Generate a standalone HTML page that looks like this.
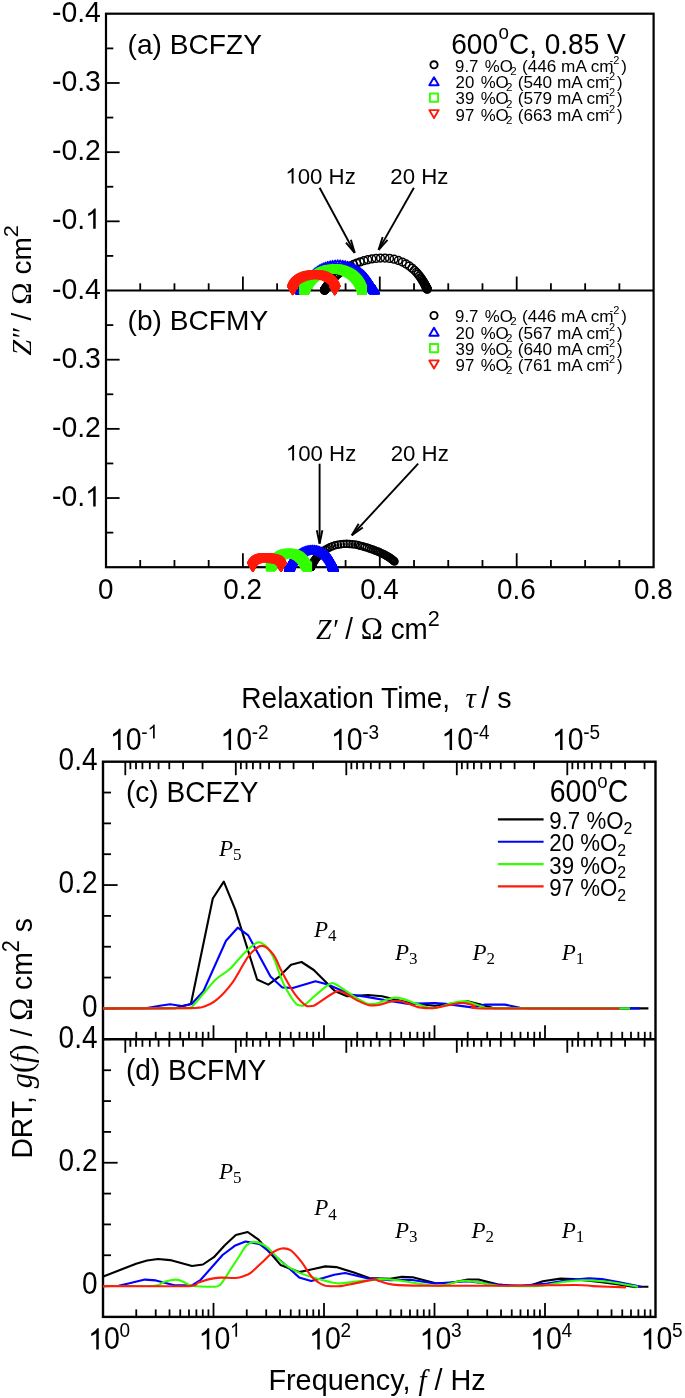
<!DOCTYPE html>
<html><head><meta charset="utf-8"><style>
html,body{margin:0;padding:0;background:#fff;}
svg{display:block;will-change:transform;}
</style></head><body>
<svg width="685" height="1398" viewBox="0 0 685 1398">
<rect width="685" height="1398" fill="#fff"/>
<rect x="106.0" y="13.7" width="547.6" height="553.5" fill="none" stroke="#000" stroke-width="2.2"/>
<line x1="106.00" y1="290.50" x2="653.60" y2="290.50" stroke="#000" stroke-width="2.2"/>
<line x1="140.22" y1="290.50" x2="140.22" y2="283.30" stroke="#000" stroke-width="1.8"/>
<line x1="174.45" y1="290.50" x2="174.45" y2="283.30" stroke="#000" stroke-width="1.8"/>
<line x1="208.68" y1="290.50" x2="208.68" y2="283.30" stroke="#000" stroke-width="1.8"/>
<line x1="242.90" y1="290.50" x2="242.90" y2="276.50" stroke="#000" stroke-width="1.8"/>
<line x1="277.12" y1="290.50" x2="277.12" y2="283.30" stroke="#000" stroke-width="1.8"/>
<line x1="311.35" y1="290.50" x2="311.35" y2="283.30" stroke="#000" stroke-width="1.8"/>
<line x1="345.58" y1="290.50" x2="345.58" y2="283.30" stroke="#000" stroke-width="1.8"/>
<line x1="379.80" y1="290.50" x2="379.80" y2="276.50" stroke="#000" stroke-width="1.8"/>
<line x1="414.03" y1="290.50" x2="414.03" y2="283.30" stroke="#000" stroke-width="1.8"/>
<line x1="448.25" y1="290.50" x2="448.25" y2="283.30" stroke="#000" stroke-width="1.8"/>
<line x1="482.48" y1="290.50" x2="482.48" y2="283.30" stroke="#000" stroke-width="1.8"/>
<line x1="516.70" y1="290.50" x2="516.70" y2="276.50" stroke="#000" stroke-width="1.8"/>
<line x1="550.92" y1="290.50" x2="550.92" y2="283.30" stroke="#000" stroke-width="1.8"/>
<line x1="585.15" y1="290.50" x2="585.15" y2="283.30" stroke="#000" stroke-width="1.8"/>
<line x1="619.38" y1="290.50" x2="619.38" y2="283.30" stroke="#000" stroke-width="1.8"/>
<line x1="140.22" y1="567.20" x2="140.22" y2="560.00" stroke="#000" stroke-width="1.8"/>
<line x1="174.45" y1="567.20" x2="174.45" y2="560.00" stroke="#000" stroke-width="1.8"/>
<line x1="208.68" y1="567.20" x2="208.68" y2="560.00" stroke="#000" stroke-width="1.8"/>
<line x1="242.90" y1="567.20" x2="242.90" y2="553.20" stroke="#000" stroke-width="1.8"/>
<line x1="277.12" y1="567.20" x2="277.12" y2="560.00" stroke="#000" stroke-width="1.8"/>
<line x1="311.35" y1="567.20" x2="311.35" y2="560.00" stroke="#000" stroke-width="1.8"/>
<line x1="345.58" y1="567.20" x2="345.58" y2="560.00" stroke="#000" stroke-width="1.8"/>
<line x1="379.80" y1="567.20" x2="379.80" y2="553.20" stroke="#000" stroke-width="1.8"/>
<line x1="414.03" y1="567.20" x2="414.03" y2="560.00" stroke="#000" stroke-width="1.8"/>
<line x1="448.25" y1="567.20" x2="448.25" y2="560.00" stroke="#000" stroke-width="1.8"/>
<line x1="482.48" y1="567.20" x2="482.48" y2="560.00" stroke="#000" stroke-width="1.8"/>
<line x1="516.70" y1="567.20" x2="516.70" y2="553.20" stroke="#000" stroke-width="1.8"/>
<line x1="550.92" y1="567.20" x2="550.92" y2="560.00" stroke="#000" stroke-width="1.8"/>
<line x1="585.15" y1="567.20" x2="585.15" y2="560.00" stroke="#000" stroke-width="1.8"/>
<line x1="619.38" y1="567.20" x2="619.38" y2="560.00" stroke="#000" stroke-width="1.8"/>
<line x1="106.00" y1="255.91" x2="113.30" y2="255.91" stroke="#000" stroke-width="1.8"/>
<line x1="106.00" y1="221.33" x2="119.60" y2="221.33" stroke="#000" stroke-width="1.8"/>
<line x1="106.00" y1="186.74" x2="113.30" y2="186.74" stroke="#000" stroke-width="1.8"/>
<line x1="106.00" y1="152.16" x2="119.60" y2="152.16" stroke="#000" stroke-width="1.8"/>
<line x1="106.00" y1="117.57" x2="113.30" y2="117.57" stroke="#000" stroke-width="1.8"/>
<line x1="106.00" y1="82.99" x2="119.60" y2="82.99" stroke="#000" stroke-width="1.8"/>
<line x1="106.00" y1="48.40" x2="113.30" y2="48.40" stroke="#000" stroke-width="1.8"/>
<line x1="106.00" y1="532.62" x2="113.30" y2="532.62" stroke="#000" stroke-width="1.8"/>
<line x1="106.00" y1="498.03" x2="119.60" y2="498.03" stroke="#000" stroke-width="1.8"/>
<line x1="106.00" y1="463.45" x2="113.30" y2="463.45" stroke="#000" stroke-width="1.8"/>
<line x1="106.00" y1="428.86" x2="119.60" y2="428.86" stroke="#000" stroke-width="1.8"/>
<line x1="106.00" y1="394.28" x2="113.30" y2="394.28" stroke="#000" stroke-width="1.8"/>
<line x1="106.00" y1="359.69" x2="119.60" y2="359.69" stroke="#000" stroke-width="1.8"/>
<line x1="106.00" y1="325.11" x2="113.30" y2="325.11" stroke="#000" stroke-width="1.8"/>
<text transform="translate(100.90,22.22) scale(1.04,1.08)" font-family='"Liberation Sans", sans-serif' font-size="27.3" text-anchor="end">-0.4</text>
<text transform="translate(100.90,91.39) scale(1.04,1.08)" font-family='"Liberation Sans", sans-serif' font-size="27.3" text-anchor="end">-0.3</text>
<text transform="translate(100.90,160.16) scale(1.04,1.08)" font-family='"Liberation Sans", sans-serif' font-size="27.3" text-anchor="end">-0.2</text>
<path d="M95.69,228.83 L93.19,228.83 L93.19,213.02 Q92.29,213.89 90.82,214.74 Q89.35,215.59 88.19,216.03 L88.19,213.61 Q90.28,212.63 91.85,211.24 Q93.41,209.86 94.07,208.55 L95.69,208.55 Z" fill="#000"/>
<text transform="translate(100.90,228.83) scale(1.04,1.08)" font-family='"Liberation Sans", sans-serif' font-size="27.3" text-anchor="end">-0. </text>
<text transform="translate(100.90,298.92) scale(1.04,1.08)" font-family='"Liberation Sans", sans-serif' font-size="27.3" text-anchor="end">-0.4</text>
<text transform="translate(100.90,368.09) scale(1.04,1.08)" font-family='"Liberation Sans", sans-serif' font-size="27.3" text-anchor="end">-0.3</text>
<text transform="translate(100.90,437.26) scale(1.04,1.08)" font-family='"Liberation Sans", sans-serif' font-size="27.3" text-anchor="end">-0.2</text>
<path d="M95.69,506.43 L93.19,506.43 L93.19,490.62 Q92.29,491.49 90.82,492.34 Q89.35,493.19 88.19,493.63 L88.19,491.21 Q90.28,490.23 91.85,488.84 Q93.41,487.46 94.07,486.15 L95.69,486.15 Z" fill="#000"/>
<text transform="translate(100.90,506.43) scale(1.04,1.08)" font-family='"Liberation Sans", sans-serif' font-size="27.3" text-anchor="end">-0. </text>
<text transform="translate(105.70,598.70) scale(1.02,1.09)" font-family='"Liberation Sans", sans-serif' font-size="27.3" text-anchor="middle" >0</text>
<text transform="translate(242.60,598.70) scale(1.02,1.09)" font-family='"Liberation Sans", sans-serif' font-size="27.3" text-anchor="middle" >0.2</text>
<text transform="translate(379.50,598.70) scale(1.02,1.09)" font-family='"Liberation Sans", sans-serif' font-size="27.3" text-anchor="middle" >0.4</text>
<text transform="translate(516.40,598.70) scale(1.02,1.09)" font-family='"Liberation Sans", sans-serif' font-size="27.3" text-anchor="middle" >0.6</text>
<text transform="translate(653.30,598.70) scale(1.02,1.09)" font-family='"Liberation Sans", sans-serif' font-size="27.3" text-anchor="middle" >0.8</text>
<text transform="translate(316.00,639.00) scale(1.03,1.07)" font-family='"Liberation Sans", sans-serif' font-size="27" text-anchor="start"><tspan font-family='"Liberation Serif", serif' font-style="italic">Z</tspan><tspan font-family='"Liberation Serif", serif' font-style="italic">&#8242;</tspan> / <tspan font-family='"Liberation Serif", serif' font-size="29">&#937;</tspan> cm<tspan dy="-12.5" font-size="21">2</tspan></text>
<text transform="translate(30.80,355.50) rotate(-90) scale(1.04,1.0)" font-family='"Liberation Sans", sans-serif' font-size="27" text-anchor="start"><tspan font-family='"Liberation Serif", serif' font-style="italic">Z</tspan><tspan font-family='"Liberation Serif", serif' font-style="italic">&#8243;</tspan> / <tspan font-family='"Liberation Serif", serif' font-size="29">&#937;</tspan> cm<tspan dy="-12.5" font-size="21">2</tspan></text>
<text transform="translate(127.60,53.50) scale(1.03,1.037)" font-family='"Liberation Sans", sans-serif' font-size="27.3" text-anchor="start" >(a) BCFZY</text>
<text transform="translate(127.60,329.70) scale(1.03,1.037)" font-family='"Liberation Sans", sans-serif' font-size="27.3" text-anchor="start" >(b) BCFMY</text>
<text transform="translate(451.30,53.70) scale(1.045,1.08)" font-family='"Liberation Sans", sans-serif' font-size="26.8" text-anchor="start">600<tspan dx="0.5" dy="-13.6" font-size="18">o</tspan><tspan dy="13.6">C, 0.85 V</tspan></text>
<circle cx="434.00" cy="64.80" r="3.60" fill="none" stroke="#000000" stroke-width="1.9"/>
<text transform="translate(455.05,71.60) scale(1.05,1.02)" font-family='"Liberation Sans", sans-serif' font-size="16">9.7</text>
<text transform="translate(484.85,71.60) scale(1.05,1.02)" font-family='"Liberation Sans", sans-serif' font-size="16">%O</text>
<text transform="translate(510.28,74.70) scale(1.05,1.02)" font-family='"Liberation Sans", sans-serif' font-size="11">2</text>
<text transform="translate(521.92,71.60) scale(1.075,1.02)" font-family='"Liberation Sans", sans-serif' font-size="16">(446 mA cm</text>
<text transform="translate(609.61,63.50) scale(1.05,1.02)" font-family='"Liberation Sans", sans-serif' font-size="10.5">-2</text>
<text transform="translate(621.20,71.60) scale(1.05,1.02)" font-family='"Liberation Sans", sans-serif' font-size="16">)</text>
<path d="M434.00,77.20 L438.70,85.20 L429.30,85.20 Z" fill="none" stroke="#0000ff" stroke-width="1.9" stroke-linejoin="round"/>
<text transform="translate(455.55,88.00) scale(1.05,1.02)" font-family='"Liberation Sans", sans-serif' font-size="16">20</text>
<text transform="translate(480.65,88.00) scale(1.05,1.02)" font-family='"Liberation Sans", sans-serif' font-size="16">%O</text>
<text transform="translate(506.08,91.10) scale(1.05,1.02)" font-family='"Liberation Sans", sans-serif' font-size="11">2</text>
<text transform="translate(517.72,88.00) scale(1.075,1.02)" font-family='"Liberation Sans", sans-serif' font-size="16">(540 mA cm</text>
<text transform="translate(605.41,79.90) scale(1.05,1.02)" font-family='"Liberation Sans", sans-serif' font-size="10.5">-2</text>
<text transform="translate(617.00,88.00) scale(1.05,1.02)" font-family='"Liberation Sans", sans-serif' font-size="16">)</text>
<rect x="429.90" y="93.50" width="8.20" height="8.20" fill="none" stroke="#33ff00" stroke-width="1.9" stroke-linejoin="round"/>
<text transform="translate(455.55,104.40) scale(1.05,1.02)" font-family='"Liberation Sans", sans-serif' font-size="16">39</text>
<text transform="translate(480.65,104.40) scale(1.05,1.02)" font-family='"Liberation Sans", sans-serif' font-size="16">%O</text>
<text transform="translate(506.08,107.50) scale(1.05,1.02)" font-family='"Liberation Sans", sans-serif' font-size="11">2</text>
<text transform="translate(517.72,104.40) scale(1.075,1.02)" font-family='"Liberation Sans", sans-serif' font-size="16">(579 mA cm</text>
<text transform="translate(605.41,96.30) scale(1.05,1.02)" font-family='"Liberation Sans", sans-serif' font-size="10.5">-2</text>
<text transform="translate(617.00,104.40) scale(1.05,1.02)" font-family='"Liberation Sans", sans-serif' font-size="16">)</text>
<path d="M434.00,118.10 L438.70,110.10 L429.30,110.10 Z" fill="none" stroke="#ff1a0a" stroke-width="1.9" stroke-linejoin="round"/>
<text transform="translate(455.55,120.90) scale(1.05,1.02)" font-family='"Liberation Sans", sans-serif' font-size="16">97</text>
<text transform="translate(480.65,120.90) scale(1.05,1.02)" font-family='"Liberation Sans", sans-serif' font-size="16">%O</text>
<text transform="translate(506.08,124.00) scale(1.05,1.02)" font-family='"Liberation Sans", sans-serif' font-size="11">2</text>
<text transform="translate(517.72,120.90) scale(1.075,1.02)" font-family='"Liberation Sans", sans-serif' font-size="16">(663 mA cm</text>
<text transform="translate(605.41,112.80) scale(1.05,1.02)" font-family='"Liberation Sans", sans-serif' font-size="10.5">-2</text>
<text transform="translate(617.00,120.90) scale(1.05,1.02)" font-family='"Liberation Sans", sans-serif' font-size="16">)</text>
<circle cx="434.00" cy="315.50" r="3.60" fill="none" stroke="#000000" stroke-width="1.9"/>
<text transform="translate(455.05,322.30) scale(1.05,1.02)" font-family='"Liberation Sans", sans-serif' font-size="16">9.7</text>
<text transform="translate(484.85,322.30) scale(1.05,1.02)" font-family='"Liberation Sans", sans-serif' font-size="16">%O</text>
<text transform="translate(510.28,325.40) scale(1.05,1.02)" font-family='"Liberation Sans", sans-serif' font-size="11">2</text>
<text transform="translate(521.92,322.30) scale(1.075,1.02)" font-family='"Liberation Sans", sans-serif' font-size="16">(446 mA cm</text>
<text transform="translate(609.61,314.20) scale(1.05,1.02)" font-family='"Liberation Sans", sans-serif' font-size="10.5">-2</text>
<text transform="translate(621.20,322.30) scale(1.05,1.02)" font-family='"Liberation Sans", sans-serif' font-size="16">)</text>
<path d="M434.00,327.80 L438.70,335.80 L429.30,335.80 Z" fill="none" stroke="#0000ff" stroke-width="1.9" stroke-linejoin="round"/>
<text transform="translate(455.55,338.60) scale(1.05,1.02)" font-family='"Liberation Sans", sans-serif' font-size="16">20</text>
<text transform="translate(480.65,338.60) scale(1.05,1.02)" font-family='"Liberation Sans", sans-serif' font-size="16">%O</text>
<text transform="translate(506.08,341.70) scale(1.05,1.02)" font-family='"Liberation Sans", sans-serif' font-size="11">2</text>
<text transform="translate(517.72,338.60) scale(1.075,1.02)" font-family='"Liberation Sans", sans-serif' font-size="16">(567 mA cm</text>
<text transform="translate(605.41,330.50) scale(1.05,1.02)" font-family='"Liberation Sans", sans-serif' font-size="10.5">-2</text>
<text transform="translate(617.00,338.60) scale(1.05,1.02)" font-family='"Liberation Sans", sans-serif' font-size="16">)</text>
<rect x="429.90" y="344.00" width="8.20" height="8.20" fill="none" stroke="#33ff00" stroke-width="1.9" stroke-linejoin="round"/>
<text transform="translate(455.55,354.90) scale(1.05,1.02)" font-family='"Liberation Sans", sans-serif' font-size="16">39</text>
<text transform="translate(480.65,354.90) scale(1.05,1.02)" font-family='"Liberation Sans", sans-serif' font-size="16">%O</text>
<text transform="translate(506.08,358.00) scale(1.05,1.02)" font-family='"Liberation Sans", sans-serif' font-size="11">2</text>
<text transform="translate(517.72,354.90) scale(1.075,1.02)" font-family='"Liberation Sans", sans-serif' font-size="16">(640 mA cm</text>
<text transform="translate(605.41,346.80) scale(1.05,1.02)" font-family='"Liberation Sans", sans-serif' font-size="10.5">-2</text>
<text transform="translate(617.00,354.90) scale(1.05,1.02)" font-family='"Liberation Sans", sans-serif' font-size="16">)</text>
<path d="M434.00,368.40 L438.70,360.40 L429.30,360.40 Z" fill="none" stroke="#ff1a0a" stroke-width="1.9" stroke-linejoin="round"/>
<text transform="translate(455.55,371.20) scale(1.05,1.02)" font-family='"Liberation Sans", sans-serif' font-size="16">97</text>
<text transform="translate(480.65,371.20) scale(1.05,1.02)" font-family='"Liberation Sans", sans-serif' font-size="16">%O</text>
<text transform="translate(506.08,374.30) scale(1.05,1.02)" font-family='"Liberation Sans", sans-serif' font-size="11">2</text>
<text transform="translate(517.72,371.20) scale(1.075,1.02)" font-family='"Liberation Sans", sans-serif' font-size="16">(761 mA cm</text>
<text transform="translate(605.41,363.10) scale(1.05,1.02)" font-family='"Liberation Sans", sans-serif' font-size="10.5">-2</text>
<text transform="translate(617.00,371.20) scale(1.05,1.02)" font-family='"Liberation Sans", sans-serif' font-size="16">)</text>
<circle cx="324.54" cy="290.12" r="3.89" fill="none" stroke="#000000" stroke-width="1.5"/>
<circle cx="324.57" cy="290.07" r="3.89" fill="none" stroke="#000000" stroke-width="1.5"/>
<circle cx="324.60" cy="290.02" r="3.89" fill="none" stroke="#000000" stroke-width="1.5"/>
<circle cx="324.63" cy="289.95" r="3.89" fill="none" stroke="#000000" stroke-width="1.5"/>
<circle cx="324.67" cy="289.89" r="3.89" fill="none" stroke="#000000" stroke-width="1.5"/>
<circle cx="324.72" cy="289.81" r="3.89" fill="none" stroke="#000000" stroke-width="1.5"/>
<circle cx="324.77" cy="289.72" r="3.89" fill="none" stroke="#000000" stroke-width="1.5"/>
<circle cx="324.82" cy="289.62" r="3.89" fill="none" stroke="#000000" stroke-width="1.5"/>
<circle cx="324.89" cy="289.51" r="3.89" fill="none" stroke="#000000" stroke-width="1.5"/>
<circle cx="324.96" cy="289.39" r="3.89" fill="none" stroke="#000000" stroke-width="1.5"/>
<circle cx="325.04" cy="289.25" r="3.89" fill="none" stroke="#000000" stroke-width="1.5"/>
<circle cx="325.13" cy="289.09" r="3.89" fill="none" stroke="#000000" stroke-width="1.5"/>
<circle cx="325.24" cy="288.91" r="3.89" fill="none" stroke="#000000" stroke-width="1.5"/>
<circle cx="325.35" cy="288.72" r="3.89" fill="none" stroke="#000000" stroke-width="1.5"/>
<circle cx="325.49" cy="288.49" r="3.89" fill="none" stroke="#000000" stroke-width="1.5"/>
<circle cx="325.64" cy="288.25" r="3.89" fill="none" stroke="#000000" stroke-width="1.5"/>
<circle cx="325.81" cy="287.97" r="3.89" fill="none" stroke="#000000" stroke-width="1.5"/>
<circle cx="326.00" cy="287.65" r="3.89" fill="none" stroke="#000000" stroke-width="1.5"/>
<circle cx="326.22" cy="287.31" r="3.89" fill="none" stroke="#000000" stroke-width="1.5"/>
<circle cx="326.47" cy="286.92" r="3.89" fill="none" stroke="#000000" stroke-width="1.5"/>
<circle cx="326.76" cy="286.48" r="3.89" fill="none" stroke="#000000" stroke-width="1.5"/>
<circle cx="327.08" cy="286.00" r="3.89" fill="none" stroke="#000000" stroke-width="1.5"/>
<circle cx="327.45" cy="285.46" r="3.89" fill="none" stroke="#000000" stroke-width="1.5"/>
<circle cx="327.87" cy="284.86" r="3.89" fill="none" stroke="#000000" stroke-width="1.5"/>
<circle cx="328.35" cy="284.20" r="3.89" fill="none" stroke="#000000" stroke-width="1.5"/>
<circle cx="328.89" cy="283.47" r="3.89" fill="none" stroke="#000000" stroke-width="1.5"/>
<circle cx="329.52" cy="282.67" r="3.89" fill="none" stroke="#000000" stroke-width="1.5"/>
<circle cx="330.22" cy="281.80" r="3.89" fill="none" stroke="#000000" stroke-width="1.5"/>
<circle cx="331.03" cy="280.84" r="3.89" fill="none" stroke="#000000" stroke-width="1.5"/>
<circle cx="331.94" cy="279.80" r="3.89" fill="none" stroke="#000000" stroke-width="1.5"/>
<circle cx="332.99" cy="278.67" r="3.89" fill="none" stroke="#000000" stroke-width="1.5"/>
<circle cx="334.17" cy="277.47" r="3.89" fill="none" stroke="#000000" stroke-width="1.5"/>
<circle cx="335.51" cy="276.18" r="3.89" fill="none" stroke="#000000" stroke-width="1.5"/>
<circle cx="337.02" cy="274.82" r="3.89" fill="none" stroke="#000000" stroke-width="1.5"/>
<circle cx="338.71" cy="273.40" r="3.89" fill="none" stroke="#000000" stroke-width="1.5"/>
<circle cx="340.61" cy="271.92" r="3.89" fill="none" stroke="#000000" stroke-width="1.5"/>
<circle cx="342.73" cy="270.41" r="3.89" fill="none" stroke="#000000" stroke-width="1.5"/>
<circle cx="345.07" cy="268.89" r="3.89" fill="none" stroke="#000000" stroke-width="1.5"/>
<circle cx="347.64" cy="267.37" r="3.89" fill="none" stroke="#000000" stroke-width="1.5"/>
<circle cx="350.45" cy="265.88" r="3.89" fill="none" stroke="#000000" stroke-width="1.5"/>
<circle cx="353.49" cy="264.45" r="3.89" fill="none" stroke="#000000" stroke-width="1.5"/>
<circle cx="356.75" cy="263.10" r="3.89" fill="none" stroke="#000000" stroke-width="1.5"/>
<circle cx="360.22" cy="261.85" r="3.89" fill="none" stroke="#000000" stroke-width="1.5"/>
<circle cx="363.91" cy="260.73" r="3.89" fill="none" stroke="#000000" stroke-width="1.5"/>
<circle cx="367.78" cy="259.76" r="3.89" fill="none" stroke="#000000" stroke-width="1.5"/>
<circle cx="371.84" cy="258.96" r="3.89" fill="none" stroke="#000000" stroke-width="1.5"/>
<circle cx="376.07" cy="258.38" r="3.89" fill="none" stroke="#000000" stroke-width="1.5"/>
<circle cx="380.46" cy="258.06" r="3.89" fill="none" stroke="#000000" stroke-width="1.5"/>
<circle cx="384.96" cy="258.06" r="3.89" fill="none" stroke="#000000" stroke-width="1.5"/>
<circle cx="389.51" cy="258.43" r="3.89" fill="none" stroke="#000000" stroke-width="1.5"/>
<circle cx="394.01" cy="259.23" r="3.89" fill="none" stroke="#000000" stroke-width="1.5"/>
<circle cx="398.34" cy="260.44" r="3.89" fill="none" stroke="#000000" stroke-width="1.5"/>
<circle cx="402.39" cy="262.03" r="3.89" fill="none" stroke="#000000" stroke-width="1.5"/>
<circle cx="406.05" cy="263.92" r="3.89" fill="none" stroke="#000000" stroke-width="1.5"/>
<circle cx="409.27" cy="265.99" r="3.89" fill="none" stroke="#000000" stroke-width="1.5"/>
<circle cx="412.05" cy="268.14" r="3.89" fill="none" stroke="#000000" stroke-width="1.5"/>
<circle cx="414.42" cy="270.27" r="3.89" fill="none" stroke="#000000" stroke-width="1.5"/>
<circle cx="416.41" cy="272.31" r="3.89" fill="none" stroke="#000000" stroke-width="1.5"/>
<circle cx="418.07" cy="274.23" r="3.89" fill="none" stroke="#000000" stroke-width="1.5"/>
<circle cx="419.47" cy="276.00" r="3.89" fill="none" stroke="#000000" stroke-width="1.5"/>
<circle cx="420.64" cy="277.62" r="3.89" fill="none" stroke="#000000" stroke-width="1.5"/>
<circle cx="421.63" cy="279.07" r="3.89" fill="none" stroke="#000000" stroke-width="1.5"/>
<circle cx="422.47" cy="280.38" r="3.89" fill="none" stroke="#000000" stroke-width="1.5"/>
<circle cx="423.18" cy="281.54" r="3.89" fill="none" stroke="#000000" stroke-width="1.5"/>
<circle cx="423.79" cy="282.58" r="3.89" fill="none" stroke="#000000" stroke-width="1.5"/>
<circle cx="424.31" cy="283.50" r="3.89" fill="none" stroke="#000000" stroke-width="1.5"/>
<circle cx="424.76" cy="284.32" r="3.89" fill="none" stroke="#000000" stroke-width="1.5"/>
<circle cx="425.15" cy="285.04" r="3.89" fill="none" stroke="#000000" stroke-width="1.5"/>
<circle cx="425.49" cy="285.68" r="3.89" fill="none" stroke="#000000" stroke-width="1.5"/>
<circle cx="425.78" cy="286.25" r="3.89" fill="none" stroke="#000000" stroke-width="1.5"/>
<circle cx="426.04" cy="286.75" r="3.89" fill="none" stroke="#000000" stroke-width="1.5"/>
<circle cx="426.27" cy="287.19" r="3.89" fill="none" stroke="#000000" stroke-width="1.5"/>
<circle cx="426.46" cy="287.58" r="3.89" fill="none" stroke="#000000" stroke-width="1.5"/>
<circle cx="426.64" cy="287.92" r="3.89" fill="none" stroke="#000000" stroke-width="1.5"/>
<circle cx="426.79" cy="288.22" r="3.89" fill="none" stroke="#000000" stroke-width="1.5"/>
<circle cx="426.92" cy="288.49" r="3.89" fill="none" stroke="#000000" stroke-width="1.5"/>
<circle cx="427.04" cy="288.72" r="3.89" fill="none" stroke="#000000" stroke-width="1.5"/>
<circle cx="427.15" cy="288.93" r="3.89" fill="none" stroke="#000000" stroke-width="1.5"/>
<circle cx="427.24" cy="289.11" r="3.89" fill="none" stroke="#000000" stroke-width="1.5"/>
<path d="M300.64,285.72 L305.34,293.72 L295.94,293.72 Z" fill="none" stroke="#0000ff" stroke-width="1.6" stroke-linejoin="round"/>
<path d="M300.69,285.69 L305.39,293.69 L295.99,293.69 Z" fill="none" stroke="#0000ff" stroke-width="1.6" stroke-linejoin="round"/>
<path d="M300.74,285.65 L305.44,293.65 L296.04,293.65 Z" fill="none" stroke="#0000ff" stroke-width="1.6" stroke-linejoin="round"/>
<path d="M300.79,285.61 L305.49,293.61 L296.09,293.61 Z" fill="none" stroke="#0000ff" stroke-width="1.6" stroke-linejoin="round"/>
<path d="M300.85,285.58 L305.55,293.58 L296.15,293.58 Z" fill="none" stroke="#0000ff" stroke-width="1.6" stroke-linejoin="round"/>
<path d="M300.90,285.53 L305.60,293.53 L296.20,293.53 Z" fill="none" stroke="#0000ff" stroke-width="1.6" stroke-linejoin="round"/>
<path d="M300.96,285.49 L305.66,293.49 L296.26,293.49 Z" fill="none" stroke="#0000ff" stroke-width="1.6" stroke-linejoin="round"/>
<path d="M301.02,285.44 L305.72,293.44 L296.32,293.44 Z" fill="none" stroke="#0000ff" stroke-width="1.6" stroke-linejoin="round"/>
<path d="M301.08,285.39 L305.78,293.39 L296.38,293.39 Z" fill="none" stroke="#0000ff" stroke-width="1.6" stroke-linejoin="round"/>
<path d="M301.15,285.34 L305.85,293.34 L296.45,293.34 Z" fill="none" stroke="#0000ff" stroke-width="1.6" stroke-linejoin="round"/>
<path d="M301.22,285.28 L305.92,293.28 L296.52,293.28 Z" fill="none" stroke="#0000ff" stroke-width="1.6" stroke-linejoin="round"/>
<path d="M301.29,285.22 L305.99,293.22 L296.59,293.22 Z" fill="none" stroke="#0000ff" stroke-width="1.6" stroke-linejoin="round"/>
<path d="M301.36,285.15 L306.06,293.15 L296.66,293.15 Z" fill="none" stroke="#0000ff" stroke-width="1.6" stroke-linejoin="round"/>
<path d="M301.43,285.08 L306.13,293.08 L296.73,293.08 Z" fill="none" stroke="#0000ff" stroke-width="1.6" stroke-linejoin="round"/>
<path d="M301.51,285.01 L306.21,293.01 L296.81,293.01 Z" fill="none" stroke="#0000ff" stroke-width="1.6" stroke-linejoin="round"/>
<path d="M301.59,284.92 L306.29,292.92 L296.89,292.92 Z" fill="none" stroke="#0000ff" stroke-width="1.6" stroke-linejoin="round"/>
<path d="M301.68,284.84 L306.38,292.84 L296.98,292.84 Z" fill="none" stroke="#0000ff" stroke-width="1.6" stroke-linejoin="round"/>
<path d="M301.77,284.74 L306.47,292.74 L297.07,292.74 Z" fill="none" stroke="#0000ff" stroke-width="1.6" stroke-linejoin="round"/>
<path d="M301.86,284.64 L306.56,292.64 L297.16,292.64 Z" fill="none" stroke="#0000ff" stroke-width="1.6" stroke-linejoin="round"/>
<path d="M301.96,284.53 L306.66,292.53 L297.26,292.53 Z" fill="none" stroke="#0000ff" stroke-width="1.6" stroke-linejoin="round"/>
<path d="M302.06,284.41 L306.76,292.41 L297.36,292.41 Z" fill="none" stroke="#0000ff" stroke-width="1.6" stroke-linejoin="round"/>
<path d="M302.17,284.28 L306.87,292.28 L297.47,292.28 Z" fill="none" stroke="#0000ff" stroke-width="1.6" stroke-linejoin="round"/>
<path d="M302.28,284.14 L306.98,292.14 L297.58,292.14 Z" fill="none" stroke="#0000ff" stroke-width="1.6" stroke-linejoin="round"/>
<path d="M302.40,283.99 L307.10,291.99 L297.70,291.99 Z" fill="none" stroke="#0000ff" stroke-width="1.6" stroke-linejoin="round"/>
<path d="M302.52,283.83 L307.22,291.83 L297.82,291.83 Z" fill="none" stroke="#0000ff" stroke-width="1.6" stroke-linejoin="round"/>
<path d="M302.65,283.65 L307.35,291.65 L297.95,291.65 Z" fill="none" stroke="#0000ff" stroke-width="1.6" stroke-linejoin="round"/>
<path d="M302.79,283.46 L307.49,291.46 L298.09,291.46 Z" fill="none" stroke="#0000ff" stroke-width="1.6" stroke-linejoin="round"/>
<path d="M302.93,283.25 L307.63,291.25 L298.23,291.25 Z" fill="none" stroke="#0000ff" stroke-width="1.6" stroke-linejoin="round"/>
<path d="M303.09,283.02 L307.79,291.02 L298.39,291.02 Z" fill="none" stroke="#0000ff" stroke-width="1.6" stroke-linejoin="round"/>
<path d="M303.26,282.77 L307.96,290.77 L298.56,290.77 Z" fill="none" stroke="#0000ff" stroke-width="1.6" stroke-linejoin="round"/>
<path d="M303.43,282.51 L308.13,290.51 L298.73,290.51 Z" fill="none" stroke="#0000ff" stroke-width="1.6" stroke-linejoin="round"/>
<path d="M303.62,282.22 L308.32,290.22 L298.92,290.22 Z" fill="none" stroke="#0000ff" stroke-width="1.6" stroke-linejoin="round"/>
<path d="M303.82,281.90 L308.52,289.90 L299.12,289.90 Z" fill="none" stroke="#0000ff" stroke-width="1.6" stroke-linejoin="round"/>
<path d="M304.04,281.56 L308.74,289.56 L299.34,289.56 Z" fill="none" stroke="#0000ff" stroke-width="1.6" stroke-linejoin="round"/>
<path d="M304.28,281.18 L308.98,289.18 L299.58,289.18 Z" fill="none" stroke="#0000ff" stroke-width="1.6" stroke-linejoin="round"/>
<path d="M304.53,280.78 L309.23,288.78 L299.83,288.78 Z" fill="none" stroke="#0000ff" stroke-width="1.6" stroke-linejoin="round"/>
<path d="M304.81,280.34 L309.51,288.34 L300.11,288.34 Z" fill="none" stroke="#0000ff" stroke-width="1.6" stroke-linejoin="round"/>
<path d="M305.11,279.86 L309.81,287.86 L300.41,287.86 Z" fill="none" stroke="#0000ff" stroke-width="1.6" stroke-linejoin="round"/>
<path d="M305.45,279.35 L310.15,287.35 L300.75,287.35 Z" fill="none" stroke="#0000ff" stroke-width="1.6" stroke-linejoin="round"/>
<path d="M305.81,278.79 L310.51,286.79 L301.11,286.79 Z" fill="none" stroke="#0000ff" stroke-width="1.6" stroke-linejoin="round"/>
<path d="M306.21,278.19 L310.91,286.19 L301.51,286.19 Z" fill="none" stroke="#0000ff" stroke-width="1.6" stroke-linejoin="round"/>
<path d="M306.65,277.54 L311.35,285.54 L301.95,285.54 Z" fill="none" stroke="#0000ff" stroke-width="1.6" stroke-linejoin="round"/>
<path d="M307.14,276.84 L311.84,284.84 L302.44,284.84 Z" fill="none" stroke="#0000ff" stroke-width="1.6" stroke-linejoin="round"/>
<path d="M307.68,276.10 L312.38,284.10 L302.98,284.10 Z" fill="none" stroke="#0000ff" stroke-width="1.6" stroke-linejoin="round"/>
<path d="M308.28,275.30 L312.98,283.30 L303.58,283.30 Z" fill="none" stroke="#0000ff" stroke-width="1.6" stroke-linejoin="round"/>
<path d="M308.95,274.45 L313.65,282.45 L304.25,282.45 Z" fill="none" stroke="#0000ff" stroke-width="1.6" stroke-linejoin="round"/>
<path d="M309.70,273.55 L314.40,281.55 L305.00,281.55 Z" fill="none" stroke="#0000ff" stroke-width="1.6" stroke-linejoin="round"/>
<path d="M310.53,272.61 L315.23,280.61 L305.83,280.61 Z" fill="none" stroke="#0000ff" stroke-width="1.6" stroke-linejoin="round"/>
<path d="M311.46,271.62 L316.16,279.62 L306.76,279.62 Z" fill="none" stroke="#0000ff" stroke-width="1.6" stroke-linejoin="round"/>
<path d="M312.50,270.59 L317.20,278.59 L307.80,278.59 Z" fill="none" stroke="#0000ff" stroke-width="1.6" stroke-linejoin="round"/>
<path d="M313.65,269.52 L318.35,277.52 L308.95,277.52 Z" fill="none" stroke="#0000ff" stroke-width="1.6" stroke-linejoin="round"/>
<path d="M314.92,268.44 L319.62,276.44 L310.22,276.44 Z" fill="none" stroke="#0000ff" stroke-width="1.6" stroke-linejoin="round"/>
<path d="M316.33,267.35 L321.03,275.35 L311.63,275.35 Z" fill="none" stroke="#0000ff" stroke-width="1.6" stroke-linejoin="round"/>
<path d="M317.88,266.27 L322.58,274.27 L313.18,274.27 Z" fill="none" stroke="#0000ff" stroke-width="1.6" stroke-linejoin="round"/>
<path d="M319.57,265.21 L324.27,273.21 L314.87,273.21 Z" fill="none" stroke="#0000ff" stroke-width="1.6" stroke-linejoin="round"/>
<path d="M321.41,264.19 L326.11,272.19 L316.71,272.19 Z" fill="none" stroke="#0000ff" stroke-width="1.6" stroke-linejoin="round"/>
<path d="M323.40,263.24 L328.10,271.24 L318.70,271.24 Z" fill="none" stroke="#0000ff" stroke-width="1.6" stroke-linejoin="round"/>
<path d="M325.52,262.39 L330.22,270.39 L320.82,270.39 Z" fill="none" stroke="#0000ff" stroke-width="1.6" stroke-linejoin="round"/>
<path d="M327.78,261.65 L332.48,269.65 L323.08,269.65 Z" fill="none" stroke="#0000ff" stroke-width="1.6" stroke-linejoin="round"/>
<path d="M330.14,261.04 L334.84,269.04 L325.44,269.04 Z" fill="none" stroke="#0000ff" stroke-width="1.6" stroke-linejoin="round"/>
<path d="M332.59,260.59 L337.29,268.59 L327.89,268.59 Z" fill="none" stroke="#0000ff" stroke-width="1.6" stroke-linejoin="round"/>
<path d="M335.10,260.30 L339.80,268.30 L330.40,268.30 Z" fill="none" stroke="#0000ff" stroke-width="1.6" stroke-linejoin="round"/>
<path d="M337.65,260.20 L342.35,268.20 L332.95,268.20 Z" fill="none" stroke="#0000ff" stroke-width="1.6" stroke-linejoin="round"/>
<path d="M340.20,260.28 L344.90,268.28 L335.50,268.28 Z" fill="none" stroke="#0000ff" stroke-width="1.6" stroke-linejoin="round"/>
<path d="M342.72,260.54 L347.42,268.54 L338.02,268.54 Z" fill="none" stroke="#0000ff" stroke-width="1.6" stroke-linejoin="round"/>
<path d="M345.18,260.97 L349.88,268.97 L340.48,268.97 Z" fill="none" stroke="#0000ff" stroke-width="1.6" stroke-linejoin="round"/>
<path d="M347.56,261.55 L352.26,269.55 L342.86,269.55 Z" fill="none" stroke="#0000ff" stroke-width="1.6" stroke-linejoin="round"/>
<path d="M349.83,262.28 L354.53,270.28 L345.13,270.28 Z" fill="none" stroke="#0000ff" stroke-width="1.6" stroke-linejoin="round"/>
<path d="M351.97,263.12 L356.67,271.12 L347.27,271.12 Z" fill="none" stroke="#0000ff" stroke-width="1.6" stroke-linejoin="round"/>
<path d="M353.98,264.06 L358.68,272.06 L349.28,272.06 Z" fill="none" stroke="#0000ff" stroke-width="1.6" stroke-linejoin="round"/>
<path d="M355.84,265.07 L360.54,273.07 L351.14,273.07 Z" fill="none" stroke="#0000ff" stroke-width="1.6" stroke-linejoin="round"/>
<path d="M357.56,266.13 L362.26,274.13 L352.86,274.13 Z" fill="none" stroke="#0000ff" stroke-width="1.6" stroke-linejoin="round"/>
<path d="M359.12,267.21 L363.82,275.21 L354.42,275.21 Z" fill="none" stroke="#0000ff" stroke-width="1.6" stroke-linejoin="round"/>
<path d="M360.55,268.31 L365.25,276.31 L355.85,276.31 Z" fill="none" stroke="#0000ff" stroke-width="1.6" stroke-linejoin="round"/>
<path d="M361.84,269.40 L366.54,277.40 L357.14,277.40 Z" fill="none" stroke="#0000ff" stroke-width="1.6" stroke-linejoin="round"/>
<path d="M363.01,270.46 L367.71,278.46 L358.31,278.46 Z" fill="none" stroke="#0000ff" stroke-width="1.6" stroke-linejoin="round"/>
<path d="M364.05,271.50 L368.75,279.50 L359.35,279.50 Z" fill="none" stroke="#0000ff" stroke-width="1.6" stroke-linejoin="round"/>
<path d="M365.00,272.50 L369.70,280.50 L360.30,280.50 Z" fill="none" stroke="#0000ff" stroke-width="1.6" stroke-linejoin="round"/>
<path d="M365.84,273.46 L370.54,281.46 L361.14,281.46 Z" fill="none" stroke="#0000ff" stroke-width="1.6" stroke-linejoin="round"/>
<path d="M366.59,274.37 L371.29,282.37 L361.89,282.37 Z" fill="none" stroke="#0000ff" stroke-width="1.6" stroke-linejoin="round"/>
<path d="M367.27,275.23 L371.97,283.23 L362.57,283.23 Z" fill="none" stroke="#0000ff" stroke-width="1.6" stroke-linejoin="round"/>
<path d="M367.88,276.04 L372.58,284.04 L363.18,284.04 Z" fill="none" stroke="#0000ff" stroke-width="1.6" stroke-linejoin="round"/>
<path d="M368.43,276.79 L373.13,284.79 L363.73,284.79 Z" fill="none" stroke="#0000ff" stroke-width="1.6" stroke-linejoin="round"/>
<path d="M368.92,277.50 L373.62,285.50 L364.22,285.50 Z" fill="none" stroke="#0000ff" stroke-width="1.6" stroke-linejoin="round"/>
<path d="M369.36,278.16 L374.06,286.16 L364.66,286.16 Z" fill="none" stroke="#0000ff" stroke-width="1.6" stroke-linejoin="round"/>
<path d="M369.76,278.77 L374.46,286.77 L365.06,286.77 Z" fill="none" stroke="#0000ff" stroke-width="1.6" stroke-linejoin="round"/>
<path d="M370.12,279.33 L374.82,287.33 L365.42,287.33 Z" fill="none" stroke="#0000ff" stroke-width="1.6" stroke-linejoin="round"/>
<path d="M370.45,279.86 L375.15,287.86 L365.75,287.86 Z" fill="none" stroke="#0000ff" stroke-width="1.6" stroke-linejoin="round"/>
<path d="M370.75,280.34 L375.45,288.34 L366.05,288.34 Z" fill="none" stroke="#0000ff" stroke-width="1.6" stroke-linejoin="round"/>
<path d="M371.03,280.79 L375.73,288.79 L366.33,288.79 Z" fill="none" stroke="#0000ff" stroke-width="1.6" stroke-linejoin="round"/>
<path d="M371.28,281.20 L375.98,289.20 L366.58,289.20 Z" fill="none" stroke="#0000ff" stroke-width="1.6" stroke-linejoin="round"/>
<path d="M371.51,281.58 L376.21,289.58 L366.81,289.58 Z" fill="none" stroke="#0000ff" stroke-width="1.6" stroke-linejoin="round"/>
<path d="M371.73,281.93 L376.43,289.93 L367.03,289.93 Z" fill="none" stroke="#0000ff" stroke-width="1.6" stroke-linejoin="round"/>
<path d="M371.93,282.25 L376.63,290.25 L367.23,290.25 Z" fill="none" stroke="#0000ff" stroke-width="1.6" stroke-linejoin="round"/>
<path d="M372.11,282.55 L376.81,290.55 L367.41,290.55 Z" fill="none" stroke="#0000ff" stroke-width="1.6" stroke-linejoin="round"/>
<path d="M372.28,282.82 L376.98,290.82 L367.58,290.82 Z" fill="none" stroke="#0000ff" stroke-width="1.6" stroke-linejoin="round"/>
<path d="M372.44,283.07 L377.14,291.07 L367.74,291.07 Z" fill="none" stroke="#0000ff" stroke-width="1.6" stroke-linejoin="round"/>
<path d="M372.59,283.30 L377.29,291.30 L367.89,291.30 Z" fill="none" stroke="#0000ff" stroke-width="1.6" stroke-linejoin="round"/>
<path d="M372.74,283.51 L377.44,291.51 L368.04,291.51 Z" fill="none" stroke="#0000ff" stroke-width="1.6" stroke-linejoin="round"/>
<path d="M372.87,283.71 L377.57,291.71 L368.17,291.71 Z" fill="none" stroke="#0000ff" stroke-width="1.6" stroke-linejoin="round"/>
<path d="M372.99,283.89 L377.69,291.89 L368.29,291.89 Z" fill="none" stroke="#0000ff" stroke-width="1.6" stroke-linejoin="round"/>
<path d="M373.11,284.05 L377.81,292.05 L368.41,292.05 Z" fill="none" stroke="#0000ff" stroke-width="1.6" stroke-linejoin="round"/>
<path d="M373.22,284.20 L377.92,292.20 L368.52,292.20 Z" fill="none" stroke="#0000ff" stroke-width="1.6" stroke-linejoin="round"/>
<path d="M373.33,284.34 L378.03,292.34 L368.63,292.34 Z" fill="none" stroke="#0000ff" stroke-width="1.6" stroke-linejoin="round"/>
<path d="M373.43,284.47 L378.13,292.47 L368.73,292.47 Z" fill="none" stroke="#0000ff" stroke-width="1.6" stroke-linejoin="round"/>
<path d="M373.53,284.59 L378.23,292.59 L368.83,292.59 Z" fill="none" stroke="#0000ff" stroke-width="1.6" stroke-linejoin="round"/>
<path d="M373.62,284.71 L378.32,292.71 L368.92,292.71 Z" fill="none" stroke="#0000ff" stroke-width="1.6" stroke-linejoin="round"/>
<path d="M373.70,284.81 L378.40,292.81 L369.00,292.81 Z" fill="none" stroke="#0000ff" stroke-width="1.6" stroke-linejoin="round"/>
<path d="M373.79,284.90 L378.49,292.90 L369.09,292.90 Z" fill="none" stroke="#0000ff" stroke-width="1.6" stroke-linejoin="round"/>
<path d="M373.87,284.99 L378.57,292.99 L369.17,292.99 Z" fill="none" stroke="#0000ff" stroke-width="1.6" stroke-linejoin="round"/>
<path d="M373.94,285.07 L378.64,293.07 L369.24,293.07 Z" fill="none" stroke="#0000ff" stroke-width="1.6" stroke-linejoin="round"/>
<path d="M374.02,285.15 L378.72,293.15 L369.32,293.15 Z" fill="none" stroke="#0000ff" stroke-width="1.6" stroke-linejoin="round"/>
<path d="M374.09,285.22 L378.79,293.22 L369.39,293.22 Z" fill="none" stroke="#0000ff" stroke-width="1.6" stroke-linejoin="round"/>
<path d="M374.15,285.29 L378.85,293.29 L369.45,293.29 Z" fill="none" stroke="#0000ff" stroke-width="1.6" stroke-linejoin="round"/>
<path d="M374.22,285.35 L378.92,293.35 L369.52,293.35 Z" fill="none" stroke="#0000ff" stroke-width="1.6" stroke-linejoin="round"/>
<path d="M374.28,285.40 L378.98,293.40 L369.58,293.40 Z" fill="none" stroke="#0000ff" stroke-width="1.6" stroke-linejoin="round"/>
<path d="M374.34,285.46 L379.04,293.46 L369.64,293.46 Z" fill="none" stroke="#0000ff" stroke-width="1.6" stroke-linejoin="round"/>
<path d="M374.40,285.51 L379.10,293.51 L369.70,293.51 Z" fill="none" stroke="#0000ff" stroke-width="1.6" stroke-linejoin="round"/>
<path d="M374.45,285.55 L379.15,293.55 L369.75,293.55 Z" fill="none" stroke="#0000ff" stroke-width="1.6" stroke-linejoin="round"/>
<path d="M374.50,285.60 L379.20,293.60 L369.80,293.60 Z" fill="none" stroke="#0000ff" stroke-width="1.6" stroke-linejoin="round"/>
<path d="M374.56,285.64 L379.26,293.64 L369.86,293.64 Z" fill="none" stroke="#0000ff" stroke-width="1.6" stroke-linejoin="round"/>
<rect x="300.46" y="286.33" width="7.79" height="7.79" fill="none" stroke="#33ff00" stroke-width="1.6" stroke-linejoin="round"/>
<rect x="300.47" y="286.30" width="7.79" height="7.79" fill="none" stroke="#33ff00" stroke-width="1.6" stroke-linejoin="round"/>
<rect x="300.48" y="286.27" width="7.79" height="7.79" fill="none" stroke="#33ff00" stroke-width="1.6" stroke-linejoin="round"/>
<rect x="300.49" y="286.24" width="7.79" height="7.79" fill="none" stroke="#33ff00" stroke-width="1.6" stroke-linejoin="round"/>
<rect x="300.50" y="286.21" width="7.79" height="7.79" fill="none" stroke="#33ff00" stroke-width="1.6" stroke-linejoin="round"/>
<rect x="300.52" y="286.17" width="7.79" height="7.79" fill="none" stroke="#33ff00" stroke-width="1.6" stroke-linejoin="round"/>
<rect x="300.53" y="286.12" width="7.79" height="7.79" fill="none" stroke="#33ff00" stroke-width="1.6" stroke-linejoin="round"/>
<rect x="300.55" y="286.08" width="7.79" height="7.79" fill="none" stroke="#33ff00" stroke-width="1.6" stroke-linejoin="round"/>
<rect x="300.56" y="286.03" width="7.79" height="7.79" fill="none" stroke="#33ff00" stroke-width="1.6" stroke-linejoin="round"/>
<rect x="300.58" y="285.97" width="7.79" height="7.79" fill="none" stroke="#33ff00" stroke-width="1.6" stroke-linejoin="round"/>
<rect x="300.60" y="285.91" width="7.79" height="7.79" fill="none" stroke="#33ff00" stroke-width="1.6" stroke-linejoin="round"/>
<rect x="300.63" y="285.84" width="7.79" height="7.79" fill="none" stroke="#33ff00" stroke-width="1.6" stroke-linejoin="round"/>
<rect x="300.65" y="285.77" width="7.79" height="7.79" fill="none" stroke="#33ff00" stroke-width="1.6" stroke-linejoin="round"/>
<rect x="300.68" y="285.69" width="7.79" height="7.79" fill="none" stroke="#33ff00" stroke-width="1.6" stroke-linejoin="round"/>
<rect x="300.71" y="285.60" width="7.79" height="7.79" fill="none" stroke="#33ff00" stroke-width="1.6" stroke-linejoin="round"/>
<rect x="300.75" y="285.50" width="7.79" height="7.79" fill="none" stroke="#33ff00" stroke-width="1.6" stroke-linejoin="round"/>
<rect x="300.79" y="285.40" width="7.79" height="7.79" fill="none" stroke="#33ff00" stroke-width="1.6" stroke-linejoin="round"/>
<rect x="300.83" y="285.28" width="7.79" height="7.79" fill="none" stroke="#33ff00" stroke-width="1.6" stroke-linejoin="round"/>
<rect x="300.88" y="285.16" width="7.79" height="7.79" fill="none" stroke="#33ff00" stroke-width="1.6" stroke-linejoin="round"/>
<rect x="300.94" y="285.02" width="7.79" height="7.79" fill="none" stroke="#33ff00" stroke-width="1.6" stroke-linejoin="round"/>
<rect x="301.00" y="284.87" width="7.79" height="7.79" fill="none" stroke="#33ff00" stroke-width="1.6" stroke-linejoin="round"/>
<rect x="301.07" y="284.71" width="7.79" height="7.79" fill="none" stroke="#33ff00" stroke-width="1.6" stroke-linejoin="round"/>
<rect x="301.15" y="284.53" width="7.79" height="7.79" fill="none" stroke="#33ff00" stroke-width="1.6" stroke-linejoin="round"/>
<rect x="301.23" y="284.34" width="7.79" height="7.79" fill="none" stroke="#33ff00" stroke-width="1.6" stroke-linejoin="round"/>
<rect x="301.33" y="284.13" width="7.79" height="7.79" fill="none" stroke="#33ff00" stroke-width="1.6" stroke-linejoin="round"/>
<rect x="301.44" y="283.91" width="7.79" height="7.79" fill="none" stroke="#33ff00" stroke-width="1.6" stroke-linejoin="round"/>
<rect x="301.56" y="283.67" width="7.79" height="7.79" fill="none" stroke="#33ff00" stroke-width="1.6" stroke-linejoin="round"/>
<rect x="301.69" y="283.40" width="7.79" height="7.79" fill="none" stroke="#33ff00" stroke-width="1.6" stroke-linejoin="round"/>
<rect x="301.84" y="283.12" width="7.79" height="7.79" fill="none" stroke="#33ff00" stroke-width="1.6" stroke-linejoin="round"/>
<rect x="302.01" y="282.82" width="7.79" height="7.79" fill="none" stroke="#33ff00" stroke-width="1.6" stroke-linejoin="round"/>
<rect x="302.19" y="282.49" width="7.79" height="7.79" fill="none" stroke="#33ff00" stroke-width="1.6" stroke-linejoin="round"/>
<rect x="302.40" y="282.14" width="7.79" height="7.79" fill="none" stroke="#33ff00" stroke-width="1.6" stroke-linejoin="round"/>
<rect x="302.62" y="281.76" width="7.79" height="7.79" fill="none" stroke="#33ff00" stroke-width="1.6" stroke-linejoin="round"/>
<rect x="302.88" y="281.36" width="7.79" height="7.79" fill="none" stroke="#33ff00" stroke-width="1.6" stroke-linejoin="round"/>
<rect x="303.16" y="280.94" width="7.79" height="7.79" fill="none" stroke="#33ff00" stroke-width="1.6" stroke-linejoin="round"/>
<rect x="303.47" y="280.48" width="7.79" height="7.79" fill="none" stroke="#33ff00" stroke-width="1.6" stroke-linejoin="round"/>
<rect x="303.81" y="280.00" width="7.79" height="7.79" fill="none" stroke="#33ff00" stroke-width="1.6" stroke-linejoin="round"/>
<rect x="304.18" y="279.48" width="7.79" height="7.79" fill="none" stroke="#33ff00" stroke-width="1.6" stroke-linejoin="round"/>
<rect x="304.59" y="278.94" width="7.79" height="7.79" fill="none" stroke="#33ff00" stroke-width="1.6" stroke-linejoin="round"/>
<rect x="305.04" y="278.36" width="7.79" height="7.79" fill="none" stroke="#33ff00" stroke-width="1.6" stroke-linejoin="round"/>
<rect x="305.54" y="277.76" width="7.79" height="7.79" fill="none" stroke="#33ff00" stroke-width="1.6" stroke-linejoin="round"/>
<rect x="306.08" y="277.12" width="7.79" height="7.79" fill="none" stroke="#33ff00" stroke-width="1.6" stroke-linejoin="round"/>
<rect x="306.68" y="276.44" width="7.79" height="7.79" fill="none" stroke="#33ff00" stroke-width="1.6" stroke-linejoin="round"/>
<rect x="307.33" y="275.73" width="7.79" height="7.79" fill="none" stroke="#33ff00" stroke-width="1.6" stroke-linejoin="round"/>
<rect x="308.05" y="274.99" width="7.79" height="7.79" fill="none" stroke="#33ff00" stroke-width="1.6" stroke-linejoin="round"/>
<rect x="308.84" y="274.22" width="7.79" height="7.79" fill="none" stroke="#33ff00" stroke-width="1.6" stroke-linejoin="round"/>
<rect x="309.71" y="273.42" width="7.79" height="7.79" fill="none" stroke="#33ff00" stroke-width="1.6" stroke-linejoin="round"/>
<rect x="310.66" y="272.59" width="7.79" height="7.79" fill="none" stroke="#33ff00" stroke-width="1.6" stroke-linejoin="round"/>
<rect x="311.71" y="271.75" width="7.79" height="7.79" fill="none" stroke="#33ff00" stroke-width="1.6" stroke-linejoin="round"/>
<rect x="312.86" y="270.89" width="7.79" height="7.79" fill="none" stroke="#33ff00" stroke-width="1.6" stroke-linejoin="round"/>
<rect x="314.11" y="270.04" width="7.79" height="7.79" fill="none" stroke="#33ff00" stroke-width="1.6" stroke-linejoin="round"/>
<rect x="315.48" y="269.20" width="7.79" height="7.79" fill="none" stroke="#33ff00" stroke-width="1.6" stroke-linejoin="round"/>
<rect x="316.96" y="268.39" width="7.79" height="7.79" fill="none" stroke="#33ff00" stroke-width="1.6" stroke-linejoin="round"/>
<rect x="318.56" y="267.63" width="7.79" height="7.79" fill="none" stroke="#33ff00" stroke-width="1.6" stroke-linejoin="round"/>
<rect x="320.27" y="266.94" width="7.79" height="7.79" fill="none" stroke="#33ff00" stroke-width="1.6" stroke-linejoin="round"/>
<rect x="322.09" y="266.33" width="7.79" height="7.79" fill="none" stroke="#33ff00" stroke-width="1.6" stroke-linejoin="round"/>
<rect x="324.00" y="265.82" width="7.79" height="7.79" fill="none" stroke="#33ff00" stroke-width="1.6" stroke-linejoin="round"/>
<rect x="325.99" y="265.44" width="7.79" height="7.79" fill="none" stroke="#33ff00" stroke-width="1.6" stroke-linejoin="round"/>
<rect x="328.04" y="265.18" width="7.79" height="7.79" fill="none" stroke="#33ff00" stroke-width="1.6" stroke-linejoin="round"/>
<rect x="330.12" y="265.08" width="7.79" height="7.79" fill="none" stroke="#33ff00" stroke-width="1.6" stroke-linejoin="round"/>
<rect x="332.22" y="265.12" width="7.79" height="7.79" fill="none" stroke="#33ff00" stroke-width="1.6" stroke-linejoin="round"/>
<rect x="334.30" y="265.32" width="7.79" height="7.79" fill="none" stroke="#33ff00" stroke-width="1.6" stroke-linejoin="round"/>
<rect x="336.33" y="265.66" width="7.79" height="7.79" fill="none" stroke="#33ff00" stroke-width="1.6" stroke-linejoin="round"/>
<rect x="338.30" y="266.13" width="7.79" height="7.79" fill="none" stroke="#33ff00" stroke-width="1.6" stroke-linejoin="round"/>
<rect x="340.19" y="266.73" width="7.79" height="7.79" fill="none" stroke="#33ff00" stroke-width="1.6" stroke-linejoin="round"/>
<rect x="341.97" y="267.43" width="7.79" height="7.79" fill="none" stroke="#33ff00" stroke-width="1.6" stroke-linejoin="round"/>
<rect x="343.64" y="268.22" width="7.79" height="7.79" fill="none" stroke="#33ff00" stroke-width="1.6" stroke-linejoin="round"/>
<rect x="345.19" y="269.08" width="7.79" height="7.79" fill="none" stroke="#33ff00" stroke-width="1.6" stroke-linejoin="round"/>
<rect x="346.61" y="269.98" width="7.79" height="7.79" fill="none" stroke="#33ff00" stroke-width="1.6" stroke-linejoin="round"/>
<rect x="347.91" y="270.91" width="7.79" height="7.79" fill="none" stroke="#33ff00" stroke-width="1.6" stroke-linejoin="round"/>
<rect x="349.08" y="271.85" width="7.79" height="7.79" fill="none" stroke="#33ff00" stroke-width="1.6" stroke-linejoin="round"/>
<rect x="350.14" y="272.79" width="7.79" height="7.79" fill="none" stroke="#33ff00" stroke-width="1.6" stroke-linejoin="round"/>
<rect x="351.08" y="273.71" width="7.79" height="7.79" fill="none" stroke="#33ff00" stroke-width="1.6" stroke-linejoin="round"/>
<rect x="351.92" y="274.61" width="7.79" height="7.79" fill="none" stroke="#33ff00" stroke-width="1.6" stroke-linejoin="round"/>
<rect x="352.67" y="275.48" width="7.79" height="7.79" fill="none" stroke="#33ff00" stroke-width="1.6" stroke-linejoin="round"/>
<rect x="353.33" y="276.31" width="7.79" height="7.79" fill="none" stroke="#33ff00" stroke-width="1.6" stroke-linejoin="round"/>
<rect x="353.91" y="277.10" width="7.79" height="7.79" fill="none" stroke="#33ff00" stroke-width="1.6" stroke-linejoin="round"/>
<rect x="354.42" y="277.85" width="7.79" height="7.79" fill="none" stroke="#33ff00" stroke-width="1.6" stroke-linejoin="round"/>
<rect x="354.87" y="278.55" width="7.79" height="7.79" fill="none" stroke="#33ff00" stroke-width="1.6" stroke-linejoin="round"/>
<rect x="355.27" y="279.20" width="7.79" height="7.79" fill="none" stroke="#33ff00" stroke-width="1.6" stroke-linejoin="round"/>
<rect x="355.62" y="279.82" width="7.79" height="7.79" fill="none" stroke="#33ff00" stroke-width="1.6" stroke-linejoin="round"/>
<rect x="355.93" y="280.38" width="7.79" height="7.79" fill="none" stroke="#33ff00" stroke-width="1.6" stroke-linejoin="round"/>
<rect x="356.20" y="280.91" width="7.79" height="7.79" fill="none" stroke="#33ff00" stroke-width="1.6" stroke-linejoin="round"/>
<rect x="356.44" y="281.40" width="7.79" height="7.79" fill="none" stroke="#33ff00" stroke-width="1.6" stroke-linejoin="round"/>
<rect x="356.65" y="281.84" width="7.79" height="7.79" fill="none" stroke="#33ff00" stroke-width="1.6" stroke-linejoin="round"/>
<rect x="356.83" y="282.26" width="7.79" height="7.79" fill="none" stroke="#33ff00" stroke-width="1.6" stroke-linejoin="round"/>
<rect x="357.00" y="282.64" width="7.79" height="7.79" fill="none" stroke="#33ff00" stroke-width="1.6" stroke-linejoin="round"/>
<rect x="357.14" y="282.99" width="7.79" height="7.79" fill="none" stroke="#33ff00" stroke-width="1.6" stroke-linejoin="round"/>
<rect x="357.27" y="283.30" width="7.79" height="7.79" fill="none" stroke="#33ff00" stroke-width="1.6" stroke-linejoin="round"/>
<rect x="357.38" y="283.60" width="7.79" height="7.79" fill="none" stroke="#33ff00" stroke-width="1.6" stroke-linejoin="round"/>
<rect x="357.48" y="283.86" width="7.79" height="7.79" fill="none" stroke="#33ff00" stroke-width="1.6" stroke-linejoin="round"/>
<rect x="357.57" y="284.11" width="7.79" height="7.79" fill="none" stroke="#33ff00" stroke-width="1.6" stroke-linejoin="round"/>
<rect x="357.65" y="284.33" width="7.79" height="7.79" fill="none" stroke="#33ff00" stroke-width="1.6" stroke-linejoin="round"/>
<rect x="357.72" y="284.54" width="7.79" height="7.79" fill="none" stroke="#33ff00" stroke-width="1.6" stroke-linejoin="round"/>
<rect x="357.78" y="284.72" width="7.79" height="7.79" fill="none" stroke="#33ff00" stroke-width="1.6" stroke-linejoin="round"/>
<rect x="357.84" y="284.89" width="7.79" height="7.79" fill="none" stroke="#33ff00" stroke-width="1.6" stroke-linejoin="round"/>
<rect x="357.89" y="285.05" width="7.79" height="7.79" fill="none" stroke="#33ff00" stroke-width="1.6" stroke-linejoin="round"/>
<rect x="357.93" y="285.19" width="7.79" height="7.79" fill="none" stroke="#33ff00" stroke-width="1.6" stroke-linejoin="round"/>
<rect x="357.97" y="285.32" width="7.79" height="7.79" fill="none" stroke="#33ff00" stroke-width="1.6" stroke-linejoin="round"/>
<rect x="358.01" y="285.43" width="7.79" height="7.79" fill="none" stroke="#33ff00" stroke-width="1.6" stroke-linejoin="round"/>
<rect x="358.04" y="285.54" width="7.79" height="7.79" fill="none" stroke="#33ff00" stroke-width="1.6" stroke-linejoin="round"/>
<rect x="358.07" y="285.64" width="7.79" height="7.79" fill="none" stroke="#33ff00" stroke-width="1.6" stroke-linejoin="round"/>
<rect x="358.09" y="285.72" width="7.79" height="7.79" fill="none" stroke="#33ff00" stroke-width="1.6" stroke-linejoin="round"/>
<rect x="358.12" y="285.81" width="7.79" height="7.79" fill="none" stroke="#33ff00" stroke-width="1.6" stroke-linejoin="round"/>
<rect x="358.14" y="285.88" width="7.79" height="7.79" fill="none" stroke="#33ff00" stroke-width="1.6" stroke-linejoin="round"/>
<rect x="358.16" y="285.94" width="7.79" height="7.79" fill="none" stroke="#33ff00" stroke-width="1.6" stroke-linejoin="round"/>
<rect x="358.17" y="286.00" width="7.79" height="7.79" fill="none" stroke="#33ff00" stroke-width="1.6" stroke-linejoin="round"/>
<rect x="358.19" y="286.06" width="7.79" height="7.79" fill="none" stroke="#33ff00" stroke-width="1.6" stroke-linejoin="round"/>
<rect x="358.20" y="286.11" width="7.79" height="7.79" fill="none" stroke="#33ff00" stroke-width="1.6" stroke-linejoin="round"/>
<rect x="358.22" y="286.15" width="7.79" height="7.79" fill="none" stroke="#33ff00" stroke-width="1.6" stroke-linejoin="round"/>
<rect x="358.23" y="286.20" width="7.79" height="7.79" fill="none" stroke="#33ff00" stroke-width="1.6" stroke-linejoin="round"/>
<rect x="358.24" y="286.23" width="7.79" height="7.79" fill="none" stroke="#33ff00" stroke-width="1.6" stroke-linejoin="round"/>
<rect x="358.25" y="286.27" width="7.79" height="7.79" fill="none" stroke="#33ff00" stroke-width="1.6" stroke-linejoin="round"/>
<rect x="358.26" y="286.30" width="7.79" height="7.79" fill="none" stroke="#33ff00" stroke-width="1.6" stroke-linejoin="round"/>
<rect x="358.26" y="286.33" width="7.79" height="7.79" fill="none" stroke="#33ff00" stroke-width="1.6" stroke-linejoin="round"/>
<rect x="358.27" y="286.35" width="7.79" height="7.79" fill="none" stroke="#33ff00" stroke-width="1.6" stroke-linejoin="round"/>
<rect x="358.28" y="286.38" width="7.79" height="7.79" fill="none" stroke="#33ff00" stroke-width="1.6" stroke-linejoin="round"/>
<rect x="358.28" y="286.40" width="7.79" height="7.79" fill="none" stroke="#33ff00" stroke-width="1.6" stroke-linejoin="round"/>
<rect x="358.29" y="286.42" width="7.79" height="7.79" fill="none" stroke="#33ff00" stroke-width="1.6" stroke-linejoin="round"/>
<rect x="358.29" y="286.43" width="7.79" height="7.79" fill="none" stroke="#33ff00" stroke-width="1.6" stroke-linejoin="round"/>
<rect x="358.30" y="286.45" width="7.79" height="7.79" fill="none" stroke="#33ff00" stroke-width="1.6" stroke-linejoin="round"/>
<path d="M292.74,294.35 L297.44,286.35 L288.04,286.35 Z" fill="none" stroke="#ff1a0a" stroke-width="1.6" stroke-linejoin="round"/>
<path d="M292.75,294.34 L297.45,286.34 L288.05,286.34 Z" fill="none" stroke="#ff1a0a" stroke-width="1.6" stroke-linejoin="round"/>
<path d="M292.75,294.32 L297.45,286.32 L288.05,286.32 Z" fill="none" stroke="#ff1a0a" stroke-width="1.6" stroke-linejoin="round"/>
<path d="M292.75,294.30 L297.45,286.30 L288.05,286.30 Z" fill="none" stroke="#ff1a0a" stroke-width="1.6" stroke-linejoin="round"/>
<path d="M292.76,294.28 L297.46,286.28 L288.06,286.28 Z" fill="none" stroke="#ff1a0a" stroke-width="1.6" stroke-linejoin="round"/>
<path d="M292.76,294.26 L297.46,286.26 L288.06,286.26 Z" fill="none" stroke="#ff1a0a" stroke-width="1.6" stroke-linejoin="round"/>
<path d="M292.76,294.23 L297.46,286.23 L288.06,286.23 Z" fill="none" stroke="#ff1a0a" stroke-width="1.6" stroke-linejoin="round"/>
<path d="M292.77,294.20 L297.47,286.20 L288.07,286.20 Z" fill="none" stroke="#ff1a0a" stroke-width="1.6" stroke-linejoin="round"/>
<path d="M292.78,294.17 L297.48,286.17 L288.08,286.17 Z" fill="none" stroke="#ff1a0a" stroke-width="1.6" stroke-linejoin="round"/>
<path d="M292.78,294.13 L297.48,286.13 L288.08,286.13 Z" fill="none" stroke="#ff1a0a" stroke-width="1.6" stroke-linejoin="round"/>
<path d="M292.79,294.09 L297.49,286.09 L288.09,286.09 Z" fill="none" stroke="#ff1a0a" stroke-width="1.6" stroke-linejoin="round"/>
<path d="M292.80,294.05 L297.50,286.05 L288.10,286.05 Z" fill="none" stroke="#ff1a0a" stroke-width="1.6" stroke-linejoin="round"/>
<path d="M292.81,294.00 L297.51,286.00 L288.11,286.00 Z" fill="none" stroke="#ff1a0a" stroke-width="1.6" stroke-linejoin="round"/>
<path d="M292.82,293.95 L297.52,285.95 L288.12,285.95 Z" fill="none" stroke="#ff1a0a" stroke-width="1.6" stroke-linejoin="round"/>
<path d="M292.83,293.89 L297.53,285.89 L288.13,285.89 Z" fill="none" stroke="#ff1a0a" stroke-width="1.6" stroke-linejoin="round"/>
<path d="M292.84,293.82 L297.54,285.82 L288.14,285.82 Z" fill="none" stroke="#ff1a0a" stroke-width="1.6" stroke-linejoin="round"/>
<path d="M292.86,293.75 L297.56,285.75 L288.16,285.75 Z" fill="none" stroke="#ff1a0a" stroke-width="1.6" stroke-linejoin="round"/>
<path d="M292.88,293.66 L297.58,285.66 L288.18,285.66 Z" fill="none" stroke="#ff1a0a" stroke-width="1.6" stroke-linejoin="round"/>
<path d="M292.90,293.57 L297.60,285.57 L288.20,285.57 Z" fill="none" stroke="#ff1a0a" stroke-width="1.6" stroke-linejoin="round"/>
<path d="M292.92,293.48 L297.62,285.48 L288.22,285.48 Z" fill="none" stroke="#ff1a0a" stroke-width="1.6" stroke-linejoin="round"/>
<path d="M292.94,293.37 L297.64,285.37 L288.24,285.37 Z" fill="none" stroke="#ff1a0a" stroke-width="1.6" stroke-linejoin="round"/>
<path d="M292.97,293.24 L297.67,285.24 L288.27,285.24 Z" fill="none" stroke="#ff1a0a" stroke-width="1.6" stroke-linejoin="round"/>
<path d="M293.01,293.11 L297.71,285.11 L288.31,285.11 Z" fill="none" stroke="#ff1a0a" stroke-width="1.6" stroke-linejoin="round"/>
<path d="M293.05,292.96 L297.75,284.96 L288.35,284.96 Z" fill="none" stroke="#ff1a0a" stroke-width="1.6" stroke-linejoin="round"/>
<path d="M293.09,292.80 L297.79,284.80 L288.39,284.80 Z" fill="none" stroke="#ff1a0a" stroke-width="1.6" stroke-linejoin="round"/>
<path d="M293.14,292.62 L297.84,284.62 L288.44,284.62 Z" fill="none" stroke="#ff1a0a" stroke-width="1.6" stroke-linejoin="round"/>
<path d="M293.20,292.42 L297.90,284.42 L288.50,284.42 Z" fill="none" stroke="#ff1a0a" stroke-width="1.6" stroke-linejoin="round"/>
<path d="M293.27,292.20 L297.97,284.20 L288.57,284.20 Z" fill="none" stroke="#ff1a0a" stroke-width="1.6" stroke-linejoin="round"/>
<path d="M293.35,291.96 L298.05,283.96 L288.65,283.96 Z" fill="none" stroke="#ff1a0a" stroke-width="1.6" stroke-linejoin="round"/>
<path d="M293.44,291.70 L298.14,283.70 L288.74,283.70 Z" fill="none" stroke="#ff1a0a" stroke-width="1.6" stroke-linejoin="round"/>
<path d="M293.55,291.41 L298.25,283.41 L288.85,283.41 Z" fill="none" stroke="#ff1a0a" stroke-width="1.6" stroke-linejoin="round"/>
<path d="M293.67,291.10 L298.37,283.10 L288.97,283.10 Z" fill="none" stroke="#ff1a0a" stroke-width="1.6" stroke-linejoin="round"/>
<path d="M293.81,290.76 L298.51,282.76 L289.11,282.76 Z" fill="none" stroke="#ff1a0a" stroke-width="1.6" stroke-linejoin="round"/>
<path d="M293.98,290.38 L298.68,282.38 L289.28,282.38 Z" fill="none" stroke="#ff1a0a" stroke-width="1.6" stroke-linejoin="round"/>
<path d="M294.18,289.98 L298.88,281.98 L289.48,281.98 Z" fill="none" stroke="#ff1a0a" stroke-width="1.6" stroke-linejoin="round"/>
<path d="M294.40,289.55 L299.10,281.55 L289.70,281.55 Z" fill="none" stroke="#ff1a0a" stroke-width="1.6" stroke-linejoin="round"/>
<path d="M294.66,289.08 L299.36,281.08 L289.96,281.08 Z" fill="none" stroke="#ff1a0a" stroke-width="1.6" stroke-linejoin="round"/>
<path d="M294.97,288.58 L299.67,280.58 L290.27,280.58 Z" fill="none" stroke="#ff1a0a" stroke-width="1.6" stroke-linejoin="round"/>
<path d="M295.31,288.05 L300.01,280.05 L290.61,280.05 Z" fill="none" stroke="#ff1a0a" stroke-width="1.6" stroke-linejoin="round"/>
<path d="M295.72,287.49 L300.42,279.49 L291.02,279.49 Z" fill="none" stroke="#ff1a0a" stroke-width="1.6" stroke-linejoin="round"/>
<path d="M296.17,286.91 L300.87,278.91 L291.47,278.91 Z" fill="none" stroke="#ff1a0a" stroke-width="1.6" stroke-linejoin="round"/>
<path d="M296.69,286.31 L301.39,278.31 L291.99,278.31 Z" fill="none" stroke="#ff1a0a" stroke-width="1.6" stroke-linejoin="round"/>
<path d="M297.28,285.69 L301.98,277.69 L292.58,277.69 Z" fill="none" stroke="#ff1a0a" stroke-width="1.6" stroke-linejoin="round"/>
<path d="M297.93,285.06 L302.63,277.06 L293.23,277.06 Z" fill="none" stroke="#ff1a0a" stroke-width="1.6" stroke-linejoin="round"/>
<path d="M298.66,284.43 L303.36,276.43 L293.96,276.43 Z" fill="none" stroke="#ff1a0a" stroke-width="1.6" stroke-linejoin="round"/>
<path d="M299.46,283.81 L304.16,275.81 L294.76,275.81 Z" fill="none" stroke="#ff1a0a" stroke-width="1.6" stroke-linejoin="round"/>
<path d="M300.33,283.20 L305.03,275.20 L295.63,275.20 Z" fill="none" stroke="#ff1a0a" stroke-width="1.6" stroke-linejoin="round"/>
<path d="M301.27,282.61 L305.97,274.61 L296.57,274.61 Z" fill="none" stroke="#ff1a0a" stroke-width="1.6" stroke-linejoin="round"/>
<path d="M302.27,282.05 L306.97,274.05 L297.57,274.05 Z" fill="none" stroke="#ff1a0a" stroke-width="1.6" stroke-linejoin="round"/>
<path d="M303.34,281.52 L308.04,273.52 L298.64,273.52 Z" fill="none" stroke="#ff1a0a" stroke-width="1.6" stroke-linejoin="round"/>
<path d="M304.46,281.03 L309.16,273.03 L299.76,273.03 Z" fill="none" stroke="#ff1a0a" stroke-width="1.6" stroke-linejoin="round"/>
<path d="M305.64,280.58 L310.34,272.58 L300.94,272.58 Z" fill="none" stroke="#ff1a0a" stroke-width="1.6" stroke-linejoin="round"/>
<path d="M306.87,280.17 L311.57,272.17 L302.17,272.17 Z" fill="none" stroke="#ff1a0a" stroke-width="1.6" stroke-linejoin="round"/>
<path d="M308.14,279.81 L312.84,271.81 L303.44,271.81 Z" fill="none" stroke="#ff1a0a" stroke-width="1.6" stroke-linejoin="round"/>
<path d="M309.45,279.50 L314.15,271.50 L304.75,271.50 Z" fill="none" stroke="#ff1a0a" stroke-width="1.6" stroke-linejoin="round"/>
<path d="M310.81,279.25 L315.51,271.25 L306.11,271.25 Z" fill="none" stroke="#ff1a0a" stroke-width="1.6" stroke-linejoin="round"/>
<path d="M312.20,279.07 L316.90,271.07 L307.50,271.07 Z" fill="none" stroke="#ff1a0a" stroke-width="1.6" stroke-linejoin="round"/>
<path d="M313.63,278.95 L318.33,270.95 L308.93,270.95 Z" fill="none" stroke="#ff1a0a" stroke-width="1.6" stroke-linejoin="round"/>
<path d="M315.07,278.91 L319.77,270.91 L310.37,270.91 Z" fill="none" stroke="#ff1a0a" stroke-width="1.6" stroke-linejoin="round"/>
<path d="M316.53,278.96 L321.23,270.96 L311.83,270.96 Z" fill="none" stroke="#ff1a0a" stroke-width="1.6" stroke-linejoin="round"/>
<path d="M317.99,279.10 L322.69,271.10 L313.29,271.10 Z" fill="none" stroke="#ff1a0a" stroke-width="1.6" stroke-linejoin="round"/>
<path d="M319.43,279.33 L324.13,271.33 L314.73,271.33 Z" fill="none" stroke="#ff1a0a" stroke-width="1.6" stroke-linejoin="round"/>
<path d="M320.84,279.65 L325.54,271.65 L316.14,271.65 Z" fill="none" stroke="#ff1a0a" stroke-width="1.6" stroke-linejoin="round"/>
<path d="M322.20,280.06 L326.90,272.06 L317.50,272.06 Z" fill="none" stroke="#ff1a0a" stroke-width="1.6" stroke-linejoin="round"/>
<path d="M323.50,280.55 L328.20,272.55 L318.80,272.55 Z" fill="none" stroke="#ff1a0a" stroke-width="1.6" stroke-linejoin="round"/>
<path d="M324.73,281.11 L329.43,273.11 L320.03,273.11 Z" fill="none" stroke="#ff1a0a" stroke-width="1.6" stroke-linejoin="round"/>
<path d="M325.87,281.73 L330.57,273.73 L321.17,273.73 Z" fill="none" stroke="#ff1a0a" stroke-width="1.6" stroke-linejoin="round"/>
<path d="M326.93,282.39 L331.63,274.39 L322.23,274.39 Z" fill="none" stroke="#ff1a0a" stroke-width="1.6" stroke-linejoin="round"/>
<path d="M327.88,283.08 L332.58,275.08 L323.18,275.08 Z" fill="none" stroke="#ff1a0a" stroke-width="1.6" stroke-linejoin="round"/>
<path d="M328.75,283.79 L333.45,275.79 L324.05,275.79 Z" fill="none" stroke="#ff1a0a" stroke-width="1.6" stroke-linejoin="round"/>
<path d="M329.53,284.50 L334.23,276.50 L324.83,276.50 Z" fill="none" stroke="#ff1a0a" stroke-width="1.6" stroke-linejoin="round"/>
<path d="M330.21,285.20 L334.91,277.20 L325.51,277.20 Z" fill="none" stroke="#ff1a0a" stroke-width="1.6" stroke-linejoin="round"/>
<path d="M330.82,285.88 L335.52,277.88 L326.12,277.88 Z" fill="none" stroke="#ff1a0a" stroke-width="1.6" stroke-linejoin="round"/>
<path d="M331.35,286.54 L336.05,278.54 L326.65,278.54 Z" fill="none" stroke="#ff1a0a" stroke-width="1.6" stroke-linejoin="round"/>
<path d="M331.82,287.17 L336.52,279.17 L327.12,279.17 Z" fill="none" stroke="#ff1a0a" stroke-width="1.6" stroke-linejoin="round"/>
<path d="M332.22,287.77 L336.92,279.77 L327.52,279.77 Z" fill="none" stroke="#ff1a0a" stroke-width="1.6" stroke-linejoin="round"/>
<path d="M332.57,288.33 L337.27,280.33 L327.87,280.33 Z" fill="none" stroke="#ff1a0a" stroke-width="1.6" stroke-linejoin="round"/>
<path d="M332.87,288.86 L337.57,280.86 L328.17,280.86 Z" fill="none" stroke="#ff1a0a" stroke-width="1.6" stroke-linejoin="round"/>
<path d="M333.14,289.35 L337.84,281.35 L328.44,281.35 Z" fill="none" stroke="#ff1a0a" stroke-width="1.6" stroke-linejoin="round"/>
<path d="M333.36,289.80 L338.06,281.80 L328.66,281.80 Z" fill="none" stroke="#ff1a0a" stroke-width="1.6" stroke-linejoin="round"/>
<path d="M333.56,290.22 L338.26,282.22 L328.86,282.22 Z" fill="none" stroke="#ff1a0a" stroke-width="1.6" stroke-linejoin="round"/>
<path d="M333.73,290.61 L338.43,282.61 L329.03,282.61 Z" fill="none" stroke="#ff1a0a" stroke-width="1.6" stroke-linejoin="round"/>
<path d="M333.87,290.96 L338.57,282.96 L329.17,282.96 Z" fill="none" stroke="#ff1a0a" stroke-width="1.6" stroke-linejoin="round"/>
<path d="M334.00,291.29 L338.70,283.29 L329.30,283.29 Z" fill="none" stroke="#ff1a0a" stroke-width="1.6" stroke-linejoin="round"/>
<path d="M334.11,291.58 L338.81,283.58 L329.41,283.58 Z" fill="none" stroke="#ff1a0a" stroke-width="1.6" stroke-linejoin="round"/>
<path d="M334.20,291.86 L338.90,283.86 L329.50,283.86 Z" fill="none" stroke="#ff1a0a" stroke-width="1.6" stroke-linejoin="round"/>
<path d="M334.28,292.10 L338.98,284.10 L329.58,284.10 Z" fill="none" stroke="#ff1a0a" stroke-width="1.6" stroke-linejoin="round"/>
<path d="M334.36,292.33 L339.06,284.33 L329.66,284.33 Z" fill="none" stroke="#ff1a0a" stroke-width="1.6" stroke-linejoin="round"/>
<path d="M334.42,292.53 L339.12,284.53 L329.72,284.53 Z" fill="none" stroke="#ff1a0a" stroke-width="1.6" stroke-linejoin="round"/>
<path d="M334.47,292.72 L339.17,284.72 L329.77,284.72 Z" fill="none" stroke="#ff1a0a" stroke-width="1.6" stroke-linejoin="round"/>
<path d="M334.52,292.89 L339.22,284.89 L329.82,284.89 Z" fill="none" stroke="#ff1a0a" stroke-width="1.6" stroke-linejoin="round"/>
<path d="M334.56,293.04 L339.26,285.04 L329.86,285.04 Z" fill="none" stroke="#ff1a0a" stroke-width="1.6" stroke-linejoin="round"/>
<path d="M334.60,293.18 L339.30,285.18 L329.90,285.18 Z" fill="none" stroke="#ff1a0a" stroke-width="1.6" stroke-linejoin="round"/>
<path d="M334.63,293.31 L339.33,285.31 L329.93,285.31 Z" fill="none" stroke="#ff1a0a" stroke-width="1.6" stroke-linejoin="round"/>
<path d="M334.66,293.42 L339.36,285.42 L329.96,285.42 Z" fill="none" stroke="#ff1a0a" stroke-width="1.6" stroke-linejoin="round"/>
<path d="M334.68,293.52 L339.38,285.52 L329.98,285.52 Z" fill="none" stroke="#ff1a0a" stroke-width="1.6" stroke-linejoin="round"/>
<path d="M334.70,293.62 L339.40,285.62 L330.00,285.62 Z" fill="none" stroke="#ff1a0a" stroke-width="1.6" stroke-linejoin="round"/>
<path d="M334.72,293.70 L339.42,285.70 L330.02,285.70 Z" fill="none" stroke="#ff1a0a" stroke-width="1.6" stroke-linejoin="round"/>
<path d="M334.74,293.78 L339.44,285.78 L330.04,285.78 Z" fill="none" stroke="#ff1a0a" stroke-width="1.6" stroke-linejoin="round"/>
<path d="M334.75,293.85 L339.45,285.85 L330.05,285.85 Z" fill="none" stroke="#ff1a0a" stroke-width="1.6" stroke-linejoin="round"/>
<path d="M334.77,293.91 L339.47,285.91 L330.07,285.91 Z" fill="none" stroke="#ff1a0a" stroke-width="1.6" stroke-linejoin="round"/>
<path d="M334.78,293.97 L339.48,285.97 L330.08,285.97 Z" fill="none" stroke="#ff1a0a" stroke-width="1.6" stroke-linejoin="round"/>
<path d="M334.79,294.02 L339.49,286.02 L330.09,286.02 Z" fill="none" stroke="#ff1a0a" stroke-width="1.6" stroke-linejoin="round"/>
<path d="M334.80,294.07 L339.50,286.07 L330.10,286.07 Z" fill="none" stroke="#ff1a0a" stroke-width="1.6" stroke-linejoin="round"/>
<path d="M334.81,294.11 L339.51,286.11 L330.11,286.11 Z" fill="none" stroke="#ff1a0a" stroke-width="1.6" stroke-linejoin="round"/>
<path d="M334.82,294.15 L339.52,286.15 L330.12,286.15 Z" fill="none" stroke="#ff1a0a" stroke-width="1.6" stroke-linejoin="round"/>
<path d="M334.82,294.18 L339.52,286.18 L330.12,286.18 Z" fill="none" stroke="#ff1a0a" stroke-width="1.6" stroke-linejoin="round"/>
<path d="M334.83,294.21 L339.53,286.21 L330.13,286.21 Z" fill="none" stroke="#ff1a0a" stroke-width="1.6" stroke-linejoin="round"/>
<path d="M334.83,294.24 L339.53,286.24 L330.13,286.24 Z" fill="none" stroke="#ff1a0a" stroke-width="1.6" stroke-linejoin="round"/>
<path d="M334.84,294.26 L339.54,286.26 L330.14,286.26 Z" fill="none" stroke="#ff1a0a" stroke-width="1.6" stroke-linejoin="round"/>
<path d="M334.84,294.29 L339.54,286.29 L330.14,286.29 Z" fill="none" stroke="#ff1a0a" stroke-width="1.6" stroke-linejoin="round"/>
<path d="M334.85,294.31 L339.55,286.31 L330.15,286.31 Z" fill="none" stroke="#ff1a0a" stroke-width="1.6" stroke-linejoin="round"/>
<path d="M334.85,294.33 L339.55,286.33 L330.15,286.33 Z" fill="none" stroke="#ff1a0a" stroke-width="1.6" stroke-linejoin="round"/>
<path d="M334.85,294.34 L339.55,286.34 L330.15,286.34 Z" fill="none" stroke="#ff1a0a" stroke-width="1.6" stroke-linejoin="round"/>
<path d="M334.86,294.36 L339.56,286.36 L330.16,286.36 Z" fill="none" stroke="#ff1a0a" stroke-width="1.6" stroke-linejoin="round"/>
<path d="M334.86,294.37 L339.56,286.37 L330.16,286.37 Z" fill="none" stroke="#ff1a0a" stroke-width="1.6" stroke-linejoin="round"/>
<path d="M334.86,294.38 L339.56,286.38 L330.16,286.38 Z" fill="none" stroke="#ff1a0a" stroke-width="1.6" stroke-linejoin="round"/>
<path d="M334.86,294.40 L339.56,286.40 L330.16,286.40 Z" fill="none" stroke="#ff1a0a" stroke-width="1.6" stroke-linejoin="round"/>
<path d="M334.87,294.41 L339.57,286.41 L330.17,286.41 Z" fill="none" stroke="#ff1a0a" stroke-width="1.6" stroke-linejoin="round"/>
<path d="M334.87,294.41 L339.57,286.41 L330.17,286.41 Z" fill="none" stroke="#ff1a0a" stroke-width="1.6" stroke-linejoin="round"/>
<path d="M334.87,294.42 L339.57,286.42 L330.17,286.42 Z" fill="none" stroke="#ff1a0a" stroke-width="1.6" stroke-linejoin="round"/>
<circle cx="310.84" cy="567.03" r="3.49" fill="none" stroke="#000000" stroke-width="1.5"/>
<circle cx="310.86" cy="567.01" r="3.49" fill="none" stroke="#000000" stroke-width="1.5"/>
<circle cx="310.87" cy="566.99" r="3.49" fill="none" stroke="#000000" stroke-width="1.5"/>
<circle cx="310.88" cy="566.97" r="3.49" fill="none" stroke="#000000" stroke-width="1.5"/>
<circle cx="310.90" cy="566.94" r="3.49" fill="none" stroke="#000000" stroke-width="1.5"/>
<circle cx="310.91" cy="566.91" r="3.49" fill="none" stroke="#000000" stroke-width="1.5"/>
<circle cx="310.93" cy="566.88" r="3.49" fill="none" stroke="#000000" stroke-width="1.5"/>
<circle cx="310.95" cy="566.84" r="3.49" fill="none" stroke="#000000" stroke-width="1.5"/>
<circle cx="310.98" cy="566.80" r="3.49" fill="none" stroke="#000000" stroke-width="1.5"/>
<circle cx="311.00" cy="566.75" r="3.49" fill="none" stroke="#000000" stroke-width="1.5"/>
<circle cx="311.03" cy="566.70" r="3.49" fill="none" stroke="#000000" stroke-width="1.5"/>
<circle cx="311.06" cy="566.64" r="3.49" fill="none" stroke="#000000" stroke-width="1.5"/>
<circle cx="311.10" cy="566.57" r="3.49" fill="none" stroke="#000000" stroke-width="1.5"/>
<circle cx="311.14" cy="566.50" r="3.49" fill="none" stroke="#000000" stroke-width="1.5"/>
<circle cx="311.18" cy="566.42" r="3.49" fill="none" stroke="#000000" stroke-width="1.5"/>
<circle cx="311.23" cy="566.32" r="3.49" fill="none" stroke="#000000" stroke-width="1.5"/>
<circle cx="311.28" cy="566.22" r="3.49" fill="none" stroke="#000000" stroke-width="1.5"/>
<circle cx="311.35" cy="566.10" r="3.49" fill="none" stroke="#000000" stroke-width="1.5"/>
<circle cx="311.41" cy="565.97" r="3.49" fill="none" stroke="#000000" stroke-width="1.5"/>
<circle cx="311.49" cy="565.82" r="3.49" fill="none" stroke="#000000" stroke-width="1.5"/>
<circle cx="311.58" cy="565.66" r="3.49" fill="none" stroke="#000000" stroke-width="1.5"/>
<circle cx="311.68" cy="565.47" r="3.49" fill="none" stroke="#000000" stroke-width="1.5"/>
<circle cx="311.79" cy="565.26" r="3.49" fill="none" stroke="#000000" stroke-width="1.5"/>
<circle cx="311.91" cy="565.03" r="3.49" fill="none" stroke="#000000" stroke-width="1.5"/>
<circle cx="312.05" cy="564.76" r="3.49" fill="none" stroke="#000000" stroke-width="1.5"/>
<circle cx="312.21" cy="564.47" r="3.49" fill="none" stroke="#000000" stroke-width="1.5"/>
<circle cx="312.39" cy="564.14" r="3.49" fill="none" stroke="#000000" stroke-width="1.5"/>
<circle cx="312.59" cy="563.77" r="3.49" fill="none" stroke="#000000" stroke-width="1.5"/>
<circle cx="312.82" cy="563.35" r="3.49" fill="none" stroke="#000000" stroke-width="1.5"/>
<circle cx="313.09" cy="562.89" r="3.49" fill="none" stroke="#000000" stroke-width="1.5"/>
<circle cx="313.39" cy="562.37" r="3.49" fill="none" stroke="#000000" stroke-width="1.5"/>
<circle cx="313.74" cy="561.80" r="3.49" fill="none" stroke="#000000" stroke-width="1.5"/>
<circle cx="314.14" cy="561.16" r="3.49" fill="none" stroke="#000000" stroke-width="1.5"/>
<circle cx="314.60" cy="560.46" r="3.49" fill="none" stroke="#000000" stroke-width="1.5"/>
<circle cx="315.13" cy="559.68" r="3.49" fill="none" stroke="#000000" stroke-width="1.5"/>
<circle cx="315.74" cy="558.83" r="3.49" fill="none" stroke="#000000" stroke-width="1.5"/>
<circle cx="316.45" cy="557.90" r="3.49" fill="none" stroke="#000000" stroke-width="1.5"/>
<circle cx="317.27" cy="556.89" r="3.49" fill="none" stroke="#000000" stroke-width="1.5"/>
<circle cx="318.22" cy="555.80" r="3.49" fill="none" stroke="#000000" stroke-width="1.5"/>
<circle cx="319.32" cy="554.64" r="3.49" fill="none" stroke="#000000" stroke-width="1.5"/>
<circle cx="320.59" cy="553.43" r="3.49" fill="none" stroke="#000000" stroke-width="1.5"/>
<circle cx="322.04" cy="552.17" r="3.49" fill="none" stroke="#000000" stroke-width="1.5"/>
<circle cx="323.69" cy="550.89" r="3.49" fill="none" stroke="#000000" stroke-width="1.5"/>
<circle cx="325.55" cy="549.62" r="3.49" fill="none" stroke="#000000" stroke-width="1.5"/>
<circle cx="327.63" cy="548.39" r="3.49" fill="none" stroke="#000000" stroke-width="1.5"/>
<circle cx="329.92" cy="547.24" r="3.49" fill="none" stroke="#000000" stroke-width="1.5"/>
<circle cx="332.42" cy="546.21" r="3.49" fill="none" stroke="#000000" stroke-width="1.5"/>
<circle cx="335.08" cy="545.33" r="3.49" fill="none" stroke="#000000" stroke-width="1.5"/>
<circle cx="337.88" cy="544.64" r="3.49" fill="none" stroke="#000000" stroke-width="1.5"/>
<circle cx="340.77" cy="544.16" r="3.49" fill="none" stroke="#000000" stroke-width="1.5"/>
<circle cx="343.71" cy="543.88" r="3.49" fill="none" stroke="#000000" stroke-width="1.5"/>
<circle cx="346.64" cy="543.81" r="3.49" fill="none" stroke="#000000" stroke-width="1.5"/>
<circle cx="349.53" cy="543.92" r="3.49" fill="none" stroke="#000000" stroke-width="1.5"/>
<circle cx="352.34" cy="544.19" r="3.49" fill="none" stroke="#000000" stroke-width="1.5"/>
<circle cx="355.04" cy="544.59" r="3.49" fill="none" stroke="#000000" stroke-width="1.5"/>
<circle cx="357.64" cy="545.09" r="3.49" fill="none" stroke="#000000" stroke-width="1.5"/>
<circle cx="360.11" cy="545.67" r="3.49" fill="none" stroke="#000000" stroke-width="1.5"/>
<circle cx="362.47" cy="546.28" r="3.49" fill="none" stroke="#000000" stroke-width="1.5"/>
<circle cx="364.72" cy="546.93" r="3.49" fill="none" stroke="#000000" stroke-width="1.5"/>
<circle cx="366.87" cy="547.59" r="3.49" fill="none" stroke="#000000" stroke-width="1.5"/>
<circle cx="368.92" cy="548.25" r="3.49" fill="none" stroke="#000000" stroke-width="1.5"/>
<circle cx="370.88" cy="548.92" r="3.49" fill="none" stroke="#000000" stroke-width="1.5"/>
<circle cx="372.77" cy="549.59" r="3.49" fill="none" stroke="#000000" stroke-width="1.5"/>
<circle cx="374.58" cy="550.27" r="3.49" fill="none" stroke="#000000" stroke-width="1.5"/>
<circle cx="376.31" cy="550.94" r="3.49" fill="none" stroke="#000000" stroke-width="1.5"/>
<circle cx="377.97" cy="551.61" r="3.49" fill="none" stroke="#000000" stroke-width="1.5"/>
<circle cx="379.56" cy="552.29" r="3.49" fill="none" stroke="#000000" stroke-width="1.5"/>
<circle cx="381.07" cy="552.97" r="3.49" fill="none" stroke="#000000" stroke-width="1.5"/>
<circle cx="382.51" cy="553.65" r="3.49" fill="none" stroke="#000000" stroke-width="1.5"/>
<circle cx="383.87" cy="554.33" r="3.49" fill="none" stroke="#000000" stroke-width="1.5"/>
<circle cx="385.15" cy="555.00" r="3.49" fill="none" stroke="#000000" stroke-width="1.5"/>
<circle cx="386.35" cy="555.67" r="3.49" fill="none" stroke="#000000" stroke-width="1.5"/>
<circle cx="387.48" cy="556.33" r="3.49" fill="none" stroke="#000000" stroke-width="1.5"/>
<circle cx="388.53" cy="556.98" r="3.49" fill="none" stroke="#000000" stroke-width="1.5"/>
<circle cx="389.50" cy="557.61" r="3.49" fill="none" stroke="#000000" stroke-width="1.5"/>
<circle cx="390.41" cy="558.22" r="3.49" fill="none" stroke="#000000" stroke-width="1.5"/>
<circle cx="391.24" cy="558.82" r="3.49" fill="none" stroke="#000000" stroke-width="1.5"/>
<circle cx="392.01" cy="559.39" r="3.49" fill="none" stroke="#000000" stroke-width="1.5"/>
<circle cx="392.72" cy="559.93" r="3.49" fill="none" stroke="#000000" stroke-width="1.5"/>
<circle cx="393.37" cy="560.45" r="3.49" fill="none" stroke="#000000" stroke-width="1.5"/>
<circle cx="393.97" cy="560.95" r="3.49" fill="none" stroke="#000000" stroke-width="1.5"/>
<circle cx="394.51" cy="561.41" r="3.49" fill="none" stroke="#000000" stroke-width="1.5"/>
<path d="M289.39,562.95 L294.09,570.95 L284.69,570.95 Z" fill="none" stroke="#0000ff" stroke-width="1.6" stroke-linejoin="round"/>
<path d="M289.40,562.93 L294.10,570.93 L284.70,570.93 Z" fill="none" stroke="#0000ff" stroke-width="1.6" stroke-linejoin="round"/>
<path d="M289.41,562.90 L294.11,570.90 L284.71,570.90 Z" fill="none" stroke="#0000ff" stroke-width="1.6" stroke-linejoin="round"/>
<path d="M289.42,562.88 L294.12,570.88 L284.72,570.88 Z" fill="none" stroke="#0000ff" stroke-width="1.6" stroke-linejoin="round"/>
<path d="M289.43,562.85 L294.13,570.85 L284.73,570.85 Z" fill="none" stroke="#0000ff" stroke-width="1.6" stroke-linejoin="round"/>
<path d="M289.44,562.81 L294.14,570.81 L284.74,570.81 Z" fill="none" stroke="#0000ff" stroke-width="1.6" stroke-linejoin="round"/>
<path d="M289.46,562.77 L294.16,570.77 L284.76,570.77 Z" fill="none" stroke="#0000ff" stroke-width="1.6" stroke-linejoin="round"/>
<path d="M289.47,562.73 L294.17,570.73 L284.77,570.73 Z" fill="none" stroke="#0000ff" stroke-width="1.6" stroke-linejoin="round"/>
<path d="M289.49,562.69 L294.19,570.69 L284.79,570.69 Z" fill="none" stroke="#0000ff" stroke-width="1.6" stroke-linejoin="round"/>
<path d="M289.50,562.64 L294.20,570.64 L284.80,570.64 Z" fill="none" stroke="#0000ff" stroke-width="1.6" stroke-linejoin="round"/>
<path d="M289.52,562.59 L294.22,570.59 L284.82,570.59 Z" fill="none" stroke="#0000ff" stroke-width="1.6" stroke-linejoin="round"/>
<path d="M289.54,562.53 L294.24,570.53 L284.84,570.53 Z" fill="none" stroke="#0000ff" stroke-width="1.6" stroke-linejoin="round"/>
<path d="M289.56,562.47 L294.26,570.47 L284.86,570.47 Z" fill="none" stroke="#0000ff" stroke-width="1.6" stroke-linejoin="round"/>
<path d="M289.59,562.40 L294.29,570.40 L284.89,570.40 Z" fill="none" stroke="#0000ff" stroke-width="1.6" stroke-linejoin="round"/>
<path d="M289.62,562.32 L294.32,570.32 L284.92,570.32 Z" fill="none" stroke="#0000ff" stroke-width="1.6" stroke-linejoin="round"/>
<path d="M289.65,562.24 L294.35,570.24 L284.95,570.24 Z" fill="none" stroke="#0000ff" stroke-width="1.6" stroke-linejoin="round"/>
<path d="M289.68,562.15 L294.38,570.15 L284.98,570.15 Z" fill="none" stroke="#0000ff" stroke-width="1.6" stroke-linejoin="round"/>
<path d="M289.72,562.05 L294.42,570.05 L285.02,570.05 Z" fill="none" stroke="#0000ff" stroke-width="1.6" stroke-linejoin="round"/>
<path d="M289.76,561.94 L294.46,569.94 L285.06,569.94 Z" fill="none" stroke="#0000ff" stroke-width="1.6" stroke-linejoin="round"/>
<path d="M289.80,561.82 L294.50,569.82 L285.10,569.82 Z" fill="none" stroke="#0000ff" stroke-width="1.6" stroke-linejoin="round"/>
<path d="M289.86,561.69 L294.56,569.69 L285.16,569.69 Z" fill="none" stroke="#0000ff" stroke-width="1.6" stroke-linejoin="round"/>
<path d="M289.91,561.55 L294.61,569.55 L285.21,569.55 Z" fill="none" stroke="#0000ff" stroke-width="1.6" stroke-linejoin="round"/>
<path d="M289.97,561.39 L294.67,569.39 L285.27,569.39 Z" fill="none" stroke="#0000ff" stroke-width="1.6" stroke-linejoin="round"/>
<path d="M290.04,561.22 L294.74,569.22 L285.34,569.22 Z" fill="none" stroke="#0000ff" stroke-width="1.6" stroke-linejoin="round"/>
<path d="M290.12,561.04 L294.82,569.04 L285.42,569.04 Z" fill="none" stroke="#0000ff" stroke-width="1.6" stroke-linejoin="round"/>
<path d="M290.21,560.83 L294.91,568.83 L285.51,568.83 Z" fill="none" stroke="#0000ff" stroke-width="1.6" stroke-linejoin="round"/>
<path d="M290.30,560.62 L295.00,568.62 L285.60,568.62 Z" fill="none" stroke="#0000ff" stroke-width="1.6" stroke-linejoin="round"/>
<path d="M290.41,560.38 L295.11,568.38 L285.71,568.38 Z" fill="none" stroke="#0000ff" stroke-width="1.6" stroke-linejoin="round"/>
<path d="M290.53,560.12 L295.23,568.12 L285.83,568.12 Z" fill="none" stroke="#0000ff" stroke-width="1.6" stroke-linejoin="round"/>
<path d="M290.66,559.84 L295.36,567.84 L285.96,567.84 Z" fill="none" stroke="#0000ff" stroke-width="1.6" stroke-linejoin="round"/>
<path d="M290.81,559.53 L295.51,567.53 L286.11,567.53 Z" fill="none" stroke="#0000ff" stroke-width="1.6" stroke-linejoin="round"/>
<path d="M290.98,559.20 L295.68,567.20 L286.28,567.20 Z" fill="none" stroke="#0000ff" stroke-width="1.6" stroke-linejoin="round"/>
<path d="M291.16,558.84 L295.86,566.84 L286.46,566.84 Z" fill="none" stroke="#0000ff" stroke-width="1.6" stroke-linejoin="round"/>
<path d="M291.37,558.46 L296.07,566.46 L286.67,566.46 Z" fill="none" stroke="#0000ff" stroke-width="1.6" stroke-linejoin="round"/>
<path d="M291.61,558.04 L296.31,566.04 L286.91,566.04 Z" fill="none" stroke="#0000ff" stroke-width="1.6" stroke-linejoin="round"/>
<path d="M291.88,557.60 L296.58,565.60 L287.18,565.60 Z" fill="none" stroke="#0000ff" stroke-width="1.6" stroke-linejoin="round"/>
<path d="M292.17,557.12 L296.87,565.12 L287.47,565.12 Z" fill="none" stroke="#0000ff" stroke-width="1.6" stroke-linejoin="round"/>
<path d="M292.51,556.61 L297.21,564.61 L287.81,564.61 Z" fill="none" stroke="#0000ff" stroke-width="1.6" stroke-linejoin="round"/>
<path d="M292.88,556.06 L297.58,564.06 L288.18,564.06 Z" fill="none" stroke="#0000ff" stroke-width="1.6" stroke-linejoin="round"/>
<path d="M293.31,555.48 L298.01,563.48 L288.61,563.48 Z" fill="none" stroke="#0000ff" stroke-width="1.6" stroke-linejoin="round"/>
<path d="M293.78,554.87 L298.48,562.87 L289.08,562.87 Z" fill="none" stroke="#0000ff" stroke-width="1.6" stroke-linejoin="round"/>
<path d="M294.31,554.22 L299.01,562.22 L289.61,562.22 Z" fill="none" stroke="#0000ff" stroke-width="1.6" stroke-linejoin="round"/>
<path d="M294.90,553.55 L299.60,561.55 L290.20,561.55 Z" fill="none" stroke="#0000ff" stroke-width="1.6" stroke-linejoin="round"/>
<path d="M295.56,552.84 L300.26,560.84 L290.86,560.84 Z" fill="none" stroke="#0000ff" stroke-width="1.6" stroke-linejoin="round"/>
<path d="M296.30,552.12 L301.00,560.12 L291.60,560.12 Z" fill="none" stroke="#0000ff" stroke-width="1.6" stroke-linejoin="round"/>
<path d="M297.12,551.37 L301.82,559.37 L292.42,559.37 Z" fill="none" stroke="#0000ff" stroke-width="1.6" stroke-linejoin="round"/>
<path d="M298.03,550.61 L302.73,558.61 L293.33,558.61 Z" fill="none" stroke="#0000ff" stroke-width="1.6" stroke-linejoin="round"/>
<path d="M299.04,549.85 L303.74,557.85 L294.34,557.85 Z" fill="none" stroke="#0000ff" stroke-width="1.6" stroke-linejoin="round"/>
<path d="M300.15,549.10 L304.85,557.10 L295.45,557.10 Z" fill="none" stroke="#0000ff" stroke-width="1.6" stroke-linejoin="round"/>
<path d="M301.36,548.37 L306.06,556.37 L296.66,556.37 Z" fill="none" stroke="#0000ff" stroke-width="1.6" stroke-linejoin="round"/>
<path d="M302.69,547.68 L307.39,555.68 L297.99,555.68 Z" fill="none" stroke="#0000ff" stroke-width="1.6" stroke-linejoin="round"/>
<path d="M304.12,547.04 L308.82,555.04 L299.42,555.04 Z" fill="none" stroke="#0000ff" stroke-width="1.6" stroke-linejoin="round"/>
<path d="M305.66,546.48 L310.36,554.48 L300.96,554.48 Z" fill="none" stroke="#0000ff" stroke-width="1.6" stroke-linejoin="round"/>
<path d="M307.29,546.02 L311.99,554.02 L302.59,554.02 Z" fill="none" stroke="#0000ff" stroke-width="1.6" stroke-linejoin="round"/>
<path d="M309.01,545.67 L313.71,553.67 L304.31,553.67 Z" fill="none" stroke="#0000ff" stroke-width="1.6" stroke-linejoin="round"/>
<path d="M310.78,545.47 L315.48,553.47 L306.08,553.47 Z" fill="none" stroke="#0000ff" stroke-width="1.6" stroke-linejoin="round"/>
<path d="M312.59,545.41 L317.29,553.41 L307.89,553.41 Z" fill="none" stroke="#0000ff" stroke-width="1.6" stroke-linejoin="round"/>
<path d="M314.41,545.51 L319.11,553.51 L309.71,553.51 Z" fill="none" stroke="#0000ff" stroke-width="1.6" stroke-linejoin="round"/>
<path d="M316.20,545.76 L320.90,553.76 L311.50,553.76 Z" fill="none" stroke="#0000ff" stroke-width="1.6" stroke-linejoin="round"/>
<path d="M317.93,546.17 L322.63,554.17 L313.23,554.17 Z" fill="none" stroke="#0000ff" stroke-width="1.6" stroke-linejoin="round"/>
<path d="M319.58,546.71 L324.28,554.71 L314.88,554.71 Z" fill="none" stroke="#0000ff" stroke-width="1.6" stroke-linejoin="round"/>
<path d="M321.12,547.36 L325.82,555.36 L316.42,555.36 Z" fill="none" stroke="#0000ff" stroke-width="1.6" stroke-linejoin="round"/>
<path d="M322.54,548.10 L327.24,556.10 L317.84,556.10 Z" fill="none" stroke="#0000ff" stroke-width="1.6" stroke-linejoin="round"/>
<path d="M323.84,548.90 L328.54,556.90 L319.14,556.90 Z" fill="none" stroke="#0000ff" stroke-width="1.6" stroke-linejoin="round"/>
<path d="M325.00,549.74 L329.70,557.74 L320.30,557.74 Z" fill="none" stroke="#0000ff" stroke-width="1.6" stroke-linejoin="round"/>
<path d="M326.03,550.60 L330.73,558.60 L321.33,558.60 Z" fill="none" stroke="#0000ff" stroke-width="1.6" stroke-linejoin="round"/>
<path d="M326.95,551.45 L331.65,559.45 L322.25,559.45 Z" fill="none" stroke="#0000ff" stroke-width="1.6" stroke-linejoin="round"/>
<path d="M327.75,552.29 L332.45,560.29 L323.05,560.29 Z" fill="none" stroke="#0000ff" stroke-width="1.6" stroke-linejoin="round"/>
<path d="M328.45,553.10 L333.15,561.10 L323.75,561.10 Z" fill="none" stroke="#0000ff" stroke-width="1.6" stroke-linejoin="round"/>
<path d="M329.07,553.88 L333.77,561.88 L324.37,561.88 Z" fill="none" stroke="#0000ff" stroke-width="1.6" stroke-linejoin="round"/>
<path d="M329.60,554.62 L334.30,562.62 L324.90,562.62 Z" fill="none" stroke="#0000ff" stroke-width="1.6" stroke-linejoin="round"/>
<path d="M330.07,555.31 L334.77,563.31 L325.37,563.31 Z" fill="none" stroke="#0000ff" stroke-width="1.6" stroke-linejoin="round"/>
<path d="M330.47,555.96 L335.17,563.96 L325.77,563.96 Z" fill="none" stroke="#0000ff" stroke-width="1.6" stroke-linejoin="round"/>
<path d="M330.82,556.57 L335.52,564.57 L326.12,564.57 Z" fill="none" stroke="#0000ff" stroke-width="1.6" stroke-linejoin="round"/>
<path d="M331.13,557.13 L335.83,565.13 L326.43,565.13 Z" fill="none" stroke="#0000ff" stroke-width="1.6" stroke-linejoin="round"/>
<path d="M331.40,557.65 L336.10,565.65 L326.70,565.65 Z" fill="none" stroke="#0000ff" stroke-width="1.6" stroke-linejoin="round"/>
<path d="M331.63,558.13 L336.33,566.13 L326.93,566.13 Z" fill="none" stroke="#0000ff" stroke-width="1.6" stroke-linejoin="round"/>
<path d="M331.83,558.57 L336.53,566.57 L327.13,566.57 Z" fill="none" stroke="#0000ff" stroke-width="1.6" stroke-linejoin="round"/>
<path d="M332.01,558.97 L336.71,566.97 L327.31,566.97 Z" fill="none" stroke="#0000ff" stroke-width="1.6" stroke-linejoin="round"/>
<path d="M332.17,559.35 L336.87,567.35 L327.47,567.35 Z" fill="none" stroke="#0000ff" stroke-width="1.6" stroke-linejoin="round"/>
<path d="M332.31,559.69 L337.01,567.69 L327.61,567.69 Z" fill="none" stroke="#0000ff" stroke-width="1.6" stroke-linejoin="round"/>
<path d="M332.43,560.00 L337.13,568.00 L327.73,568.00 Z" fill="none" stroke="#0000ff" stroke-width="1.6" stroke-linejoin="round"/>
<path d="M332.54,560.28 L337.24,568.28 L327.84,568.28 Z" fill="none" stroke="#0000ff" stroke-width="1.6" stroke-linejoin="round"/>
<path d="M332.64,560.54 L337.34,568.54 L327.94,568.54 Z" fill="none" stroke="#0000ff" stroke-width="1.6" stroke-linejoin="round"/>
<path d="M332.72,560.78 L337.42,568.78 L328.02,568.78 Z" fill="none" stroke="#0000ff" stroke-width="1.6" stroke-linejoin="round"/>
<path d="M332.80,560.99 L337.50,568.99 L328.10,568.99 Z" fill="none" stroke="#0000ff" stroke-width="1.6" stroke-linejoin="round"/>
<path d="M332.87,561.19 L337.57,569.19 L328.17,569.19 Z" fill="none" stroke="#0000ff" stroke-width="1.6" stroke-linejoin="round"/>
<path d="M332.93,561.37 L337.63,569.37 L328.23,569.37 Z" fill="none" stroke="#0000ff" stroke-width="1.6" stroke-linejoin="round"/>
<path d="M332.98,561.53 L337.68,569.53 L328.28,569.53 Z" fill="none" stroke="#0000ff" stroke-width="1.6" stroke-linejoin="round"/>
<path d="M333.03,561.68 L337.73,569.68 L328.33,569.68 Z" fill="none" stroke="#0000ff" stroke-width="1.6" stroke-linejoin="round"/>
<path d="M333.07,561.82 L337.77,569.82 L328.37,569.82 Z" fill="none" stroke="#0000ff" stroke-width="1.6" stroke-linejoin="round"/>
<path d="M333.11,561.94 L337.81,569.94 L328.41,569.94 Z" fill="none" stroke="#0000ff" stroke-width="1.6" stroke-linejoin="round"/>
<path d="M333.15,562.06 L337.85,570.06 L328.45,570.06 Z" fill="none" stroke="#0000ff" stroke-width="1.6" stroke-linejoin="round"/>
<path d="M333.18,562.16 L337.88,570.16 L328.48,570.16 Z" fill="none" stroke="#0000ff" stroke-width="1.6" stroke-linejoin="round"/>
<path d="M333.21,562.25 L337.91,570.25 L328.51,570.25 Z" fill="none" stroke="#0000ff" stroke-width="1.6" stroke-linejoin="round"/>
<path d="M333.24,562.34 L337.94,570.34 L328.54,570.34 Z" fill="none" stroke="#0000ff" stroke-width="1.6" stroke-linejoin="round"/>
<path d="M333.26,562.41 L337.96,570.41 L328.56,570.41 Z" fill="none" stroke="#0000ff" stroke-width="1.6" stroke-linejoin="round"/>
<path d="M333.28,562.49 L337.98,570.49 L328.58,570.49 Z" fill="none" stroke="#0000ff" stroke-width="1.6" stroke-linejoin="round"/>
<path d="M333.30,562.55 L338.00,570.55 L328.60,570.55 Z" fill="none" stroke="#0000ff" stroke-width="1.6" stroke-linejoin="round"/>
<path d="M333.32,562.61 L338.02,570.61 L328.62,570.61 Z" fill="none" stroke="#0000ff" stroke-width="1.6" stroke-linejoin="round"/>
<path d="M333.33,562.66 L338.03,570.66 L328.63,570.66 Z" fill="none" stroke="#0000ff" stroke-width="1.6" stroke-linejoin="round"/>
<path d="M333.35,562.71 L338.05,570.71 L328.65,570.71 Z" fill="none" stroke="#0000ff" stroke-width="1.6" stroke-linejoin="round"/>
<path d="M333.36,562.75 L338.06,570.75 L328.66,570.75 Z" fill="none" stroke="#0000ff" stroke-width="1.6" stroke-linejoin="round"/>
<path d="M333.37,562.79 L338.07,570.79 L328.67,570.79 Z" fill="none" stroke="#0000ff" stroke-width="1.6" stroke-linejoin="round"/>
<path d="M333.38,562.83 L338.08,570.83 L328.68,570.83 Z" fill="none" stroke="#0000ff" stroke-width="1.6" stroke-linejoin="round"/>
<path d="M333.39,562.86 L338.09,570.86 L328.69,570.86 Z" fill="none" stroke="#0000ff" stroke-width="1.6" stroke-linejoin="round"/>
<path d="M333.40,562.89 L338.10,570.89 L328.70,570.89 Z" fill="none" stroke="#0000ff" stroke-width="1.6" stroke-linejoin="round"/>
<path d="M333.41,562.92 L338.11,570.92 L328.71,570.92 Z" fill="none" stroke="#0000ff" stroke-width="1.6" stroke-linejoin="round"/>
<path d="M333.42,562.94 L338.12,570.94 L328.72,570.94 Z" fill="none" stroke="#0000ff" stroke-width="1.6" stroke-linejoin="round"/>
<path d="M333.43,562.97 L338.13,570.97 L328.73,570.97 Z" fill="none" stroke="#0000ff" stroke-width="1.6" stroke-linejoin="round"/>
<path d="M333.43,562.99 L338.13,570.99 L328.73,570.99 Z" fill="none" stroke="#0000ff" stroke-width="1.6" stroke-linejoin="round"/>
<path d="M333.44,563.01 L338.14,571.01 L328.74,571.01 Z" fill="none" stroke="#0000ff" stroke-width="1.6" stroke-linejoin="round"/>
<path d="M333.44,563.02 L338.14,571.02 L328.74,571.02 Z" fill="none" stroke="#0000ff" stroke-width="1.6" stroke-linejoin="round"/>
<path d="M333.45,563.04 L338.15,571.04 L328.75,571.04 Z" fill="none" stroke="#0000ff" stroke-width="1.6" stroke-linejoin="round"/>
<path d="M333.45,563.05 L338.15,571.05 L328.75,571.05 Z" fill="none" stroke="#0000ff" stroke-width="1.6" stroke-linejoin="round"/>
<path d="M333.46,563.07 L338.16,571.07 L328.76,571.07 Z" fill="none" stroke="#0000ff" stroke-width="1.6" stroke-linejoin="round"/>
<path d="M333.46,563.08 L338.16,571.08 L328.76,571.08 Z" fill="none" stroke="#0000ff" stroke-width="1.6" stroke-linejoin="round"/>
<path d="M333.46,563.09 L338.16,571.09 L328.76,571.09 Z" fill="none" stroke="#0000ff" stroke-width="1.6" stroke-linejoin="round"/>
<path d="M333.47,563.10 L338.17,571.10 L328.77,571.10 Z" fill="none" stroke="#0000ff" stroke-width="1.6" stroke-linejoin="round"/>
<path d="M333.47,563.11 L338.17,571.11 L328.77,571.11 Z" fill="none" stroke="#0000ff" stroke-width="1.6" stroke-linejoin="round"/>
<path d="M333.47,563.12 L338.17,571.12 L328.77,571.12 Z" fill="none" stroke="#0000ff" stroke-width="1.6" stroke-linejoin="round"/>
<rect x="266.64" y="562.66" width="7.79" height="7.79" fill="none" stroke="#33ff00" stroke-width="1.6" stroke-linejoin="round"/>
<rect x="266.68" y="562.64" width="7.79" height="7.79" fill="none" stroke="#33ff00" stroke-width="1.6" stroke-linejoin="round"/>
<rect x="266.73" y="562.62" width="7.79" height="7.79" fill="none" stroke="#33ff00" stroke-width="1.6" stroke-linejoin="round"/>
<rect x="266.77" y="562.59" width="7.79" height="7.79" fill="none" stroke="#33ff00" stroke-width="1.6" stroke-linejoin="round"/>
<rect x="266.82" y="562.57" width="7.79" height="7.79" fill="none" stroke="#33ff00" stroke-width="1.6" stroke-linejoin="round"/>
<rect x="266.87" y="562.54" width="7.79" height="7.79" fill="none" stroke="#33ff00" stroke-width="1.6" stroke-linejoin="round"/>
<rect x="266.92" y="562.51" width="7.79" height="7.79" fill="none" stroke="#33ff00" stroke-width="1.6" stroke-linejoin="round"/>
<rect x="266.97" y="562.48" width="7.79" height="7.79" fill="none" stroke="#33ff00" stroke-width="1.6" stroke-linejoin="round"/>
<rect x="267.02" y="562.45" width="7.79" height="7.79" fill="none" stroke="#33ff00" stroke-width="1.6" stroke-linejoin="round"/>
<rect x="267.07" y="562.42" width="7.79" height="7.79" fill="none" stroke="#33ff00" stroke-width="1.6" stroke-linejoin="round"/>
<rect x="267.13" y="562.38" width="7.79" height="7.79" fill="none" stroke="#33ff00" stroke-width="1.6" stroke-linejoin="round"/>
<rect x="267.18" y="562.35" width="7.79" height="7.79" fill="none" stroke="#33ff00" stroke-width="1.6" stroke-linejoin="round"/>
<rect x="267.24" y="562.31" width="7.79" height="7.79" fill="none" stroke="#33ff00" stroke-width="1.6" stroke-linejoin="round"/>
<rect x="267.30" y="562.26" width="7.79" height="7.79" fill="none" stroke="#33ff00" stroke-width="1.6" stroke-linejoin="round"/>
<rect x="267.36" y="562.22" width="7.79" height="7.79" fill="none" stroke="#33ff00" stroke-width="1.6" stroke-linejoin="round"/>
<rect x="267.43" y="562.17" width="7.79" height="7.79" fill="none" stroke="#33ff00" stroke-width="1.6" stroke-linejoin="round"/>
<rect x="267.49" y="562.12" width="7.79" height="7.79" fill="none" stroke="#33ff00" stroke-width="1.6" stroke-linejoin="round"/>
<rect x="267.56" y="562.06" width="7.79" height="7.79" fill="none" stroke="#33ff00" stroke-width="1.6" stroke-linejoin="round"/>
<rect x="267.63" y="562.00" width="7.79" height="7.79" fill="none" stroke="#33ff00" stroke-width="1.6" stroke-linejoin="round"/>
<rect x="267.70" y="561.94" width="7.79" height="7.79" fill="none" stroke="#33ff00" stroke-width="1.6" stroke-linejoin="round"/>
<rect x="267.78" y="561.87" width="7.79" height="7.79" fill="none" stroke="#33ff00" stroke-width="1.6" stroke-linejoin="round"/>
<rect x="267.85" y="561.80" width="7.79" height="7.79" fill="none" stroke="#33ff00" stroke-width="1.6" stroke-linejoin="round"/>
<rect x="267.93" y="561.71" width="7.79" height="7.79" fill="none" stroke="#33ff00" stroke-width="1.6" stroke-linejoin="round"/>
<rect x="268.02" y="561.63" width="7.79" height="7.79" fill="none" stroke="#33ff00" stroke-width="1.6" stroke-linejoin="round"/>
<rect x="268.10" y="561.53" width="7.79" height="7.79" fill="none" stroke="#33ff00" stroke-width="1.6" stroke-linejoin="round"/>
<rect x="268.19" y="561.43" width="7.79" height="7.79" fill="none" stroke="#33ff00" stroke-width="1.6" stroke-linejoin="round"/>
<rect x="268.29" y="561.31" width="7.79" height="7.79" fill="none" stroke="#33ff00" stroke-width="1.6" stroke-linejoin="round"/>
<rect x="268.38" y="561.19" width="7.79" height="7.79" fill="none" stroke="#33ff00" stroke-width="1.6" stroke-linejoin="round"/>
<rect x="268.48" y="561.06" width="7.79" height="7.79" fill="none" stroke="#33ff00" stroke-width="1.6" stroke-linejoin="round"/>
<rect x="268.59" y="560.91" width="7.79" height="7.79" fill="none" stroke="#33ff00" stroke-width="1.6" stroke-linejoin="round"/>
<rect x="268.70" y="560.75" width="7.79" height="7.79" fill="none" stroke="#33ff00" stroke-width="1.6" stroke-linejoin="round"/>
<rect x="268.82" y="560.57" width="7.79" height="7.79" fill="none" stroke="#33ff00" stroke-width="1.6" stroke-linejoin="round"/>
<rect x="268.95" y="560.38" width="7.79" height="7.79" fill="none" stroke="#33ff00" stroke-width="1.6" stroke-linejoin="round"/>
<rect x="269.09" y="560.17" width="7.79" height="7.79" fill="none" stroke="#33ff00" stroke-width="1.6" stroke-linejoin="round"/>
<rect x="269.23" y="559.94" width="7.79" height="7.79" fill="none" stroke="#33ff00" stroke-width="1.6" stroke-linejoin="round"/>
<rect x="269.39" y="559.68" width="7.79" height="7.79" fill="none" stroke="#33ff00" stroke-width="1.6" stroke-linejoin="round"/>
<rect x="269.56" y="559.41" width="7.79" height="7.79" fill="none" stroke="#33ff00" stroke-width="1.6" stroke-linejoin="round"/>
<rect x="269.75" y="559.11" width="7.79" height="7.79" fill="none" stroke="#33ff00" stroke-width="1.6" stroke-linejoin="round"/>
<rect x="269.96" y="558.78" width="7.79" height="7.79" fill="none" stroke="#33ff00" stroke-width="1.6" stroke-linejoin="round"/>
<rect x="270.18" y="558.42" width="7.79" height="7.79" fill="none" stroke="#33ff00" stroke-width="1.6" stroke-linejoin="round"/>
<rect x="270.44" y="558.03" width="7.79" height="7.79" fill="none" stroke="#33ff00" stroke-width="1.6" stroke-linejoin="round"/>
<rect x="270.72" y="557.61" width="7.79" height="7.79" fill="none" stroke="#33ff00" stroke-width="1.6" stroke-linejoin="round"/>
<rect x="271.03" y="557.16" width="7.79" height="7.79" fill="none" stroke="#33ff00" stroke-width="1.6" stroke-linejoin="round"/>
<rect x="271.39" y="556.67" width="7.79" height="7.79" fill="none" stroke="#33ff00" stroke-width="1.6" stroke-linejoin="round"/>
<rect x="271.79" y="556.15" width="7.79" height="7.79" fill="none" stroke="#33ff00" stroke-width="1.6" stroke-linejoin="round"/>
<rect x="272.25" y="555.60" width="7.79" height="7.79" fill="none" stroke="#33ff00" stroke-width="1.6" stroke-linejoin="round"/>
<rect x="272.77" y="555.02" width="7.79" height="7.79" fill="none" stroke="#33ff00" stroke-width="1.6" stroke-linejoin="round"/>
<rect x="273.36" y="554.41" width="7.79" height="7.79" fill="none" stroke="#33ff00" stroke-width="1.6" stroke-linejoin="round"/>
<rect x="274.02" y="553.78" width="7.79" height="7.79" fill="none" stroke="#33ff00" stroke-width="1.6" stroke-linejoin="round"/>
<rect x="274.76" y="553.15" width="7.79" height="7.79" fill="none" stroke="#33ff00" stroke-width="1.6" stroke-linejoin="round"/>
<rect x="275.60" y="552.52" width="7.79" height="7.79" fill="none" stroke="#33ff00" stroke-width="1.6" stroke-linejoin="round"/>
<rect x="276.53" y="551.90" width="7.79" height="7.79" fill="none" stroke="#33ff00" stroke-width="1.6" stroke-linejoin="round"/>
<rect x="277.56" y="551.32" width="7.79" height="7.79" fill="none" stroke="#33ff00" stroke-width="1.6" stroke-linejoin="round"/>
<rect x="278.68" y="550.78" width="7.79" height="7.79" fill="none" stroke="#33ff00" stroke-width="1.6" stroke-linejoin="round"/>
<rect x="279.89" y="550.31" width="7.79" height="7.79" fill="none" stroke="#33ff00" stroke-width="1.6" stroke-linejoin="round"/>
<rect x="281.18" y="549.92" width="7.79" height="7.79" fill="none" stroke="#33ff00" stroke-width="1.6" stroke-linejoin="round"/>
<rect x="282.54" y="549.64" width="7.79" height="7.79" fill="none" stroke="#33ff00" stroke-width="1.6" stroke-linejoin="round"/>
<rect x="283.93" y="549.47" width="7.79" height="7.79" fill="none" stroke="#33ff00" stroke-width="1.6" stroke-linejoin="round"/>
<rect x="285.35" y="549.42" width="7.79" height="7.79" fill="none" stroke="#33ff00" stroke-width="1.6" stroke-linejoin="round"/>
<rect x="286.77" y="549.49" width="7.79" height="7.79" fill="none" stroke="#33ff00" stroke-width="1.6" stroke-linejoin="round"/>
<rect x="288.16" y="549.69" width="7.79" height="7.79" fill="none" stroke="#33ff00" stroke-width="1.6" stroke-linejoin="round"/>
<rect x="289.51" y="549.99" width="7.79" height="7.79" fill="none" stroke="#33ff00" stroke-width="1.6" stroke-linejoin="round"/>
<rect x="290.78" y="550.40" width="7.79" height="7.79" fill="none" stroke="#33ff00" stroke-width="1.6" stroke-linejoin="round"/>
<rect x="291.98" y="550.89" width="7.79" height="7.79" fill="none" stroke="#33ff00" stroke-width="1.6" stroke-linejoin="round"/>
<rect x="293.09" y="551.44" width="7.79" height="7.79" fill="none" stroke="#33ff00" stroke-width="1.6" stroke-linejoin="round"/>
<rect x="294.10" y="552.03" width="7.79" height="7.79" fill="none" stroke="#33ff00" stroke-width="1.6" stroke-linejoin="round"/>
<rect x="295.01" y="552.66" width="7.79" height="7.79" fill="none" stroke="#33ff00" stroke-width="1.6" stroke-linejoin="round"/>
<rect x="295.83" y="553.30" width="7.79" height="7.79" fill="none" stroke="#33ff00" stroke-width="1.6" stroke-linejoin="round"/>
<rect x="296.56" y="553.94" width="7.79" height="7.79" fill="none" stroke="#33ff00" stroke-width="1.6" stroke-linejoin="round"/>
<rect x="297.20" y="554.57" width="7.79" height="7.79" fill="none" stroke="#33ff00" stroke-width="1.6" stroke-linejoin="round"/>
<rect x="297.77" y="555.18" width="7.79" height="7.79" fill="none" stroke="#33ff00" stroke-width="1.6" stroke-linejoin="round"/>
<rect x="298.27" y="555.76" width="7.79" height="7.79" fill="none" stroke="#33ff00" stroke-width="1.6" stroke-linejoin="round"/>
<rect x="298.72" y="556.31" width="7.79" height="7.79" fill="none" stroke="#33ff00" stroke-width="1.6" stroke-linejoin="round"/>
<rect x="299.10" y="556.84" width="7.79" height="7.79" fill="none" stroke="#33ff00" stroke-width="1.6" stroke-linejoin="round"/>
<rect x="299.45" y="557.32" width="7.79" height="7.79" fill="none" stroke="#33ff00" stroke-width="1.6" stroke-linejoin="round"/>
<rect x="299.75" y="557.78" width="7.79" height="7.79" fill="none" stroke="#33ff00" stroke-width="1.6" stroke-linejoin="round"/>
<rect x="300.02" y="558.20" width="7.79" height="7.79" fill="none" stroke="#33ff00" stroke-width="1.6" stroke-linejoin="round"/>
<rect x="300.26" y="558.59" width="7.79" height="7.79" fill="none" stroke="#33ff00" stroke-width="1.6" stroke-linejoin="round"/>
<rect x="300.47" y="558.94" width="7.79" height="7.79" fill="none" stroke="#33ff00" stroke-width="1.6" stroke-linejoin="round"/>
<rect x="300.67" y="559.27" width="7.79" height="7.79" fill="none" stroke="#33ff00" stroke-width="1.6" stroke-linejoin="round"/>
<rect x="300.84" y="559.57" width="7.79" height="7.79" fill="none" stroke="#33ff00" stroke-width="1.6" stroke-linejoin="round"/>
<rect x="301.00" y="559.85" width="7.79" height="7.79" fill="none" stroke="#33ff00" stroke-width="1.6" stroke-linejoin="round"/>
<rect x="301.15" y="560.10" width="7.79" height="7.79" fill="none" stroke="#33ff00" stroke-width="1.6" stroke-linejoin="round"/>
<rect x="301.28" y="560.33" width="7.79" height="7.79" fill="none" stroke="#33ff00" stroke-width="1.6" stroke-linejoin="round"/>
<rect x="301.40" y="560.54" width="7.79" height="7.79" fill="none" stroke="#33ff00" stroke-width="1.6" stroke-linejoin="round"/>
<rect x="301.52" y="560.74" width="7.79" height="7.79" fill="none" stroke="#33ff00" stroke-width="1.6" stroke-linejoin="round"/>
<rect x="301.63" y="560.91" width="7.79" height="7.79" fill="none" stroke="#33ff00" stroke-width="1.6" stroke-linejoin="round"/>
<rect x="301.73" y="561.07" width="7.79" height="7.79" fill="none" stroke="#33ff00" stroke-width="1.6" stroke-linejoin="round"/>
<rect x="301.82" y="561.22" width="7.79" height="7.79" fill="none" stroke="#33ff00" stroke-width="1.6" stroke-linejoin="round"/>
<rect x="301.91" y="561.35" width="7.79" height="7.79" fill="none" stroke="#33ff00" stroke-width="1.6" stroke-linejoin="round"/>
<rect x="302.00" y="561.48" width="7.79" height="7.79" fill="none" stroke="#33ff00" stroke-width="1.6" stroke-linejoin="round"/>
<rect x="302.08" y="561.59" width="7.79" height="7.79" fill="none" stroke="#33ff00" stroke-width="1.6" stroke-linejoin="round"/>
<rect x="302.16" y="561.69" width="7.79" height="7.79" fill="none" stroke="#33ff00" stroke-width="1.6" stroke-linejoin="round"/>
<rect x="302.23" y="561.79" width="7.79" height="7.79" fill="none" stroke="#33ff00" stroke-width="1.6" stroke-linejoin="round"/>
<rect x="302.30" y="561.88" width="7.79" height="7.79" fill="none" stroke="#33ff00" stroke-width="1.6" stroke-linejoin="round"/>
<rect x="302.37" y="561.96" width="7.79" height="7.79" fill="none" stroke="#33ff00" stroke-width="1.6" stroke-linejoin="round"/>
<rect x="302.43" y="562.03" width="7.79" height="7.79" fill="none" stroke="#33ff00" stroke-width="1.6" stroke-linejoin="round"/>
<rect x="302.49" y="562.10" width="7.79" height="7.79" fill="none" stroke="#33ff00" stroke-width="1.6" stroke-linejoin="round"/>
<rect x="302.56" y="562.16" width="7.79" height="7.79" fill="none" stroke="#33ff00" stroke-width="1.6" stroke-linejoin="round"/>
<rect x="302.61" y="562.22" width="7.79" height="7.79" fill="none" stroke="#33ff00" stroke-width="1.6" stroke-linejoin="round"/>
<rect x="302.67" y="562.27" width="7.79" height="7.79" fill="none" stroke="#33ff00" stroke-width="1.6" stroke-linejoin="round"/>
<rect x="302.72" y="562.32" width="7.79" height="7.79" fill="none" stroke="#33ff00" stroke-width="1.6" stroke-linejoin="round"/>
<rect x="302.78" y="562.37" width="7.79" height="7.79" fill="none" stroke="#33ff00" stroke-width="1.6" stroke-linejoin="round"/>
<rect x="302.83" y="562.41" width="7.79" height="7.79" fill="none" stroke="#33ff00" stroke-width="1.6" stroke-linejoin="round"/>
<rect x="302.88" y="562.45" width="7.79" height="7.79" fill="none" stroke="#33ff00" stroke-width="1.6" stroke-linejoin="round"/>
<rect x="302.92" y="562.49" width="7.79" height="7.79" fill="none" stroke="#33ff00" stroke-width="1.6" stroke-linejoin="round"/>
<rect x="302.97" y="562.53" width="7.79" height="7.79" fill="none" stroke="#33ff00" stroke-width="1.6" stroke-linejoin="round"/>
<rect x="303.01" y="562.56" width="7.79" height="7.79" fill="none" stroke="#33ff00" stroke-width="1.6" stroke-linejoin="round"/>
<rect x="303.06" y="562.59" width="7.79" height="7.79" fill="none" stroke="#33ff00" stroke-width="1.6" stroke-linejoin="round"/>
<rect x="303.10" y="562.62" width="7.79" height="7.79" fill="none" stroke="#33ff00" stroke-width="1.6" stroke-linejoin="round"/>
<rect x="303.14" y="562.65" width="7.79" height="7.79" fill="none" stroke="#33ff00" stroke-width="1.6" stroke-linejoin="round"/>
<rect x="303.18" y="562.67" width="7.79" height="7.79" fill="none" stroke="#33ff00" stroke-width="1.6" stroke-linejoin="round"/>
<rect x="303.21" y="562.70" width="7.79" height="7.79" fill="none" stroke="#33ff00" stroke-width="1.6" stroke-linejoin="round"/>
<rect x="303.25" y="562.72" width="7.79" height="7.79" fill="none" stroke="#33ff00" stroke-width="1.6" stroke-linejoin="round"/>
<rect x="303.29" y="562.74" width="7.79" height="7.79" fill="none" stroke="#33ff00" stroke-width="1.6" stroke-linejoin="round"/>
<rect x="303.32" y="562.77" width="7.79" height="7.79" fill="none" stroke="#33ff00" stroke-width="1.6" stroke-linejoin="round"/>
<rect x="303.35" y="562.79" width="7.79" height="7.79" fill="none" stroke="#33ff00" stroke-width="1.6" stroke-linejoin="round"/>
<rect x="303.39" y="562.80" width="7.79" height="7.79" fill="none" stroke="#33ff00" stroke-width="1.6" stroke-linejoin="round"/>
<rect x="303.42" y="562.82" width="7.79" height="7.79" fill="none" stroke="#33ff00" stroke-width="1.6" stroke-linejoin="round"/>
<rect x="303.45" y="562.84" width="7.79" height="7.79" fill="none" stroke="#33ff00" stroke-width="1.6" stroke-linejoin="round"/>
<rect x="303.48" y="562.86" width="7.79" height="7.79" fill="none" stroke="#33ff00" stroke-width="1.6" stroke-linejoin="round"/>
<path d="M252.78,571.08 L257.48,563.08 L248.08,563.08 Z" fill="none" stroke="#ff1a0a" stroke-width="1.6" stroke-linejoin="round"/>
<path d="M252.78,571.07 L257.48,563.07 L248.08,563.07 Z" fill="none" stroke="#ff1a0a" stroke-width="1.6" stroke-linejoin="round"/>
<path d="M252.78,571.05 L257.48,563.05 L248.08,563.05 Z" fill="none" stroke="#ff1a0a" stroke-width="1.6" stroke-linejoin="round"/>
<path d="M252.79,571.04 L257.49,563.04 L248.09,563.04 Z" fill="none" stroke="#ff1a0a" stroke-width="1.6" stroke-linejoin="round"/>
<path d="M252.79,571.02 L257.49,563.02 L248.09,563.02 Z" fill="none" stroke="#ff1a0a" stroke-width="1.6" stroke-linejoin="round"/>
<path d="M252.79,571.00 L257.49,563.00 L248.09,563.00 Z" fill="none" stroke="#ff1a0a" stroke-width="1.6" stroke-linejoin="round"/>
<path d="M252.80,570.98 L257.50,562.98 L248.10,562.98 Z" fill="none" stroke="#ff1a0a" stroke-width="1.6" stroke-linejoin="round"/>
<path d="M252.80,570.96 L257.50,562.96 L248.10,562.96 Z" fill="none" stroke="#ff1a0a" stroke-width="1.6" stroke-linejoin="round"/>
<path d="M252.81,570.94 L257.51,562.94 L248.11,562.94 Z" fill="none" stroke="#ff1a0a" stroke-width="1.6" stroke-linejoin="round"/>
<path d="M252.82,570.91 L257.52,562.91 L248.12,562.91 Z" fill="none" stroke="#ff1a0a" stroke-width="1.6" stroke-linejoin="round"/>
<path d="M252.82,570.88 L257.52,562.88 L248.12,562.88 Z" fill="none" stroke="#ff1a0a" stroke-width="1.6" stroke-linejoin="round"/>
<path d="M252.83,570.85 L257.53,562.85 L248.13,562.85 Z" fill="none" stroke="#ff1a0a" stroke-width="1.6" stroke-linejoin="round"/>
<path d="M252.84,570.81 L257.54,562.81 L248.14,562.81 Z" fill="none" stroke="#ff1a0a" stroke-width="1.6" stroke-linejoin="round"/>
<path d="M252.85,570.77 L257.55,562.77 L248.15,562.77 Z" fill="none" stroke="#ff1a0a" stroke-width="1.6" stroke-linejoin="round"/>
<path d="M252.86,570.73 L257.56,562.73 L248.16,562.73 Z" fill="none" stroke="#ff1a0a" stroke-width="1.6" stroke-linejoin="round"/>
<path d="M252.88,570.68 L257.58,562.68 L248.18,562.68 Z" fill="none" stroke="#ff1a0a" stroke-width="1.6" stroke-linejoin="round"/>
<path d="M252.89,570.62 L257.59,562.62 L248.19,562.62 Z" fill="none" stroke="#ff1a0a" stroke-width="1.6" stroke-linejoin="round"/>
<path d="M252.91,570.56 L257.61,562.56 L248.21,562.56 Z" fill="none" stroke="#ff1a0a" stroke-width="1.6" stroke-linejoin="round"/>
<path d="M252.93,570.50 L257.63,562.50 L248.23,562.50 Z" fill="none" stroke="#ff1a0a" stroke-width="1.6" stroke-linejoin="round"/>
<path d="M252.95,570.43 L257.65,562.43 L248.25,562.43 Z" fill="none" stroke="#ff1a0a" stroke-width="1.6" stroke-linejoin="round"/>
<path d="M252.97,570.35 L257.67,562.35 L248.27,562.35 Z" fill="none" stroke="#ff1a0a" stroke-width="1.6" stroke-linejoin="round"/>
<path d="M253.00,570.26 L257.70,562.26 L248.30,562.26 Z" fill="none" stroke="#ff1a0a" stroke-width="1.6" stroke-linejoin="round"/>
<path d="M253.03,570.17 L257.73,562.17 L248.33,562.17 Z" fill="none" stroke="#ff1a0a" stroke-width="1.6" stroke-linejoin="round"/>
<path d="M253.06,570.06 L257.76,562.06 L248.36,562.06 Z" fill="none" stroke="#ff1a0a" stroke-width="1.6" stroke-linejoin="round"/>
<path d="M253.10,569.95 L257.80,561.95 L248.40,561.95 Z" fill="none" stroke="#ff1a0a" stroke-width="1.6" stroke-linejoin="round"/>
<path d="M253.15,569.82 L257.85,561.82 L248.45,561.82 Z" fill="none" stroke="#ff1a0a" stroke-width="1.6" stroke-linejoin="round"/>
<path d="M253.20,569.69 L257.90,561.69 L248.50,561.69 Z" fill="none" stroke="#ff1a0a" stroke-width="1.6" stroke-linejoin="round"/>
<path d="M253.26,569.54 L257.96,561.54 L248.56,561.54 Z" fill="none" stroke="#ff1a0a" stroke-width="1.6" stroke-linejoin="round"/>
<path d="M253.32,569.37 L258.02,561.37 L248.62,561.37 Z" fill="none" stroke="#ff1a0a" stroke-width="1.6" stroke-linejoin="round"/>
<path d="M253.40,569.19 L258.10,561.19 L248.70,561.19 Z" fill="none" stroke="#ff1a0a" stroke-width="1.6" stroke-linejoin="round"/>
<path d="M253.48,569.00 L258.18,561.00 L248.78,561.00 Z" fill="none" stroke="#ff1a0a" stroke-width="1.6" stroke-linejoin="round"/>
<path d="M253.58,568.79 L258.28,560.79 L248.88,560.79 Z" fill="none" stroke="#ff1a0a" stroke-width="1.6" stroke-linejoin="round"/>
<path d="M253.69,568.56 L258.39,560.56 L248.99,560.56 Z" fill="none" stroke="#ff1a0a" stroke-width="1.6" stroke-linejoin="round"/>
<path d="M253.82,568.31 L258.52,560.31 L249.12,560.31 Z" fill="none" stroke="#ff1a0a" stroke-width="1.6" stroke-linejoin="round"/>
<path d="M253.97,568.04 L258.67,560.04 L249.27,560.04 Z" fill="none" stroke="#ff1a0a" stroke-width="1.6" stroke-linejoin="round"/>
<path d="M254.14,567.76 L258.84,559.76 L249.44,559.76 Z" fill="none" stroke="#ff1a0a" stroke-width="1.6" stroke-linejoin="round"/>
<path d="M254.33,567.45 L259.03,559.45 L249.63,559.45 Z" fill="none" stroke="#ff1a0a" stroke-width="1.6" stroke-linejoin="round"/>
<path d="M254.56,567.13 L259.26,559.13 L249.86,559.13 Z" fill="none" stroke="#ff1a0a" stroke-width="1.6" stroke-linejoin="round"/>
<path d="M254.81,566.79 L259.51,558.79 L250.11,558.79 Z" fill="none" stroke="#ff1a0a" stroke-width="1.6" stroke-linejoin="round"/>
<path d="M255.10,566.43 L259.80,558.43 L250.40,558.43 Z" fill="none" stroke="#ff1a0a" stroke-width="1.6" stroke-linejoin="round"/>
<path d="M255.42,566.05 L260.12,558.05 L250.72,558.05 Z" fill="none" stroke="#ff1a0a" stroke-width="1.6" stroke-linejoin="round"/>
<path d="M255.79,565.67 L260.49,557.67 L251.09,557.67 Z" fill="none" stroke="#ff1a0a" stroke-width="1.6" stroke-linejoin="round"/>
<path d="M256.20,565.28 L260.90,557.28 L251.50,557.28 Z" fill="none" stroke="#ff1a0a" stroke-width="1.6" stroke-linejoin="round"/>
<path d="M256.66,564.88 L261.36,556.88 L251.96,556.88 Z" fill="none" stroke="#ff1a0a" stroke-width="1.6" stroke-linejoin="round"/>
<path d="M257.17,564.49 L261.87,556.49 L252.47,556.49 Z" fill="none" stroke="#ff1a0a" stroke-width="1.6" stroke-linejoin="round"/>
<path d="M257.72,564.10 L262.42,556.10 L253.02,556.10 Z" fill="none" stroke="#ff1a0a" stroke-width="1.6" stroke-linejoin="round"/>
<path d="M258.33,563.74 L263.03,555.74 L253.63,555.74 Z" fill="none" stroke="#ff1a0a" stroke-width="1.6" stroke-linejoin="round"/>
<path d="M258.99,563.39 L263.69,555.39 L254.29,555.39 Z" fill="none" stroke="#ff1a0a" stroke-width="1.6" stroke-linejoin="round"/>
<path d="M259.69,563.08 L264.39,555.08 L254.99,555.08 Z" fill="none" stroke="#ff1a0a" stroke-width="1.6" stroke-linejoin="round"/>
<path d="M260.42,562.80 L265.12,554.80 L255.72,554.80 Z" fill="none" stroke="#ff1a0a" stroke-width="1.6" stroke-linejoin="round"/>
<path d="M261.19,562.57 L265.89,554.57 L256.49,554.57 Z" fill="none" stroke="#ff1a0a" stroke-width="1.6" stroke-linejoin="round"/>
<path d="M261.98,562.38 L266.68,554.38 L257.28,554.38 Z" fill="none" stroke="#ff1a0a" stroke-width="1.6" stroke-linejoin="round"/>
<path d="M262.79,562.24 L267.49,554.24 L258.09,554.24 Z" fill="none" stroke="#ff1a0a" stroke-width="1.6" stroke-linejoin="round"/>
<path d="M263.60,562.14 L268.30,554.14 L258.90,554.14 Z" fill="none" stroke="#ff1a0a" stroke-width="1.6" stroke-linejoin="round"/>
<path d="M264.41,562.09 L269.11,554.09 L259.71,554.09 Z" fill="none" stroke="#ff1a0a" stroke-width="1.6" stroke-linejoin="round"/>
<path d="M265.21,562.08 L269.91,554.08 L260.51,554.08 Z" fill="none" stroke="#ff1a0a" stroke-width="1.6" stroke-linejoin="round"/>
<path d="M265.99,562.10 L270.69,554.10 L261.29,554.10 Z" fill="none" stroke="#ff1a0a" stroke-width="1.6" stroke-linejoin="round"/>
<path d="M266.76,562.14 L271.46,554.14 L262.06,554.14 Z" fill="none" stroke="#ff1a0a" stroke-width="1.6" stroke-linejoin="round"/>
<path d="M267.50,562.21 L272.20,554.21 L262.80,554.21 Z" fill="none" stroke="#ff1a0a" stroke-width="1.6" stroke-linejoin="round"/>
<path d="M268.23,562.29 L272.93,554.29 L263.53,554.29 Z" fill="none" stroke="#ff1a0a" stroke-width="1.6" stroke-linejoin="round"/>
<path d="M268.94,562.38 L273.64,554.38 L264.24,554.38 Z" fill="none" stroke="#ff1a0a" stroke-width="1.6" stroke-linejoin="round"/>
<path d="M269.63,562.47 L274.33,554.47 L264.93,554.47 Z" fill="none" stroke="#ff1a0a" stroke-width="1.6" stroke-linejoin="round"/>
<path d="M270.32,562.57 L275.02,554.57 L265.62,554.57 Z" fill="none" stroke="#ff1a0a" stroke-width="1.6" stroke-linejoin="round"/>
<path d="M271.01,562.67 L275.71,554.67 L266.31,554.67 Z" fill="none" stroke="#ff1a0a" stroke-width="1.6" stroke-linejoin="round"/>
<path d="M271.70,562.78 L276.40,554.78 L267.00,554.78 Z" fill="none" stroke="#ff1a0a" stroke-width="1.6" stroke-linejoin="round"/>
<path d="M272.39,562.91 L277.09,554.91 L267.69,554.91 Z" fill="none" stroke="#ff1a0a" stroke-width="1.6" stroke-linejoin="round"/>
<path d="M273.08,563.06 L277.78,555.06 L268.38,555.06 Z" fill="none" stroke="#ff1a0a" stroke-width="1.6" stroke-linejoin="round"/>
<path d="M273.77,563.23 L278.47,555.23 L269.07,555.23 Z" fill="none" stroke="#ff1a0a" stroke-width="1.6" stroke-linejoin="round"/>
<path d="M274.46,563.44 L279.16,555.44 L269.76,555.44 Z" fill="none" stroke="#ff1a0a" stroke-width="1.6" stroke-linejoin="round"/>
<path d="M275.13,563.69 L279.83,555.69 L270.43,555.69 Z" fill="none" stroke="#ff1a0a" stroke-width="1.6" stroke-linejoin="round"/>
<path d="M275.78,563.97 L280.48,555.97 L271.08,555.97 Z" fill="none" stroke="#ff1a0a" stroke-width="1.6" stroke-linejoin="round"/>
<path d="M276.39,564.29 L281.09,556.29 L271.69,556.29 Z" fill="none" stroke="#ff1a0a" stroke-width="1.6" stroke-linejoin="round"/>
<path d="M276.97,564.64 L281.67,556.64 L272.27,556.64 Z" fill="none" stroke="#ff1a0a" stroke-width="1.6" stroke-linejoin="round"/>
<path d="M277.50,565.01 L282.20,557.01 L272.80,557.01 Z" fill="none" stroke="#ff1a0a" stroke-width="1.6" stroke-linejoin="round"/>
<path d="M277.98,565.40 L282.68,557.40 L273.28,557.40 Z" fill="none" stroke="#ff1a0a" stroke-width="1.6" stroke-linejoin="round"/>
<path d="M278.41,565.80 L283.11,557.80 L273.71,557.80 Z" fill="none" stroke="#ff1a0a" stroke-width="1.6" stroke-linejoin="round"/>
<path d="M278.78,566.20 L283.48,558.20 L274.08,558.20 Z" fill="none" stroke="#ff1a0a" stroke-width="1.6" stroke-linejoin="round"/>
<path d="M279.11,566.59 L283.81,558.59 L274.41,558.59 Z" fill="none" stroke="#ff1a0a" stroke-width="1.6" stroke-linejoin="round"/>
<path d="M279.39,566.97 L284.09,558.97 L274.69,558.97 Z" fill="none" stroke="#ff1a0a" stroke-width="1.6" stroke-linejoin="round"/>
<path d="M279.63,567.33 L284.33,559.33 L274.93,559.33 Z" fill="none" stroke="#ff1a0a" stroke-width="1.6" stroke-linejoin="round"/>
<path d="M279.84,567.67 L284.54,559.67 L275.14,559.67 Z" fill="none" stroke="#ff1a0a" stroke-width="1.6" stroke-linejoin="round"/>
<path d="M280.01,568.00 L284.71,560.00 L275.31,560.00 Z" fill="none" stroke="#ff1a0a" stroke-width="1.6" stroke-linejoin="round"/>
<path d="M280.15,568.29 L284.85,560.29 L275.45,560.29 Z" fill="none" stroke="#ff1a0a" stroke-width="1.6" stroke-linejoin="round"/>
<path d="M280.28,568.57 L284.98,560.57 L275.58,560.57 Z" fill="none" stroke="#ff1a0a" stroke-width="1.6" stroke-linejoin="round"/>
<path d="M280.38,568.82 L285.08,560.82 L275.68,560.82 Z" fill="none" stroke="#ff1a0a" stroke-width="1.6" stroke-linejoin="round"/>
<path d="M280.46,569.05 L285.16,561.05 L275.76,561.05 Z" fill="none" stroke="#ff1a0a" stroke-width="1.6" stroke-linejoin="round"/>
<path d="M280.53,569.26 L285.23,561.26 L275.83,561.26 Z" fill="none" stroke="#ff1a0a" stroke-width="1.6" stroke-linejoin="round"/>
<path d="M280.59,569.45 L285.29,561.45 L275.89,561.45 Z" fill="none" stroke="#ff1a0a" stroke-width="1.6" stroke-linejoin="round"/>
<path d="M280.64,569.63 L285.34,561.63 L275.94,561.63 Z" fill="none" stroke="#ff1a0a" stroke-width="1.6" stroke-linejoin="round"/>
<path d="M280.68,569.78 L285.38,561.78 L275.98,561.78 Z" fill="none" stroke="#ff1a0a" stroke-width="1.6" stroke-linejoin="round"/>
<path d="M280.72,569.93 L285.42,561.93 L276.02,561.93 Z" fill="none" stroke="#ff1a0a" stroke-width="1.6" stroke-linejoin="round"/>
<path d="M280.75,570.05 L285.45,562.05 L276.05,562.05 Z" fill="none" stroke="#ff1a0a" stroke-width="1.6" stroke-linejoin="round"/>
<path d="M280.77,570.17 L285.47,562.17 L276.07,562.17 Z" fill="none" stroke="#ff1a0a" stroke-width="1.6" stroke-linejoin="round"/>
<path d="M280.79,570.27 L285.49,562.27 L276.09,562.27 Z" fill="none" stroke="#ff1a0a" stroke-width="1.6" stroke-linejoin="round"/>
<path d="M280.81,570.37 L285.51,562.37 L276.11,562.37 Z" fill="none" stroke="#ff1a0a" stroke-width="1.6" stroke-linejoin="round"/>
<path d="M280.83,570.45 L285.53,562.45 L276.13,562.45 Z" fill="none" stroke="#ff1a0a" stroke-width="1.6" stroke-linejoin="round"/>
<path d="M280.84,570.53 L285.54,562.53 L276.14,562.53 Z" fill="none" stroke="#ff1a0a" stroke-width="1.6" stroke-linejoin="round"/>
<path d="M280.85,570.60 L285.55,562.60 L276.15,562.60 Z" fill="none" stroke="#ff1a0a" stroke-width="1.6" stroke-linejoin="round"/>
<path d="M280.86,570.66 L285.56,562.66 L276.16,562.66 Z" fill="none" stroke="#ff1a0a" stroke-width="1.6" stroke-linejoin="round"/>
<path d="M280.87,570.71 L285.57,562.71 L276.17,562.71 Z" fill="none" stroke="#ff1a0a" stroke-width="1.6" stroke-linejoin="round"/>
<path d="M280.88,570.76 L285.58,562.76 L276.18,562.76 Z" fill="none" stroke="#ff1a0a" stroke-width="1.6" stroke-linejoin="round"/>
<path d="M280.88,570.81 L285.58,562.81 L276.18,562.81 Z" fill="none" stroke="#ff1a0a" stroke-width="1.6" stroke-linejoin="round"/>
<path d="M280.89,570.85 L285.59,562.85 L276.19,562.85 Z" fill="none" stroke="#ff1a0a" stroke-width="1.6" stroke-linejoin="round"/>
<path d="M280.89,570.88 L285.59,562.88 L276.19,562.88 Z" fill="none" stroke="#ff1a0a" stroke-width="1.6" stroke-linejoin="round"/>
<path d="M280.90,570.91 L285.60,562.91 L276.20,562.91 Z" fill="none" stroke="#ff1a0a" stroke-width="1.6" stroke-linejoin="round"/>
<path d="M280.90,570.94 L285.60,562.94 L276.20,562.94 Z" fill="none" stroke="#ff1a0a" stroke-width="1.6" stroke-linejoin="round"/>
<path d="M280.90,570.97 L285.60,562.97 L276.20,562.97 Z" fill="none" stroke="#ff1a0a" stroke-width="1.6" stroke-linejoin="round"/>
<path d="M280.91,570.99 L285.61,562.99 L276.21,562.99 Z" fill="none" stroke="#ff1a0a" stroke-width="1.6" stroke-linejoin="round"/>
<path d="M280.91,571.01 L285.61,563.01 L276.21,563.01 Z" fill="none" stroke="#ff1a0a" stroke-width="1.6" stroke-linejoin="round"/>
<path d="M280.91,571.03 L285.61,563.03 L276.21,563.03 Z" fill="none" stroke="#ff1a0a" stroke-width="1.6" stroke-linejoin="round"/>
<path d="M280.91,571.05 L285.61,563.05 L276.21,563.05 Z" fill="none" stroke="#ff1a0a" stroke-width="1.6" stroke-linejoin="round"/>
<path d="M280.92,571.06 L285.62,563.06 L276.22,563.06 Z" fill="none" stroke="#ff1a0a" stroke-width="1.6" stroke-linejoin="round"/>
<path d="M280.92,571.08 L285.62,563.08 L276.22,563.08 Z" fill="none" stroke="#ff1a0a" stroke-width="1.6" stroke-linejoin="round"/>
<path d="M280.92,571.09 L285.62,563.09 L276.22,563.09 Z" fill="none" stroke="#ff1a0a" stroke-width="1.6" stroke-linejoin="round"/>
<path d="M280.92,571.10 L285.62,563.10 L276.22,563.10 Z" fill="none" stroke="#ff1a0a" stroke-width="1.6" stroke-linejoin="round"/>
<path d="M280.92,571.11 L285.62,563.11 L276.22,563.11 Z" fill="none" stroke="#ff1a0a" stroke-width="1.6" stroke-linejoin="round"/>
<path d="M280.92,571.12 L285.62,563.12 L276.22,563.12 Z" fill="none" stroke="#ff1a0a" stroke-width="1.6" stroke-linejoin="round"/>
<path d="M280.92,571.13 L285.62,563.13 L276.22,563.13 Z" fill="none" stroke="#ff1a0a" stroke-width="1.6" stroke-linejoin="round"/>
<path d="M280.92,571.14 L285.62,563.14 L276.22,563.14 Z" fill="none" stroke="#ff1a0a" stroke-width="1.6" stroke-linejoin="round"/>
<path d="M280.92,571.14 L285.62,563.14 L276.22,563.14 Z" fill="none" stroke="#ff1a0a" stroke-width="1.6" stroke-linejoin="round"/>
<path d="M280.93,571.15 L285.63,563.15 L276.23,563.15 Z" fill="none" stroke="#ff1a0a" stroke-width="1.6" stroke-linejoin="round"/>
<path d="M293.59,183.60 L291.63,183.60 L291.63,171.48 Q290.93,172.14 289.78,172.79 Q288.62,173.44 287.71,173.78 L287.71,171.93 Q289.35,171.18 290.58,170.11 Q291.81,169.05 292.32,168.04 L293.59,168.04 Z" fill="#000"/>
<text transform="translate(285.30,183.60) scale(1.03,1.047)" font-family='"Liberation Sans", sans-serif' font-size="21.6" text-anchor="start"> 00 Hz</text>
<text transform="translate(390.30,183.60) scale(1.03,1.047)" font-family='"Liberation Sans", sans-serif' font-size="21.6" text-anchor="start" >20 Hz</text>
<line x1="319.60" y1="187.70" x2="354.70" y2="252.80" stroke="#000" stroke-width="1.9"/>
<line x1="354.70" y1="252.80" x2="345.96" y2="242.51" stroke="#000" stroke-width="1.9"/>
<line x1="354.70" y1="252.80" x2="350.91" y2="239.84" stroke="#000" stroke-width="1.9"/>
<line x1="413.90" y1="187.70" x2="378.60" y2="249.90" stroke="#000" stroke-width="1.9"/>
<line x1="378.60" y1="249.90" x2="382.67" y2="237.03" stroke="#000" stroke-width="1.9"/>
<line x1="378.60" y1="249.90" x2="387.56" y2="239.81" stroke="#000" stroke-width="1.9"/>
<path d="M294.09,460.50 L292.13,460.50 L292.13,448.38 Q291.43,449.04 290.28,449.69 Q289.12,450.34 288.21,450.68 L288.21,448.83 Q289.85,448.08 291.08,447.01 Q292.31,445.95 292.82,444.94 L294.09,444.94 Z" fill="#000"/>
<text transform="translate(285.80,460.50) scale(1.03,1.047)" font-family='"Liberation Sans", sans-serif' font-size="21.6" text-anchor="start"> 00 Hz</text>
<text transform="translate(390.70,460.50) scale(1.03,1.047)" font-family='"Liberation Sans", sans-serif' font-size="21.6" text-anchor="start" >20 Hz</text>
<line x1="319.60" y1="463.70" x2="319.60" y2="543.50" stroke="#000" stroke-width="1.9"/>
<line x1="319.60" y1="543.50" x2="316.79" y2="530.30" stroke="#000" stroke-width="1.9"/>
<line x1="319.60" y1="543.50" x2="322.41" y2="530.30" stroke="#000" stroke-width="1.9"/>
<line x1="418.20" y1="463.70" x2="351.80" y2="535.30" stroke="#000" stroke-width="1.9"/>
<line x1="351.80" y1="535.30" x2="358.71" y2="523.71" stroke="#000" stroke-width="1.9"/>
<line x1="351.80" y1="535.30" x2="362.84" y2="527.53" stroke="#000" stroke-width="1.9"/>
<rect x="103.0" y="761.7" width="552.5" height="555.2" fill="none" stroke="#000" stroke-width="2.4"/>
<line x1="103.00" y1="1039.30" x2="655.50" y2="1039.30" stroke="#000" stroke-width="2.4"/>
<line x1="136.26" y1="1039.30" x2="136.26" y2="1031.80" stroke="#000" stroke-width="1.8"/>
<line x1="155.72" y1="1039.30" x2="155.72" y2="1031.80" stroke="#000" stroke-width="1.8"/>
<line x1="169.53" y1="1039.30" x2="169.53" y2="1031.80" stroke="#000" stroke-width="1.8"/>
<line x1="180.24" y1="1039.30" x2="180.24" y2="1031.80" stroke="#000" stroke-width="1.8"/>
<line x1="188.99" y1="1039.30" x2="188.99" y2="1031.80" stroke="#000" stroke-width="1.8"/>
<line x1="196.38" y1="1039.30" x2="196.38" y2="1031.80" stroke="#000" stroke-width="1.8"/>
<line x1="202.79" y1="1039.30" x2="202.79" y2="1031.80" stroke="#000" stroke-width="1.8"/>
<line x1="208.44" y1="1039.30" x2="208.44" y2="1031.80" stroke="#000" stroke-width="1.8"/>
<line x1="213.50" y1="1039.30" x2="213.50" y2="1025.30" stroke="#000" stroke-width="1.8"/>
<line x1="246.76" y1="1039.30" x2="246.76" y2="1031.80" stroke="#000" stroke-width="1.8"/>
<line x1="266.22" y1="1039.30" x2="266.22" y2="1031.80" stroke="#000" stroke-width="1.8"/>
<line x1="280.03" y1="1039.30" x2="280.03" y2="1031.80" stroke="#000" stroke-width="1.8"/>
<line x1="290.74" y1="1039.30" x2="290.74" y2="1031.80" stroke="#000" stroke-width="1.8"/>
<line x1="299.49" y1="1039.30" x2="299.49" y2="1031.80" stroke="#000" stroke-width="1.8"/>
<line x1="306.88" y1="1039.30" x2="306.88" y2="1031.80" stroke="#000" stroke-width="1.8"/>
<line x1="313.29" y1="1039.30" x2="313.29" y2="1031.80" stroke="#000" stroke-width="1.8"/>
<line x1="318.94" y1="1039.30" x2="318.94" y2="1031.80" stroke="#000" stroke-width="1.8"/>
<line x1="324.00" y1="1039.30" x2="324.00" y2="1025.30" stroke="#000" stroke-width="1.8"/>
<line x1="357.26" y1="1039.30" x2="357.26" y2="1031.80" stroke="#000" stroke-width="1.8"/>
<line x1="376.72" y1="1039.30" x2="376.72" y2="1031.80" stroke="#000" stroke-width="1.8"/>
<line x1="390.53" y1="1039.30" x2="390.53" y2="1031.80" stroke="#000" stroke-width="1.8"/>
<line x1="401.24" y1="1039.30" x2="401.24" y2="1031.80" stroke="#000" stroke-width="1.8"/>
<line x1="409.99" y1="1039.30" x2="409.99" y2="1031.80" stroke="#000" stroke-width="1.8"/>
<line x1="417.38" y1="1039.30" x2="417.38" y2="1031.80" stroke="#000" stroke-width="1.8"/>
<line x1="423.79" y1="1039.30" x2="423.79" y2="1031.80" stroke="#000" stroke-width="1.8"/>
<line x1="429.44" y1="1039.30" x2="429.44" y2="1031.80" stroke="#000" stroke-width="1.8"/>
<line x1="434.50" y1="1039.30" x2="434.50" y2="1025.30" stroke="#000" stroke-width="1.8"/>
<line x1="467.76" y1="1039.30" x2="467.76" y2="1031.80" stroke="#000" stroke-width="1.8"/>
<line x1="487.22" y1="1039.30" x2="487.22" y2="1031.80" stroke="#000" stroke-width="1.8"/>
<line x1="501.03" y1="1039.30" x2="501.03" y2="1031.80" stroke="#000" stroke-width="1.8"/>
<line x1="511.74" y1="1039.30" x2="511.74" y2="1031.80" stroke="#000" stroke-width="1.8"/>
<line x1="520.49" y1="1039.30" x2="520.49" y2="1031.80" stroke="#000" stroke-width="1.8"/>
<line x1="527.88" y1="1039.30" x2="527.88" y2="1031.80" stroke="#000" stroke-width="1.8"/>
<line x1="534.29" y1="1039.30" x2="534.29" y2="1031.80" stroke="#000" stroke-width="1.8"/>
<line x1="539.94" y1="1039.30" x2="539.94" y2="1031.80" stroke="#000" stroke-width="1.8"/>
<line x1="545.00" y1="1039.30" x2="545.00" y2="1025.30" stroke="#000" stroke-width="1.8"/>
<line x1="578.26" y1="1039.30" x2="578.26" y2="1031.80" stroke="#000" stroke-width="1.8"/>
<line x1="597.72" y1="1039.30" x2="597.72" y2="1031.80" stroke="#000" stroke-width="1.8"/>
<line x1="611.53" y1="1039.30" x2="611.53" y2="1031.80" stroke="#000" stroke-width="1.8"/>
<line x1="622.24" y1="1039.30" x2="622.24" y2="1031.80" stroke="#000" stroke-width="1.8"/>
<line x1="630.99" y1="1039.30" x2="630.99" y2="1031.80" stroke="#000" stroke-width="1.8"/>
<line x1="638.38" y1="1039.30" x2="638.38" y2="1031.80" stroke="#000" stroke-width="1.8"/>
<line x1="644.79" y1="1039.30" x2="644.79" y2="1031.80" stroke="#000" stroke-width="1.8"/>
<line x1="650.44" y1="1039.30" x2="650.44" y2="1031.80" stroke="#000" stroke-width="1.8"/>
<line x1="136.26" y1="1316.90" x2="136.26" y2="1309.40" stroke="#000" stroke-width="1.8"/>
<line x1="155.72" y1="1316.90" x2="155.72" y2="1309.40" stroke="#000" stroke-width="1.8"/>
<line x1="169.53" y1="1316.90" x2="169.53" y2="1309.40" stroke="#000" stroke-width="1.8"/>
<line x1="180.24" y1="1316.90" x2="180.24" y2="1309.40" stroke="#000" stroke-width="1.8"/>
<line x1="188.99" y1="1316.90" x2="188.99" y2="1309.40" stroke="#000" stroke-width="1.8"/>
<line x1="196.38" y1="1316.90" x2="196.38" y2="1309.40" stroke="#000" stroke-width="1.8"/>
<line x1="202.79" y1="1316.90" x2="202.79" y2="1309.40" stroke="#000" stroke-width="1.8"/>
<line x1="208.44" y1="1316.90" x2="208.44" y2="1309.40" stroke="#000" stroke-width="1.8"/>
<line x1="213.50" y1="1316.90" x2="213.50" y2="1302.90" stroke="#000" stroke-width="1.8"/>
<line x1="246.76" y1="1316.90" x2="246.76" y2="1309.40" stroke="#000" stroke-width="1.8"/>
<line x1="266.22" y1="1316.90" x2="266.22" y2="1309.40" stroke="#000" stroke-width="1.8"/>
<line x1="280.03" y1="1316.90" x2="280.03" y2="1309.40" stroke="#000" stroke-width="1.8"/>
<line x1="290.74" y1="1316.90" x2="290.74" y2="1309.40" stroke="#000" stroke-width="1.8"/>
<line x1="299.49" y1="1316.90" x2="299.49" y2="1309.40" stroke="#000" stroke-width="1.8"/>
<line x1="306.88" y1="1316.90" x2="306.88" y2="1309.40" stroke="#000" stroke-width="1.8"/>
<line x1="313.29" y1="1316.90" x2="313.29" y2="1309.40" stroke="#000" stroke-width="1.8"/>
<line x1="318.94" y1="1316.90" x2="318.94" y2="1309.40" stroke="#000" stroke-width="1.8"/>
<line x1="324.00" y1="1316.90" x2="324.00" y2="1302.90" stroke="#000" stroke-width="1.8"/>
<line x1="357.26" y1="1316.90" x2="357.26" y2="1309.40" stroke="#000" stroke-width="1.8"/>
<line x1="376.72" y1="1316.90" x2="376.72" y2="1309.40" stroke="#000" stroke-width="1.8"/>
<line x1="390.53" y1="1316.90" x2="390.53" y2="1309.40" stroke="#000" stroke-width="1.8"/>
<line x1="401.24" y1="1316.90" x2="401.24" y2="1309.40" stroke="#000" stroke-width="1.8"/>
<line x1="409.99" y1="1316.90" x2="409.99" y2="1309.40" stroke="#000" stroke-width="1.8"/>
<line x1="417.38" y1="1316.90" x2="417.38" y2="1309.40" stroke="#000" stroke-width="1.8"/>
<line x1="423.79" y1="1316.90" x2="423.79" y2="1309.40" stroke="#000" stroke-width="1.8"/>
<line x1="429.44" y1="1316.90" x2="429.44" y2="1309.40" stroke="#000" stroke-width="1.8"/>
<line x1="434.50" y1="1316.90" x2="434.50" y2="1302.90" stroke="#000" stroke-width="1.8"/>
<line x1="467.76" y1="1316.90" x2="467.76" y2="1309.40" stroke="#000" stroke-width="1.8"/>
<line x1="487.22" y1="1316.90" x2="487.22" y2="1309.40" stroke="#000" stroke-width="1.8"/>
<line x1="501.03" y1="1316.90" x2="501.03" y2="1309.40" stroke="#000" stroke-width="1.8"/>
<line x1="511.74" y1="1316.90" x2="511.74" y2="1309.40" stroke="#000" stroke-width="1.8"/>
<line x1="520.49" y1="1316.90" x2="520.49" y2="1309.40" stroke="#000" stroke-width="1.8"/>
<line x1="527.88" y1="1316.90" x2="527.88" y2="1309.40" stroke="#000" stroke-width="1.8"/>
<line x1="534.29" y1="1316.90" x2="534.29" y2="1309.40" stroke="#000" stroke-width="1.8"/>
<line x1="539.94" y1="1316.90" x2="539.94" y2="1309.40" stroke="#000" stroke-width="1.8"/>
<line x1="545.00" y1="1316.90" x2="545.00" y2="1302.90" stroke="#000" stroke-width="1.8"/>
<line x1="578.26" y1="1316.90" x2="578.26" y2="1309.40" stroke="#000" stroke-width="1.8"/>
<line x1="597.72" y1="1316.90" x2="597.72" y2="1309.40" stroke="#000" stroke-width="1.8"/>
<line x1="611.53" y1="1316.90" x2="611.53" y2="1309.40" stroke="#000" stroke-width="1.8"/>
<line x1="622.24" y1="1316.90" x2="622.24" y2="1309.40" stroke="#000" stroke-width="1.8"/>
<line x1="630.99" y1="1316.90" x2="630.99" y2="1309.40" stroke="#000" stroke-width="1.8"/>
<line x1="638.38" y1="1316.90" x2="638.38" y2="1309.40" stroke="#000" stroke-width="1.8"/>
<line x1="644.79" y1="1316.90" x2="644.79" y2="1309.40" stroke="#000" stroke-width="1.8"/>
<line x1="650.44" y1="1316.90" x2="650.44" y2="1309.40" stroke="#000" stroke-width="1.8"/>
<line x1="125.30" y1="761.70" x2="125.30" y2="775.20" stroke="#000" stroke-width="1.8"/>
<line x1="235.80" y1="761.70" x2="235.80" y2="775.20" stroke="#000" stroke-width="1.8"/>
<line x1="202.54" y1="761.70" x2="202.54" y2="769.20" stroke="#000" stroke-width="1.8"/>
<line x1="183.08" y1="761.70" x2="183.08" y2="769.20" stroke="#000" stroke-width="1.8"/>
<line x1="169.27" y1="761.70" x2="169.27" y2="769.20" stroke="#000" stroke-width="1.8"/>
<line x1="158.56" y1="761.70" x2="158.56" y2="769.20" stroke="#000" stroke-width="1.8"/>
<line x1="149.82" y1="761.70" x2="149.82" y2="769.20" stroke="#000" stroke-width="1.8"/>
<line x1="142.42" y1="761.70" x2="142.42" y2="769.20" stroke="#000" stroke-width="1.8"/>
<line x1="136.01" y1="761.70" x2="136.01" y2="769.20" stroke="#000" stroke-width="1.8"/>
<line x1="130.36" y1="761.70" x2="130.36" y2="769.20" stroke="#000" stroke-width="1.8"/>
<line x1="346.30" y1="761.70" x2="346.30" y2="775.20" stroke="#000" stroke-width="1.8"/>
<line x1="313.04" y1="761.70" x2="313.04" y2="769.20" stroke="#000" stroke-width="1.8"/>
<line x1="293.58" y1="761.70" x2="293.58" y2="769.20" stroke="#000" stroke-width="1.8"/>
<line x1="279.77" y1="761.70" x2="279.77" y2="769.20" stroke="#000" stroke-width="1.8"/>
<line x1="269.06" y1="761.70" x2="269.06" y2="769.20" stroke="#000" stroke-width="1.8"/>
<line x1="260.32" y1="761.70" x2="260.32" y2="769.20" stroke="#000" stroke-width="1.8"/>
<line x1="252.92" y1="761.70" x2="252.92" y2="769.20" stroke="#000" stroke-width="1.8"/>
<line x1="246.51" y1="761.70" x2="246.51" y2="769.20" stroke="#000" stroke-width="1.8"/>
<line x1="240.86" y1="761.70" x2="240.86" y2="769.20" stroke="#000" stroke-width="1.8"/>
<line x1="456.80" y1="761.70" x2="456.80" y2="775.20" stroke="#000" stroke-width="1.8"/>
<line x1="423.54" y1="761.70" x2="423.54" y2="769.20" stroke="#000" stroke-width="1.8"/>
<line x1="404.08" y1="761.70" x2="404.08" y2="769.20" stroke="#000" stroke-width="1.8"/>
<line x1="390.27" y1="761.70" x2="390.27" y2="769.20" stroke="#000" stroke-width="1.8"/>
<line x1="379.56" y1="761.70" x2="379.56" y2="769.20" stroke="#000" stroke-width="1.8"/>
<line x1="370.82" y1="761.70" x2="370.82" y2="769.20" stroke="#000" stroke-width="1.8"/>
<line x1="363.42" y1="761.70" x2="363.42" y2="769.20" stroke="#000" stroke-width="1.8"/>
<line x1="357.01" y1="761.70" x2="357.01" y2="769.20" stroke="#000" stroke-width="1.8"/>
<line x1="351.36" y1="761.70" x2="351.36" y2="769.20" stroke="#000" stroke-width="1.8"/>
<line x1="567.30" y1="761.70" x2="567.30" y2="775.20" stroke="#000" stroke-width="1.8"/>
<line x1="534.04" y1="761.70" x2="534.04" y2="769.20" stroke="#000" stroke-width="1.8"/>
<line x1="514.58" y1="761.70" x2="514.58" y2="769.20" stroke="#000" stroke-width="1.8"/>
<line x1="500.77" y1="761.70" x2="500.77" y2="769.20" stroke="#000" stroke-width="1.8"/>
<line x1="490.06" y1="761.70" x2="490.06" y2="769.20" stroke="#000" stroke-width="1.8"/>
<line x1="481.32" y1="761.70" x2="481.32" y2="769.20" stroke="#000" stroke-width="1.8"/>
<line x1="473.92" y1="761.70" x2="473.92" y2="769.20" stroke="#000" stroke-width="1.8"/>
<line x1="467.51" y1="761.70" x2="467.51" y2="769.20" stroke="#000" stroke-width="1.8"/>
<line x1="461.86" y1="761.70" x2="461.86" y2="769.20" stroke="#000" stroke-width="1.8"/>
<line x1="644.54" y1="761.70" x2="644.54" y2="769.20" stroke="#000" stroke-width="1.8"/>
<line x1="625.08" y1="761.70" x2="625.08" y2="769.20" stroke="#000" stroke-width="1.8"/>
<line x1="611.27" y1="761.70" x2="611.27" y2="769.20" stroke="#000" stroke-width="1.8"/>
<line x1="600.56" y1="761.70" x2="600.56" y2="769.20" stroke="#000" stroke-width="1.8"/>
<line x1="591.82" y1="761.70" x2="591.82" y2="769.20" stroke="#000" stroke-width="1.8"/>
<line x1="584.42" y1="761.70" x2="584.42" y2="769.20" stroke="#000" stroke-width="1.8"/>
<line x1="578.01" y1="761.70" x2="578.01" y2="769.20" stroke="#000" stroke-width="1.8"/>
<line x1="572.36" y1="761.70" x2="572.36" y2="769.20" stroke="#000" stroke-width="1.8"/>
<line x1="125.30" y1="1039.30" x2="125.30" y2="1052.80" stroke="#000" stroke-width="1.8"/>
<line x1="235.80" y1="1039.30" x2="235.80" y2="1052.80" stroke="#000" stroke-width="1.8"/>
<line x1="202.54" y1="1039.30" x2="202.54" y2="1046.80" stroke="#000" stroke-width="1.8"/>
<line x1="183.08" y1="1039.30" x2="183.08" y2="1046.80" stroke="#000" stroke-width="1.8"/>
<line x1="169.27" y1="1039.30" x2="169.27" y2="1046.80" stroke="#000" stroke-width="1.8"/>
<line x1="158.56" y1="1039.30" x2="158.56" y2="1046.80" stroke="#000" stroke-width="1.8"/>
<line x1="149.82" y1="1039.30" x2="149.82" y2="1046.80" stroke="#000" stroke-width="1.8"/>
<line x1="142.42" y1="1039.30" x2="142.42" y2="1046.80" stroke="#000" stroke-width="1.8"/>
<line x1="136.01" y1="1039.30" x2="136.01" y2="1046.80" stroke="#000" stroke-width="1.8"/>
<line x1="130.36" y1="1039.30" x2="130.36" y2="1046.80" stroke="#000" stroke-width="1.8"/>
<line x1="346.30" y1="1039.30" x2="346.30" y2="1052.80" stroke="#000" stroke-width="1.8"/>
<line x1="313.04" y1="1039.30" x2="313.04" y2="1046.80" stroke="#000" stroke-width="1.8"/>
<line x1="293.58" y1="1039.30" x2="293.58" y2="1046.80" stroke="#000" stroke-width="1.8"/>
<line x1="279.77" y1="1039.30" x2="279.77" y2="1046.80" stroke="#000" stroke-width="1.8"/>
<line x1="269.06" y1="1039.30" x2="269.06" y2="1046.80" stroke="#000" stroke-width="1.8"/>
<line x1="260.32" y1="1039.30" x2="260.32" y2="1046.80" stroke="#000" stroke-width="1.8"/>
<line x1="252.92" y1="1039.30" x2="252.92" y2="1046.80" stroke="#000" stroke-width="1.8"/>
<line x1="246.51" y1="1039.30" x2="246.51" y2="1046.80" stroke="#000" stroke-width="1.8"/>
<line x1="240.86" y1="1039.30" x2="240.86" y2="1046.80" stroke="#000" stroke-width="1.8"/>
<line x1="456.80" y1="1039.30" x2="456.80" y2="1052.80" stroke="#000" stroke-width="1.8"/>
<line x1="423.54" y1="1039.30" x2="423.54" y2="1046.80" stroke="#000" stroke-width="1.8"/>
<line x1="404.08" y1="1039.30" x2="404.08" y2="1046.80" stroke="#000" stroke-width="1.8"/>
<line x1="390.27" y1="1039.30" x2="390.27" y2="1046.80" stroke="#000" stroke-width="1.8"/>
<line x1="379.56" y1="1039.30" x2="379.56" y2="1046.80" stroke="#000" stroke-width="1.8"/>
<line x1="370.82" y1="1039.30" x2="370.82" y2="1046.80" stroke="#000" stroke-width="1.8"/>
<line x1="363.42" y1="1039.30" x2="363.42" y2="1046.80" stroke="#000" stroke-width="1.8"/>
<line x1="357.01" y1="1039.30" x2="357.01" y2="1046.80" stroke="#000" stroke-width="1.8"/>
<line x1="351.36" y1="1039.30" x2="351.36" y2="1046.80" stroke="#000" stroke-width="1.8"/>
<line x1="567.30" y1="1039.30" x2="567.30" y2="1052.80" stroke="#000" stroke-width="1.8"/>
<line x1="534.04" y1="1039.30" x2="534.04" y2="1046.80" stroke="#000" stroke-width="1.8"/>
<line x1="514.58" y1="1039.30" x2="514.58" y2="1046.80" stroke="#000" stroke-width="1.8"/>
<line x1="500.77" y1="1039.30" x2="500.77" y2="1046.80" stroke="#000" stroke-width="1.8"/>
<line x1="490.06" y1="1039.30" x2="490.06" y2="1046.80" stroke="#000" stroke-width="1.8"/>
<line x1="481.32" y1="1039.30" x2="481.32" y2="1046.80" stroke="#000" stroke-width="1.8"/>
<line x1="473.92" y1="1039.30" x2="473.92" y2="1046.80" stroke="#000" stroke-width="1.8"/>
<line x1="467.51" y1="1039.30" x2="467.51" y2="1046.80" stroke="#000" stroke-width="1.8"/>
<line x1="461.86" y1="1039.30" x2="461.86" y2="1046.80" stroke="#000" stroke-width="1.8"/>
<line x1="644.54" y1="1039.30" x2="644.54" y2="1046.80" stroke="#000" stroke-width="1.8"/>
<line x1="625.08" y1="1039.30" x2="625.08" y2="1046.80" stroke="#000" stroke-width="1.8"/>
<line x1="611.27" y1="1039.30" x2="611.27" y2="1046.80" stroke="#000" stroke-width="1.8"/>
<line x1="600.56" y1="1039.30" x2="600.56" y2="1046.80" stroke="#000" stroke-width="1.8"/>
<line x1="591.82" y1="1039.30" x2="591.82" y2="1046.80" stroke="#000" stroke-width="1.8"/>
<line x1="584.42" y1="1039.30" x2="584.42" y2="1046.80" stroke="#000" stroke-width="1.8"/>
<line x1="578.01" y1="1039.30" x2="578.01" y2="1046.80" stroke="#000" stroke-width="1.8"/>
<line x1="572.36" y1="1039.30" x2="572.36" y2="1046.80" stroke="#000" stroke-width="1.8"/>
<line x1="103.00" y1="1039.24" x2="111.00" y2="1039.24" stroke="#000" stroke-width="1.8"/>
<line x1="103.00" y1="1008.40" x2="117.60" y2="1008.40" stroke="#000" stroke-width="1.8"/>
<line x1="103.00" y1="977.56" x2="111.00" y2="977.56" stroke="#000" stroke-width="1.8"/>
<line x1="103.00" y1="946.73" x2="111.00" y2="946.73" stroke="#000" stroke-width="1.8"/>
<line x1="103.00" y1="915.89" x2="111.00" y2="915.89" stroke="#000" stroke-width="1.8"/>
<line x1="103.00" y1="885.05" x2="117.60" y2="885.05" stroke="#000" stroke-width="1.8"/>
<line x1="103.00" y1="854.21" x2="111.00" y2="854.21" stroke="#000" stroke-width="1.8"/>
<line x1="103.00" y1="823.38" x2="111.00" y2="823.38" stroke="#000" stroke-width="1.8"/>
<line x1="103.00" y1="792.54" x2="111.00" y2="792.54" stroke="#000" stroke-width="1.8"/>
<line x1="103.00" y1="1316.94" x2="111.00" y2="1316.94" stroke="#000" stroke-width="1.8"/>
<line x1="103.00" y1="1286.10" x2="117.60" y2="1286.10" stroke="#000" stroke-width="1.8"/>
<line x1="103.00" y1="1255.26" x2="111.00" y2="1255.26" stroke="#000" stroke-width="1.8"/>
<line x1="103.00" y1="1224.42" x2="111.00" y2="1224.42" stroke="#000" stroke-width="1.8"/>
<line x1="103.00" y1="1193.59" x2="111.00" y2="1193.59" stroke="#000" stroke-width="1.8"/>
<line x1="103.00" y1="1162.75" x2="117.60" y2="1162.75" stroke="#000" stroke-width="1.8"/>
<line x1="103.00" y1="1131.91" x2="111.00" y2="1131.91" stroke="#000" stroke-width="1.8"/>
<line x1="103.00" y1="1101.07" x2="111.00" y2="1101.07" stroke="#000" stroke-width="1.8"/>
<line x1="103.00" y1="1070.24" x2="111.00" y2="1070.24" stroke="#000" stroke-width="1.8"/>
<text transform="translate(97.50,769.90) scale(1.0,1.1)" font-family='"Liberation Sans", sans-serif' font-size="28" text-anchor="end" >0.4</text>
<text transform="translate(97.50,893.25) scale(1.0,1.1)" font-family='"Liberation Sans", sans-serif' font-size="28" text-anchor="end" >0.2</text>
<text transform="translate(97.50,1016.60) scale(1.0,1.1)" font-family='"Liberation Sans", sans-serif' font-size="28" text-anchor="end" >0</text>
<text transform="translate(97.50,1047.60) scale(1.0,1.1)" font-family='"Liberation Sans", sans-serif' font-size="28" text-anchor="end" >0.4</text>
<text transform="translate(97.50,1170.95) scale(1.0,1.1)" font-family='"Liberation Sans", sans-serif' font-size="28" text-anchor="end" >0.2</text>
<text transform="translate(97.50,1294.30) scale(1.0,1.1)" font-family='"Liberation Sans", sans-serif' font-size="28" text-anchor="end" >0</text>
<path d="M98.77,1349.40 L96.26,1349.40 L96.26,1332.90 Q95.36,1333.80 93.88,1334.69 Q92.41,1335.57 91.24,1336.04 L91.24,1333.51 Q93.34,1332.49 94.91,1331.03 Q96.49,1329.59 97.14,1328.22 L98.77,1328.22 Z" fill="#000"/>
<text transform="translate(104.00,1349.40) scale(1.0,1.08)" font-family='"Liberation Sans", sans-serif' font-size="28.5" text-anchor="middle"> 0</text>
<text transform="translate(119.50,1336.80) scale(1.0,1.08)" font-family='"Liberation Sans", sans-serif' font-size="19" text-anchor="start">0</text>
<path d="M209.27,1349.40 L206.76,1349.40 L206.76,1332.90 Q205.86,1333.80 204.38,1334.69 Q202.91,1335.57 201.74,1336.04 L201.74,1333.51 Q203.84,1332.49 205.41,1331.03 Q206.99,1329.59 207.64,1328.22 L209.27,1328.22 Z" fill="#000"/>
<text transform="translate(214.50,1349.40) scale(1.0,1.08)" font-family='"Liberation Sans", sans-serif' font-size="28.5" text-anchor="middle"> 0</text>
<path d="M237.08,1336.80 L235.41,1336.80 L235.41,1325.80 Q234.81,1326.40 233.82,1326.99 Q232.84,1327.58 232.06,1327.89 L232.06,1326.21 Q233.46,1325.53 234.51,1324.56 Q235.56,1323.59 235.99,1322.68 L237.08,1322.68 Z" fill="#000"/>
<text transform="translate(230.00,1336.80) scale(1.0,1.08)" font-family='"Liberation Sans", sans-serif' font-size="19" text-anchor="start"> </text>
<path d="M319.77,1349.40 L317.26,1349.40 L317.26,1332.90 Q316.36,1333.80 314.88,1334.69 Q313.41,1335.57 312.24,1336.04 L312.24,1333.51 Q314.34,1332.49 315.91,1331.03 Q317.49,1329.59 318.14,1328.22 L319.77,1328.22 Z" fill="#000"/>
<text transform="translate(325.00,1349.40) scale(1.0,1.08)" font-family='"Liberation Sans", sans-serif' font-size="28.5" text-anchor="middle"> 0</text>
<text transform="translate(340.50,1336.80) scale(1.0,1.08)" font-family='"Liberation Sans", sans-serif' font-size="19" text-anchor="start">2</text>
<path d="M430.27,1349.40 L427.76,1349.40 L427.76,1332.90 Q426.86,1333.80 425.38,1334.69 Q423.91,1335.57 422.74,1336.04 L422.74,1333.51 Q424.84,1332.49 426.41,1331.03 Q427.99,1329.59 428.64,1328.22 L430.27,1328.22 Z" fill="#000"/>
<text transform="translate(435.50,1349.40) scale(1.0,1.08)" font-family='"Liberation Sans", sans-serif' font-size="28.5" text-anchor="middle"> 0</text>
<text transform="translate(451.00,1336.80) scale(1.0,1.08)" font-family='"Liberation Sans", sans-serif' font-size="19" text-anchor="start">3</text>
<path d="M540.77,1349.40 L538.26,1349.40 L538.26,1332.90 Q537.36,1333.80 535.88,1334.69 Q534.41,1335.57 533.24,1336.04 L533.24,1333.51 Q535.34,1332.49 536.91,1331.03 Q538.49,1329.59 539.14,1328.22 L540.77,1328.22 Z" fill="#000"/>
<text transform="translate(546.00,1349.40) scale(1.0,1.08)" font-family='"Liberation Sans", sans-serif' font-size="28.5" text-anchor="middle"> 0</text>
<text transform="translate(561.50,1336.80) scale(1.0,1.08)" font-family='"Liberation Sans", sans-serif' font-size="19" text-anchor="start">4</text>
<path d="M651.27,1349.40 L648.76,1349.40 L648.76,1332.90 Q647.86,1333.80 646.38,1334.69 Q644.91,1335.57 643.74,1336.04 L643.74,1333.51 Q645.84,1332.49 647.41,1331.03 Q648.99,1329.59 649.64,1328.22 L651.27,1328.22 Z" fill="#000"/>
<text transform="translate(656.50,1349.40) scale(1.0,1.08)" font-family='"Liberation Sans", sans-serif' font-size="28.5" text-anchor="middle"> 0</text>
<text transform="translate(672.00,1336.80) scale(1.0,1.08)" font-family='"Liberation Sans", sans-serif' font-size="19" text-anchor="start">5</text>
<path d="M120.57,749.90 L118.06,749.90 L118.06,733.40 Q117.16,734.30 115.68,735.19 Q114.21,736.07 113.04,736.54 L113.04,734.01 Q115.14,732.99 116.71,731.53 Q118.29,730.09 118.94,728.72 L120.57,728.72 Z" fill="#000"/>
<text transform="translate(125.80,749.90) scale(1.0,1.08)" font-family='"Liberation Sans", sans-serif' font-size="28.5" text-anchor="middle"> 0</text>
<path d="M154.71,738.60 L153.04,738.60 L153.04,727.60 Q152.43,728.20 151.45,728.79 Q150.47,729.38 149.69,729.69 L149.69,728.01 Q151.09,727.33 152.14,726.36 Q153.19,725.39 153.62,724.48 L154.71,724.48 Z" fill="#000"/>
<text transform="translate(141.30,738.60) scale(1.0,1.08)" font-family='"Liberation Sans", sans-serif' font-size="19" text-anchor="start">- </text>
<path d="M231.07,749.90 L228.56,749.90 L228.56,733.40 Q227.66,734.30 226.18,735.19 Q224.71,736.07 223.54,736.54 L223.54,734.01 Q225.64,732.99 227.21,731.53 Q228.79,730.09 229.44,728.72 L231.07,728.72 Z" fill="#000"/>
<text transform="translate(236.30,749.90) scale(1.0,1.08)" font-family='"Liberation Sans", sans-serif' font-size="28.5" text-anchor="middle"> 0</text>
<text transform="translate(251.80,738.60) scale(1.0,1.08)" font-family='"Liberation Sans", sans-serif' font-size="19" text-anchor="start">-2</text>
<path d="M341.57,749.90 L339.06,749.90 L339.06,733.40 Q338.16,734.30 336.68,735.19 Q335.21,736.07 334.04,736.54 L334.04,734.01 Q336.14,732.99 337.71,731.53 Q339.29,730.09 339.94,728.72 L341.57,728.72 Z" fill="#000"/>
<text transform="translate(346.80,749.90) scale(1.0,1.08)" font-family='"Liberation Sans", sans-serif' font-size="28.5" text-anchor="middle"> 0</text>
<text transform="translate(362.30,738.60) scale(1.0,1.08)" font-family='"Liberation Sans", sans-serif' font-size="19" text-anchor="start">-3</text>
<path d="M452.07,749.90 L449.56,749.90 L449.56,733.40 Q448.66,734.30 447.18,735.19 Q445.71,736.07 444.54,736.54 L444.54,734.01 Q446.64,732.99 448.21,731.53 Q449.79,730.09 450.44,728.72 L452.07,728.72 Z" fill="#000"/>
<text transform="translate(457.30,749.90) scale(1.0,1.08)" font-family='"Liberation Sans", sans-serif' font-size="28.5" text-anchor="middle"> 0</text>
<text transform="translate(472.80,738.60) scale(1.0,1.08)" font-family='"Liberation Sans", sans-serif' font-size="19" text-anchor="start">-4</text>
<path d="M562.57,749.90 L560.06,749.90 L560.06,733.40 Q559.16,734.30 557.68,735.19 Q556.21,736.07 555.04,736.54 L555.04,734.01 Q557.14,732.99 558.71,731.53 Q560.29,730.09 560.94,728.72 L562.57,728.72 Z" fill="#000"/>
<text transform="translate(567.80,749.90) scale(1.0,1.08)" font-family='"Liberation Sans", sans-serif' font-size="28.5" text-anchor="middle"> 0</text>
<text transform="translate(583.30,738.60) scale(1.0,1.08)" font-family='"Liberation Sans", sans-serif' font-size="19" text-anchor="start">-5</text>
<text transform="translate(241.30,708.00) scale(1.02,1.07)" font-family='"Liberation Sans", sans-serif' font-size="27.5" text-anchor="start">Relaxation Time,</text>
<text transform="translate(465.60,708.00) scale(1.044,1.07)" font-family='"Liberation Sans", sans-serif' font-size="27.5" text-anchor="start"><tspan font-family='"Liberation Serif", serif' font-style="italic">&#964;</tspan></text>
<text transform="translate(481.30,708.00) scale(1.044,1.07)" font-family='"Liberation Sans", sans-serif' font-size="27.5" text-anchor="start">/ s</text>
<text transform="translate(268.40,1390.20) scale(1.068,1.11)" font-family='"Liberation Sans", sans-serif' font-size="27" text-anchor="start">Frequency, <tspan font-family='"Liberation Serif", serif' font-style="italic">f</tspan> / Hz</text>
<text transform="translate(32.40,1158.60) rotate(-90) scale(1.03,1.1)" font-family='"Liberation Sans", sans-serif' font-size="27.5" text-anchor="start">DRT, <tspan font-family='"Liberation Serif", serif' font-size="29.5"><tspan font-style="italic">g</tspan>(<tspan font-style="italic">f</tspan>)</tspan> / <tspan font-family='"Liberation Serif", serif' font-size="30">&#937;</tspan> cm<tspan dy="-12.5" font-size="21">2</tspan><tspan dy="12.5"> s</tspan></text>
<text transform="translate(126.00,801.60) scale(1.02,1.1)" font-family='"Liberation Sans", sans-serif' font-size="27.5" text-anchor="start" >(c) BCFZY</text>
<text transform="translate(126.00,1080.00) scale(1.02,1.1)" font-family='"Liberation Sans", sans-serif' font-size="27.5" text-anchor="start" >(d) BCFMY</text>
<text transform="translate(549.80,801.70) scale(1.035,1.11)" font-family='"Liberation Sans", sans-serif' font-size="27.5" text-anchor="start">600<tspan dy="-12.2" font-size="18">o</tspan><tspan dy="12.2">C</tspan></text>
<line x1="497.90" y1="819.40" x2="543.60" y2="819.40" stroke="#000000" stroke-width="2.2"/>
<text transform="translate(549.30,828.90) scale(1.06,1.1)" font-family='"Liberation Sans", sans-serif' font-size="21" text-anchor="start">9.7 %O<tspan dy="4.2" font-size="15">2</tspan></text>
<line x1="497.90" y1="841.73" x2="543.60" y2="841.73" stroke="#0000ff" stroke-width="2.2"/>
<text transform="translate(549.30,851.23) scale(1.06,1.1)" font-family='"Liberation Sans", sans-serif' font-size="21" text-anchor="start">20 %O<tspan dy="4.2" font-size="15">2</tspan></text>
<line x1="497.90" y1="864.06" x2="543.60" y2="864.06" stroke="#33ff00" stroke-width="2.2"/>
<text transform="translate(549.30,873.56) scale(1.06,1.1)" font-family='"Liberation Sans", sans-serif' font-size="21" text-anchor="start">39 %O<tspan dy="4.2" font-size="15">2</tspan></text>
<line x1="497.90" y1="886.39" x2="543.60" y2="886.39" stroke="#ff1a0a" stroke-width="2.2"/>
<text transform="translate(549.30,895.89) scale(1.06,1.1)" font-family='"Liberation Sans", sans-serif' font-size="21" text-anchor="start">97 %O<tspan dy="4.2" font-size="15">2</tspan></text>
<text x="219" y="855.7" font-family='"Liberation Serif", serif' font-size="23"><tspan font-style="italic">P</tspan><tspan dy="4.4" font-size="17">5</tspan></text>
<text x="314" y="937" font-family='"Liberation Serif", serif' font-size="23"><tspan font-style="italic">P</tspan><tspan dy="4.4" font-size="17">4</tspan></text>
<text x="395" y="959.5" font-family='"Liberation Serif", serif' font-size="23"><tspan font-style="italic">P</tspan><tspan dy="4.4" font-size="17">3</tspan></text>
<text x="472.5" y="959.5" font-family='"Liberation Serif", serif' font-size="23"><tspan font-style="italic">P</tspan><tspan dy="4.4" font-size="17">2</tspan></text>
<text x="561.8" y="959.5" font-family='"Liberation Serif", serif' font-size="23"><tspan font-style="italic">P</tspan><tspan dy="4.4" font-size="17">1</tspan></text>
<text x="219" y="1178.9" font-family='"Liberation Serif", serif' font-size="23"><tspan font-style="italic">P</tspan><tspan dy="4.4" font-size="17">5</tspan></text>
<text x="314.3" y="1215.3" font-family='"Liberation Serif", serif' font-size="23"><tspan font-style="italic">P</tspan><tspan dy="4.4" font-size="17">4</tspan></text>
<text x="395" y="1237.6" font-family='"Liberation Serif", serif' font-size="23"><tspan font-style="italic">P</tspan><tspan dy="4.4" font-size="17">3</tspan></text>
<text x="471.5" y="1237.6" font-family='"Liberation Serif", serif' font-size="23"><tspan font-style="italic">P</tspan><tspan dy="4.4" font-size="17">2</tspan></text>
<text x="561.8" y="1237.6" font-family='"Liberation Serif", serif' font-size="23"><tspan font-style="italic">P</tspan><tspan dy="4.4" font-size="17">1</tspan></text>
<polyline points="103.0,1008.4 175.0,1008.2 190.9,1004.0 212.8,898.5 223.8,881.7 235.2,909.4 257.1,979.5 268.3,984.6 279.3,976.6 291.0,964.7 301.5,962.0 313.8,970.0 334.8,991.0 347.1,996.2 368.1,995.0 382.1,996.2 393.1,999.1 412.8,1003.5 434.7,1005.7 452.3,1003.5 467.6,1001.3 480.7,1004.6 493.9,1008.3 648.4,1008.4" fill="none" stroke="#000000" stroke-width="2.1" stroke-linejoin="round" stroke-linecap="butt"/>
<polyline points="103.0,1008.4 145.3,1008.2 159.9,1005.7 170.1,1004.2 181.8,1006.0 191.7,1004.0 203.4,991.2 226.0,940.8 237.7,927.7 248.3,935.4 270.5,976.6 282.3,987.4 292.8,988.0 315.5,981.3 327.8,984.5 350.6,994.5 368.1,997.1 390.0,1001.0 408.5,1003.9 434.7,1003.0 445.7,1003.9 472.0,1007.4 485.1,1004.6 504.8,1004.6 520.1,1007.8 530.0,1008.4 639.6,1008.4" fill="none" stroke="#0000ff" stroke-width="2.1" stroke-linejoin="round" stroke-linecap="butt"/>
<path d="M103.00,1008.40 C116.67,1008.37 170.22,1008.40 185.00,1008.20 C199.78,1008.00 186.70,1008.20 191.70,1007.20 C196.70,1002.53 208.68,986.52 215.00,980.20 C221.32,973.88 224.73,973.80 229.60,969.30 C234.47,964.80 239.57,957.65 244.20,953.20 C248.83,948.75 253.98,943.93 257.40,942.60 C260.82,941.27 262.52,943.67 264.70,945.20 C266.88,946.73 268.80,949.25 270.50,951.80 C272.20,954.35 273.32,956.63 274.90,960.50 C276.48,964.37 278.18,970.37 280.00,975.00 C281.82,979.63 283.08,983.45 285.80,988.30 C288.52,993.15 293.38,1001.18 296.30,1004.10 C299.22,1005.80 300.10,1005.80 303.30,1005.80 C306.50,1004.33 311.12,998.93 315.50,995.30 C319.88,991.67 326.08,985.75 329.60,984.00 C333.12,982.25 332.82,982.92 336.60,984.80 C340.38,986.68 347.05,992.08 352.30,995.30 C357.55,998.52 364.30,1002.63 368.10,1004.10 C371.90,1004.10 370.57,1004.10 375.10,1004.10 C379.63,1003.02 389.02,997.88 395.30,997.60 C401.58,997.32 406.58,1000.62 412.80,1002.40 C419.02,1004.18 426.02,1008.20 432.60,1008.30 C439.18,1008.30 446.83,1004.17 452.30,1003.00 C457.77,1001.83 460.30,1000.68 465.40,1001.30 C470.50,1001.92 477.97,1005.52 482.90,1006.70 C487.83,1007.88 470.48,1008.12 495.00,1008.40 C519.52,1008.40 607.50,1008.40 630.00,1008.40" fill="none" stroke="#33ff00" stroke-width="2.1" stroke-linejoin="round"/>
<path d="M103.00,1008.40 C115.83,1008.37 163.52,1008.40 180.00,1008.20 C196.48,1008.00 195.82,1008.20 201.90,1007.20 C207.98,1005.82 211.38,1004.03 216.50,999.90 C221.62,995.77 227.25,989.70 232.60,982.40 C237.95,975.10 243.73,962.18 248.60,956.10 C253.47,950.02 257.67,946.13 261.80,945.90 C265.93,945.67 269.98,950.25 273.40,954.70 C276.82,959.15 278.78,966.12 282.30,972.60 C285.82,979.08 290.42,988.00 294.50,993.60 C298.58,999.20 303.58,1004.17 306.80,1006.20 C310.02,1006.20 309.13,1006.20 313.80,1005.80 C318.47,1003.47 329.83,994.38 334.80,992.20 C339.77,990.02 339.80,991.30 343.60,992.70 C347.40,994.10 353.22,998.47 357.60,1000.60 C361.98,1002.73 366.40,1004.77 369.90,1005.50 C373.40,1005.50 374.00,1005.50 378.60,1005.00 C383.20,1004.22 390.70,1000.40 397.50,1000.80 C404.30,1001.20 413.55,1006.15 419.40,1007.40 C425.25,1008.30 425.67,1008.30 432.60,1008.30 C439.53,1007.57 454.07,1003.43 461.00,1003.00 C467.93,1002.57 470.18,1004.78 474.20,1005.70 C478.22,1006.62 460.88,1008.03 485.10,1008.50 C509.32,1008.50 597.10,1008.50 619.50,1008.50" fill="none" stroke="#ff1a0a" stroke-width="2.1" stroke-linejoin="round"/>
<polyline points="103.3,1276.5 121.9,1269.3 136.1,1263.8 147.1,1260.5 158.0,1259.0 170.1,1260.1 192.0,1266.0 202.9,1264.5 213.9,1257.2 224.8,1245.2 235.8,1234.9 247.7,1232.0 258.6,1239.7 280.5,1264.9 299.1,1272.1 312.3,1269.3 325.4,1266.4 336.3,1267.1 353.9,1272.6 369.2,1278.0 390.0,1278.7 401.9,1276.9 412.8,1277.3 434.7,1283.0 447.9,1283.5 467.6,1279.5 478.5,1279.5 498.2,1284.6 510.0,1285.9 529.7,1285.7 542.8,1281.3 560.4,1278.6 573.5,1279.1 597.6,1281.7 615.1,1283.9 632.6,1286.7 648.4,1286.7" fill="none" stroke="#000000" stroke-width="2.1" stroke-linejoin="round" stroke-linecap="butt"/>
<polyline points="103.0,1286.1 118.6,1285.7 128.5,1283.5 144.9,1279.6 155.8,1280.4 174.4,1285.3 192.0,1285.3 200.7,1279.8 222.6,1255.0 234.7,1245.8 245.5,1241.5 259.7,1244.1 280.5,1260.5 299.1,1277.4 311.2,1280.9 323.2,1278.0 334.2,1274.7 345.1,1273.0 369.2,1278.7 390.0,1280.2 410.7,1279.7 434.7,1283.5 467.6,1281.3 496.0,1284.6 520.0,1285.8 547.2,1283.5 566.9,1280.2 588.8,1278.4 602.0,1279.1 619.5,1282.4 641.4,1286.7" fill="none" stroke="#0000ff" stroke-width="2.1" stroke-linejoin="round" stroke-linecap="butt"/>
<path d="M103.00,1286.10 C111.43,1286.03 143.52,1286.10 153.60,1285.70 C163.68,1285.02 159.85,1283.02 163.50,1282.00 C167.15,1280.98 172.22,1279.65 175.50,1279.60 C178.78,1279.55 180.45,1280.68 183.20,1281.70 C185.95,1282.72 186.88,1284.85 192.00,1285.70 C197.12,1286.55 209.17,1286.80 213.90,1286.80 C218.63,1286.62 217.48,1286.80 220.40,1284.60 C223.32,1281.50 228.13,1273.13 231.40,1268.20 C234.67,1263.27 237.47,1258.83 240.00,1255.00 C242.53,1251.17 244.23,1247.38 246.60,1245.20 C248.97,1243.02 250.92,1241.65 254.20,1241.90 C257.48,1242.15 261.37,1243.05 266.30,1246.70 C271.23,1250.35 278.33,1259.48 283.80,1263.80 C289.27,1268.12 293.27,1270.05 299.10,1272.60 C304.93,1275.15 312.23,1277.28 318.80,1279.10 C325.37,1280.92 331.93,1283.13 338.50,1283.50 C345.07,1283.50 352.72,1281.85 358.20,1281.30 C363.68,1280.75 367.77,1280.57 371.40,1280.20 C375.03,1279.83 375.65,1279.10 380.00,1279.10 C384.35,1279.10 388.02,1279.10 397.50,1280.20 C406.98,1281.30 425.58,1285.60 436.90,1285.70 C448.22,1285.70 455.18,1280.80 465.40,1280.80 C475.62,1280.80 487.43,1284.78 498.20,1285.70 C508.97,1286.30 522.57,1286.30 530.00,1286.30 C537.43,1286.30 537.02,1286.30 542.80,1285.70 C548.58,1284.93 558.12,1282.62 564.70,1281.70 C571.28,1280.78 576.08,1280.27 582.30,1280.20 C588.52,1280.13 595.80,1280.75 602.00,1281.30 C608.20,1281.85 613.48,1282.60 619.50,1283.50 C625.52,1284.40 635.00,1286.17 638.10,1286.70" fill="none" stroke="#33ff00" stroke-width="2.1" stroke-linejoin="round"/>
<path d="M103.00,1286.10 C116.73,1286.13 169.48,1286.30 185.40,1286.30 C201.32,1285.68 194.48,1283.60 198.50,1282.40 C202.52,1281.20 205.85,1279.90 209.50,1279.10 C213.15,1278.30 216.02,1277.78 220.40,1277.60 C224.78,1277.42 231.78,1278.30 235.80,1278.00 C239.82,1277.70 241.97,1276.70 244.50,1275.80 C247.03,1274.90 247.73,1275.15 251.00,1272.60 C254.27,1270.05 260.47,1263.87 264.10,1260.50 C267.73,1257.13 269.88,1254.40 272.80,1252.40 C275.72,1250.40 278.67,1248.87 281.60,1248.50 C284.53,1248.13 287.12,1248.02 290.40,1250.20 C293.68,1252.38 297.65,1257.07 301.30,1261.60 C304.95,1266.13 308.28,1273.38 312.30,1277.40 C316.32,1281.42 321.03,1284.22 325.40,1285.70 C329.77,1286.30 333.40,1286.30 338.50,1286.30 C343.60,1285.87 350.15,1284.22 356.00,1283.10 C361.85,1281.98 369.60,1279.90 373.60,1279.60 C377.60,1279.30 376.75,1280.47 380.00,1281.30 C383.25,1282.13 385.80,1283.87 393.10,1284.60 C400.40,1285.33 404.32,1285.52 423.80,1285.70 C443.28,1285.70 484.68,1285.70 510.00,1285.70 C535.32,1285.58 561.83,1284.93 575.70,1285.00 C589.57,1285.07 584.82,1285.70 593.20,1286.10 C601.58,1286.50 620.53,1287.18 626.00,1287.40" fill="none" stroke="#ff1a0a" stroke-width="2.1" stroke-linejoin="round"/>
</svg>
</body></html>
